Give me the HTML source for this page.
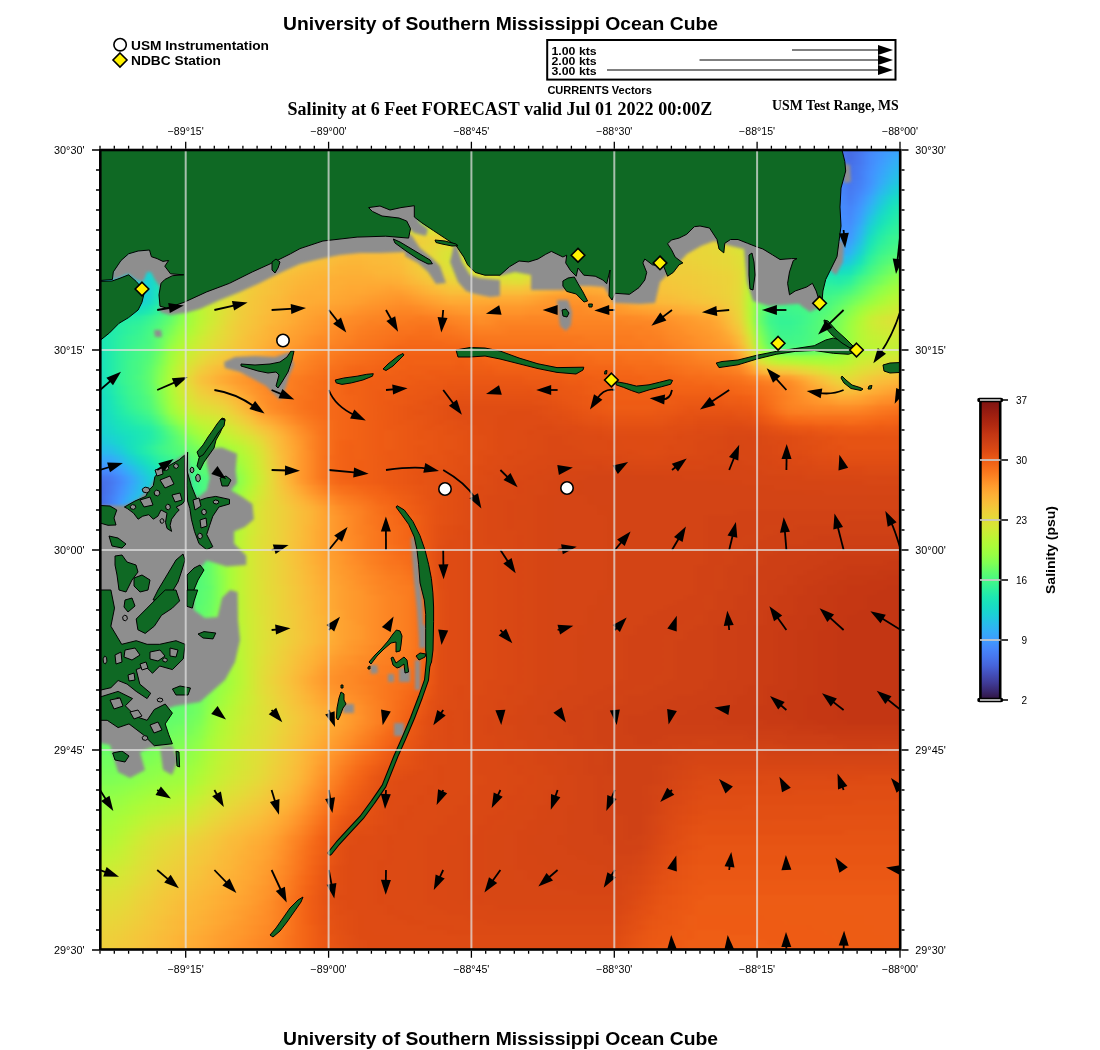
<!DOCTYPE html>
<html><head><meta charset="utf-8"><title>Salinity at 6 Feet FORECAST</title>
<style>
html,body{margin:0;padding:0;background:#fff;width:1100px;height:1050px;overflow:hidden}
#fw{position:absolute;left:100px;top:150px;width:800px;height:800px;overflow:hidden}
#f{position:absolute;left:-10px;top:-10px;width:820px;height:820px;filter:blur(1.5px)}
#f i{display:block;height:5px}
svg{position:absolute;left:0;top:0}
#arr path{stroke:#000;stroke-width:1.8;fill:none}
.land{fill:#0f6924;stroke:#000;stroke-width:1}
.grey{fill:#8e8e8e}
.grid{stroke:#e2e2e2;stroke-opacity:.72;stroke-width:2}
text{font-family:"Liberation Sans",Arial,sans-serif}
.serif{font-family:"Liberation Serif","Times New Roman",serif;font-weight:bold}
</style></head><body>
<div id="fw"><div id="f">
<i style="background:linear-gradient(90deg,#1bd0d5,#1bd0d5,#1bd0d5,#1ad2d2,#1ad4d0,#19d5cd,#18d7ca,#18d9c8,#18d9c8,#18dbc5,#18ddc2,#18dec0,#18e0bd,#19e2bb,#19e3b9,#19e3b9,#1ae4b6,#1ce6b4,#1de7b2,#1fe9af,#20eaac,#20eaac,#22ebaa,#25eca7,#27eea4,#2aefa1,#2cf09e,#2cf09e,#2ff19b,#32f298,#35f394,#38f491,#3cf58e,#3cf58e,#3ff68a,#43f787,#46f884,#4af880,#4ef97d,#4ef97d,#52fa7a,#55fa76,#59fb73,#5dfc6f,#61fc6c,#61fc6c,#65fd69,#69fd66,#6dfe62,#71fe5f,#75fe5c,#75fe5c,#79fe59,#7dff56,#80ff53,#84ff51,#88ff4e,#88ff4e,#8bff4b,#8fff49,#92ff47,#96fe44,#99fe42,#99fe42,#9cfe40,#9ffd3f,#a1fd3d,#a4fc3c,#a7fc3a,#a7fc3a,#a9fb39,#a1fd3d,#59fb73,#18e0bd,#33adf7,#4776ee,#4669e0,#4776ee,#4687fb,#4391fe,#3e9bfe,#3aa3fc,#3aa3fc)"></i>
<i style="background:linear-gradient(90deg,#1bd0d5,#1bd0d5,#1bd0d5,#1ad2d2,#1ad4d0,#19d5cd,#18d7ca,#18d9c8,#18d9c8,#18dbc5,#18ddc2,#18dec0,#18e0bd,#19e2bb,#19e3b9,#19e3b9,#1ae4b6,#1ce6b4,#1de7b2,#1fe9af,#20eaac,#20eaac,#22ebaa,#25eca7,#27eea4,#2aefa1,#2cf09e,#2cf09e,#2ff19b,#32f298,#35f394,#38f491,#3cf58e,#3cf58e,#3ff68a,#43f787,#46f884,#4af880,#4ef97d,#4ef97d,#52fa7a,#55fa76,#59fb73,#5dfc6f,#61fc6c,#61fc6c,#65fd69,#69fd66,#6dfe62,#71fe5f,#75fe5c,#75fe5c,#79fe59,#7dff56,#80ff53,#84ff51,#88ff4e,#88ff4e,#8bff4b,#8fff49,#92ff47,#96fe44,#99fe42,#99fe42,#9cfe40,#9ffd3f,#a1fd3d,#a4fc3c,#a7fc3a,#a7fc3a,#a9fb39,#a1fd3d,#59fb73,#18e0bd,#33adf7,#4776ee,#4669e0,#4776ee,#4687fb,#4391fe,#3e9bfe,#3aa3fc,#38a5fb)"></i>
<i style="background:linear-gradient(90deg,#1bd0d5,#1bd0d5,#1bd0d5,#1ad2d2,#1ad4d0,#19d5cd,#18d7ca,#18d9c8,#18d9c8,#18dbc5,#18ddc2,#18dec0,#18e0bd,#19e2bb,#19e3b9,#19e3b9,#1ae4b6,#1ce6b4,#1de7b2,#1fe9af,#20eaac,#20eaac,#22ebaa,#25eca7,#27eea4,#2aefa1,#2cf09e,#2cf09e,#2ff19b,#32f298,#35f394,#38f491,#3cf58e,#3cf58e,#3ff68a,#43f787,#46f884,#4af880,#4ef97d,#4ef97d,#52fa7a,#55fa76,#59fb73,#5dfc6f,#61fc6c,#61fc6c,#65fd69,#69fd66,#6dfe62,#71fe5f,#75fe5c,#75fe5c,#79fe59,#7dff56,#80ff53,#84ff51,#88ff4e,#88ff4e,#8bff4b,#8fff49,#92ff47,#96fe44,#99fe42,#99fe42,#9cfe40,#9ffd3f,#a1fd3d,#a4fc3c,#a7fc3a,#a7fc3a,#a9fb39,#a1fd3d,#59fb73,#19e2bb,#33adf7,#4776ee,#466be3,#4776ee,#4687fb,#4294ff,#3d9efe,#38a5fb,#37a8fa)"></i>
<i style="background:linear-gradient(90deg,#1bd0d5,#1bd0d5,#1bd0d5,#1ad2d2,#1ad4d0,#19d5cd,#18d7ca,#18d9c8,#18d9c8,#18dbc5,#18ddc2,#18dec0,#18e0bd,#19e2bb,#19e3b9,#19e3b9,#1ae4b6,#1ce6b4,#1de7b2,#1fe9af,#20eaac,#20eaac,#22ebaa,#25eca7,#27eea4,#2aefa1,#2cf09e,#2cf09e,#2ff19b,#32f298,#35f394,#38f491,#3cf58e,#3cf58e,#3ff68a,#43f787,#46f884,#4af880,#4ef97d,#4ef97d,#52fa7a,#55fa76,#59fb73,#5dfc6f,#61fc6c,#61fc6c,#65fd69,#69fd66,#6dfe62,#71fe5f,#75fe5c,#75fe5c,#79fe59,#7dff56,#80ff53,#84ff51,#88ff4e,#88ff4e,#8bff4b,#8fff49,#92ff47,#96fe44,#99fe42,#99fe42,#9cfe40,#9ffd3f,#a1fd3d,#a4fc3c,#a7fc3a,#a7fc3a,#a9fb39,#a1fd3d,#59fb73,#19e2bb,#31aff5,#4778f0,#466be3,#4778f0,#458afc,#4196ff,#3aa3fc,#33adf7,#31aff5)"></i>
<i style="background:linear-gradient(90deg,#1bd0d5,#1bd0d5,#1bd0d5,#1ad2d2,#1ad4d0,#19d5cd,#18d7ca,#18d9c8,#18d9c8,#18dbc5,#18ddc2,#18dec0,#18e0bd,#19e2bb,#19e3b9,#19e3b9,#1ae4b6,#1ce6b4,#1de7b2,#1fe9af,#20eaac,#20eaac,#22ebaa,#25eca7,#27eea4,#2aefa1,#2cf09e,#2cf09e,#2ff19b,#32f298,#35f394,#38f491,#3cf58e,#3cf58e,#3ff68a,#43f787,#46f884,#4af880,#4ef97d,#4ef97d,#52fa7a,#55fa76,#59fb73,#5dfc6f,#61fc6c,#61fc6c,#65fd69,#69fd66,#6dfe62,#71fe5f,#75fe5c,#75fe5c,#79fe59,#7dff56,#80ff53,#84ff51,#88ff4e,#88ff4e,#8bff4b,#8fff49,#92ff47,#96fe44,#99fe42,#99fe42,#9cfe40,#9ffd3f,#a1fd3d,#a4fc3c,#a7fc3a,#a7fc3a,#a9fb39,#a1fd3d,#59fb73,#19e3b9,#2fb2f4,#477bf2,#476ee6,#4778f0,#458afc,#4099ff,#37a8fa,#2fb2f4,#2eb4f2)"></i>
<i style="background:linear-gradient(90deg,#1bd0d5,#1bd0d5,#1bd0d5,#1ad2d2,#1ad4d0,#19d5cd,#18d7ca,#18d9c8,#18d9c8,#18dbc5,#18ddc2,#18dec0,#18e0bd,#19e2bb,#19e3b9,#19e3b9,#1ae4b6,#1ce6b4,#1de7b2,#1fe9af,#20eaac,#20eaac,#22ebaa,#25eca7,#27eea4,#2aefa1,#2cf09e,#2cf09e,#2ff19b,#32f298,#35f394,#38f491,#3cf58e,#3cf58e,#3ff68a,#43f787,#46f884,#4af880,#4ef97d,#4ef97d,#52fa7a,#55fa76,#59fb73,#5dfc6f,#61fc6c,#61fc6c,#65fd69,#69fd66,#6dfe62,#71fe5f,#75fe5c,#75fe5c,#79fe59,#7dff56,#80ff53,#84ff51,#88ff4e,#88ff4e,#8bff4b,#8fff49,#92ff47,#96fe44,#99fe42,#99fe42,#9cfe40,#9ffd3f,#a1fd3d,#a4fc3c,#a7fc3a,#a7fc3a,#a9fb39,#a1fd3d,#5dfc6f,#19e3b9,#2eb4f2,#467df4,#4771e9,#477bf2,#458cfd,#3d9efe,#33adf7,#2ab9ee,#28bceb)"></i>
<i style="background:linear-gradient(90deg,#1bd0d5,#1bd0d5,#1bd0d5,#1ad2d2,#1ad4d0,#19d5cd,#18d7ca,#18d9c8,#18d9c8,#18dbc5,#18ddc2,#18dec0,#18e0bd,#19e2bb,#19e3b9,#19e3b9,#1ae4b6,#1ce6b4,#1de7b2,#1fe9af,#20eaac,#20eaac,#22ebaa,#25eca7,#27eea4,#2aefa1,#2cf09e,#2cf09e,#2ff19b,#32f298,#35f394,#38f491,#3cf58e,#3cf58e,#3ff68a,#43f787,#46f884,#4af880,#4ef97d,#4ef97d,#52fa7a,#55fa76,#59fb73,#5dfc6f,#61fc6c,#61fc6c,#65fd69,#69fd66,#6dfe62,#71fe5f,#75fe5c,#75fe5c,#79fe59,#7dff56,#80ff53,#84ff51,#88ff4e,#88ff4e,#8bff4b,#8fff49,#92ff47,#96fe44,#99fe42,#99fe42,#9cfe40,#9ffd3f,#a1fd3d,#a4fc3c,#a7fc3a,#a7fc3a,#a9fb39,#a1fd3d,#5dfc6f,#1ae4b6,#2eb4f2,#4680f6,#4771e9,#467df4,#448ffe,#3ba0fd,#2fb2f4,#27bee9,#25c0e7)"></i>
<i style="background:linear-gradient(90deg,#1bd0d5,#1bd0d5,#1bd0d5,#1ad2d2,#1ad4d0,#19d5cd,#18d7ca,#18d9c8,#18d9c8,#18dbc5,#18ddc2,#18dec0,#18e0bd,#19e2bb,#19e3b9,#19e3b9,#1ae4b6,#1ce6b4,#1de7b2,#1fe9af,#20eaac,#20eaac,#22ebaa,#25eca7,#27eea4,#2aefa1,#2cf09e,#2cf09e,#2ff19b,#32f298,#35f394,#38f491,#3cf58e,#3cf58e,#3ff68a,#43f787,#46f884,#4af880,#4ef97d,#4ef97d,#52fa7a,#55fa76,#59fb73,#5dfc6f,#61fc6c,#61fc6c,#65fd69,#69fd66,#6dfe62,#71fe5f,#75fe5c,#75fe5c,#79fe59,#7dff56,#80ff53,#84ff51,#88ff4e,#88ff4e,#8bff4b,#8fff49,#92ff47,#96fe44,#99fe42,#99fe42,#9cfe40,#9ffd3f,#a1fd3d,#a4fc3c,#a7fc3a,#a7fc3a,#a9fb39,#a1fd3d,#5dfc6f,#1ae4b6,#2cb7f0,#4682f8,#4773eb,#467df4,#4391fe,#38a5fb,#2cb7f0,#22c5e2,#20c7df)"></i>
<i style="background:linear-gradient(90deg,#1bd0d5,#1bd0d5,#1bd0d5,#1ad2d2,#1ad4d0,#19d5cd,#18d7ca,#18d9c8,#18d9c8,#18dbc5,#18ddc2,#18dec0,#18e0bd,#19e2bb,#19e2bb,#19e3b9,#1ae4b6,#1ce6b4,#1de7b2,#1fe9af,#1fe9af,#20eaac,#22ebaa,#25eca7,#27eea4,#2aefa1,#2aefa1,#2cf09e,#2ff19b,#32f298,#35f394,#38f491,#38f491,#3cf58e,#3ff68a,#43f787,#46f884,#4af880,#4af880,#4ef97d,#52fa7a,#55fa76,#59fb73,#5dfc6f,#5dfc6f,#61fc6c,#65fd69,#69fd66,#6dfe62,#71fe5f,#71fe5f,#75fe5c,#79fe59,#7dff56,#80ff53,#84ff51,#84ff51,#88ff4e,#8bff4b,#8fff49,#92ff47,#96fe44,#96fe44,#99fe42,#9cfe40,#9ffd3f,#a1fd3d,#a4fc3c,#a4fc3c,#a7fc3a,#a9fb39,#a1fd3d,#5dfc6f,#1ae4b6,#2ab9ee,#4685fa,#4776ee,#4680f6,#4391fe,#37a8fa,#28bceb,#1fc9dd,#1ecbda)"></i>
<i style="background:linear-gradient(90deg,#1bd0d5,#1bd0d5,#1bd0d5,#1ad2d2,#1ad4d0,#19d5cd,#18d7ca,#18d7ca,#18d9c8,#18dbc5,#18ddc2,#18dec0,#18e0bd,#18e0bd,#19e2bb,#19e3b9,#1ae4b6,#1ce6b4,#1ce6b4,#1de7b2,#1fe9af,#20eaac,#22ebaa,#22ebaa,#25eca7,#27eea4,#2aefa1,#2cf09e,#2cf09e,#2ff19b,#32f298,#35f394,#38f491,#38f491,#3cf58e,#3ff68a,#43f787,#46f884,#46f884,#4af880,#4ef97d,#52fa7a,#55fa76,#59fb73,#59fb73,#5dfc6f,#61fc6c,#65fd69,#69fd66,#69fd66,#6dfe62,#71fe5f,#75fe5c,#79fe59,#79fe59,#7dff56,#80ff53,#84ff51,#88ff4e,#88ff4e,#8bff4b,#8fff49,#92ff47,#96fe44,#96fe44,#99fe42,#9cfe40,#9ffd3f,#a1fd3d,#a1fd3d,#a4fc3c,#9ffd3f,#59fb73,#1ae4b6,#2ab9ee,#4687fb,#4778f0,#4682f8,#4196ff,#31aff5,#22c5e2,#1ad2d2,#1ad4d0)"></i>
<i style="background:linear-gradient(90deg,#1bd0d5,#1bd0d5,#1bd0d5,#1ad2d2,#1ad4d0,#19d5cd,#18d7ca,#18d7ca,#18d9c8,#18dbc5,#18ddc2,#18ddc2,#18dec0,#18e0bd,#19e2bb,#19e3b9,#19e3b9,#1ae4b6,#1ce6b4,#1de7b2,#1de7b2,#1fe9af,#20eaac,#22ebaa,#25eca7,#25eca7,#27eea4,#2aefa1,#2cf09e,#2cf09e,#2ff19b,#32f298,#35f394,#38f491,#38f491,#3cf58e,#3ff68a,#43f787,#43f787,#46f884,#4af880,#4ef97d,#4ef97d,#52fa7a,#55fa76,#59fb73,#5dfc6f,#5dfc6f,#61fc6c,#65fd69,#69fd66,#69fd66,#6dfe62,#71fe5f,#75fe5c,#79fe59,#79fe59,#7dff56,#80ff53,#84ff51,#84ff51,#88ff4e,#8bff4b,#8fff49,#92ff47,#92ff47,#96fe44,#99fe42,#9cfe40,#9cfe40,#9ffd3f,#99fe42,#55fa76,#19e3b9,#2ab9ee,#4687fb,#477bf2,#4687fb,#3e9bfe,#2cb7f0,#1fc9dd,#18d7ca,#18d9c8)"></i>
<i style="background:linear-gradient(90deg,#1bd0d5,#1bd0d5,#1bd0d5,#1ad2d2,#1ad4d0,#19d5cd,#19d5cd,#18d7ca,#18d9c8,#18d9c8,#18dbc5,#18ddc2,#18dec0,#18dec0,#18e0bd,#19e2bb,#19e3b9,#19e3b9,#1ae4b6,#1ce6b4,#1ce6b4,#1de7b2,#1fe9af,#20eaac,#20eaac,#22ebaa,#25eca7,#27eea4,#27eea4,#2aefa1,#2cf09e,#2cf09e,#2ff19b,#32f298,#35f394,#35f394,#38f491,#3cf58e,#3ff68a,#3ff68a,#43f787,#46f884,#46f884,#4af880,#4ef97d,#52fa7a,#52fa7a,#55fa76,#59fb73,#5dfc6f,#5dfc6f,#61fc6c,#65fd69,#65fd69,#69fd66,#6dfe62,#71fe5f,#71fe5f,#75fe5c,#79fe59,#7dff56,#7dff56,#80ff53,#84ff51,#84ff51,#88ff4e,#8bff4b,#8fff49,#8fff49,#92ff47,#96fe44,#8bff4b,#4af880,#19e2bb,#2cb7f0,#458afc,#467df4,#458cfd,#38a5fb,#25c0e7,#1ad4d0,#18dec0,#18e0bd)"></i>
<i style="background:linear-gradient(90deg,#1bd0d5,#1bd0d5,#1bd0d5,#1ad2d2,#1ad4d0,#1ad4d0,#19d5cd,#18d7ca,#18d9c8,#18d9c8,#18dbc5,#18ddc2,#18ddc2,#18dec0,#18e0bd,#18e0bd,#19e2bb,#19e3b9,#1ae4b6,#1ae4b6,#1ce6b4,#1de7b2,#1de7b2,#1fe9af,#20eaac,#20eaac,#22ebaa,#25eca7,#25eca7,#27eea4,#2aefa1,#2cf09e,#2cf09e,#2ff19b,#32f298,#32f298,#35f394,#38f491,#38f491,#3cf58e,#3ff68a,#3ff68a,#43f787,#46f884,#4af880,#4af880,#4ef97d,#52fa7a,#52fa7a,#55fa76,#59fb73,#59fb73,#5dfc6f,#61fc6c,#61fc6c,#65fd69,#69fd66,#6dfe62,#6dfe62,#71fe5f,#75fe5c,#75fe5c,#79fe59,#7dff56,#7dff56,#80ff53,#84ff51,#84ff51,#88ff4e,#8bff4b,#8fff49,#84ff51,#46f884,#18e0bd,#2cb7f0,#458afc,#4680f6,#4391fe,#35abf8,#22c5e2,#18d9c8,#19e3b9,#1ae4b6)"></i>
<i style="background:linear-gradient(90deg,#1bd0d5,#1bd0d5,#1bd0d5,#1ad2d2,#1ad4d0,#19d5cd,#19d5cd,#18d7ca,#18d9c8,#18dbc5,#18ddc2,#18ddc2,#18dec0,#18e0bd,#19e2bb,#19e2bb,#19e3b9,#1ae4b6,#1ce6b4,#1ce6b4,#1de7b2,#1fe9af,#20eaac,#20eaac,#22ebaa,#22ebaa,#25eca7,#27eea4,#27eea4,#2aefa1,#2cf09e,#2cf09e,#2ff19b,#32f298,#32f298,#35f394,#35f394,#38f491,#3cf58e,#3cf58e,#3ff68a,#43f787,#43f787,#46f884,#46f884,#4af880,#4ef97d,#4ef97d,#52fa7a,#55fa76,#55fa76,#59fb73,#59fb73,#5dfc6f,#61fc6c,#61fc6c,#65fd69,#69fd66,#69fd66,#6dfe62,#6dfe62,#71fe5f,#75fe5c,#75fe5c,#79fe59,#79fe59,#7dff56,#7dff56,#7dff56,#80ff53,#80ff53,#79fe59,#3cf58e,#18ddc2,#2cb7f0,#458cfd,#4685fa,#4196ff,#2eb4f2,#1ccdd8,#18e0bd,#1fe9af,#20eaac)"></i>
<i style="background:linear-gradient(90deg,#1bd0d5,#1bd0d5,#1ad2d2,#1ad4d0,#19d5cd,#18d7ca,#18d9c8,#18dbc5,#18ddc2,#18dec0,#18e0bd,#19e2bb,#19e3b9,#1ae4b6,#1ce6b4,#1de7b2,#1fe9af,#20eaac,#22ebaa,#27eea4,#2aefa1,#2cf09e,#2cf09e,#2ff19b,#2ff19b,#32f298,#32f298,#35f394,#38f491,#38f491,#3cf58e,#3cf58e,#3ff68a,#3ff68a,#43f787,#46f884,#46f884,#4af880,#4af880,#4ef97d,#4ef97d,#52fa7a,#52fa7a,#55fa76,#59fb73,#59fb73,#5dfc6f,#5dfc6f,#61fc6c,#61fc6c,#65fd69,#69fd66,#69fd66,#6dfe62,#6dfe62,#71fe5f,#71fe5f,#75fe5c,#75fe5c,#79fe59,#79fe59,#7dff56,#7dff56,#80ff53,#80ff53,#80ff53,#7dff56,#7dff56,#7dff56,#7dff56,#7dff56,#71fe5f,#35f394,#18dbc5,#2cb7f0,#458cfd,#4687fb,#3e9bfe,#2ab9ee,#1ad4d0,#19e3b9,#22ebaa,#25eca7)"></i>
<i style="background:linear-gradient(90deg,#1bd0d5,#1bd0d5,#1ad2d2,#19d5cd,#18d9c8,#18ddc2,#18e0bd,#19e3b9,#1ae4b6,#1de7b2,#20eaac,#25eca7,#2aefa1,#2ff19b,#35f394,#38f491,#3ff68a,#46f884,#4ef97d,#55fa76,#5dfc6f,#61fc6c,#65fd69,#65fd69,#69fd66,#69fd66,#69fd66,#6dfe62,#6dfe62,#71fe5f,#71fe5f,#75fe5c,#75fe5c,#75fe5c,#79fe59,#79fe59,#7dff56,#7dff56,#80ff53,#80ff53,#80ff53,#84ff51,#84ff51,#88ff4e,#88ff4e,#8bff4b,#8bff4b,#8bff4b,#8fff49,#8fff49,#92ff47,#92ff47,#96fe44,#96fe44,#96fe44,#99fe42,#99fe42,#9cfe40,#9cfe40,#9cfe40,#9cfe40,#9ffd3f,#9ffd3f,#9ffd3f,#99fe42,#96fe44,#8fff49,#88ff4e,#84ff51,#7dff56,#75fe5c,#65fd69,#2ff19b,#18d9c8,#2eb4f2,#448ffe,#458afc,#3ba0fd,#23c3e4,#18dbc5,#1de7b2,#27eea4,#2aefa1)"></i>
<i style="background:linear-gradient(90deg,#1bd0d5,#1bd0d5,#1ad4d0,#18d9c8,#18ddc2,#18e0bd,#1ae4b6,#1de7b2,#22ebaa,#27eea4,#2ff19b,#35f394,#3cf58e,#46f884,#4ef97d,#59fb73,#61fc6c,#6dfe62,#75fe5c,#7dff56,#88ff4e,#8fff49,#92ff47,#92ff47,#92ff47,#96fe44,#96fe44,#96fe44,#99fe42,#99fe42,#99fe42,#9cfe40,#9cfe40,#9cfe40,#9ffd3f,#9ffd3f,#9ffd3f,#a1fd3d,#a1fd3d,#a1fd3d,#a1fd3d,#a4fc3c,#a4fc3c,#a4fc3c,#a7fc3a,#a7fc3a,#a7fc3a,#a9fb39,#a9fb39,#a9fb39,#acfb38,#acfb38,#acfb38,#affa37,#affa37,#affa37,#b1f936,#b1f936,#b1f936,#b1f936,#b1f936,#b1f936,#b1f936,#b1f936,#a9fb39,#a4fc3c,#9cfe40,#92ff47,#88ff4e,#7dff56,#71fe5f,#59fb73,#2aefa1,#18d7ca,#2eb4f2,#448ffe,#458cfd,#38a5fb,#1fc9dd,#18dec0,#20eaac,#2cf09e,#2cf09e)"></i>
<i style="background:linear-gradient(90deg,#1bd0d5,#1bd0d5,#19d5cd,#18dbc5,#19e2bb,#1ce6b4,#20eaac,#2aefa1,#32f298,#3cf58e,#4af880,#55fa76,#61fc6c,#71fe5f,#7dff56,#88ff4e,#96fe44,#9ffd3f,#a7fc3a,#b1f936,#b9f635,#c1f334,#c1f334,#c3f134,#c3f134,#c3f134,#c3f134,#c3f134,#c3f134,#c6f034,#c6f034,#c6f034,#c6f034,#c6f034,#c6f034,#c8ef34,#c8ef34,#c8ef34,#c8ef34,#c8ef34,#c8ef34,#cbed34,#cbed34,#cbed34,#cbed34,#cbed34,#cdec34,#cdec34,#cdec34,#cdec34,#cdec34,#cdec34,#d0ea34,#d0ea34,#d0ea34,#d0ea34,#d0ea34,#d0ea34,#d0ea34,#d0ea34,#d0ea34,#cdec34,#cdec34,#cbed34,#c3f134,#b7f735,#acfb38,#9ffd3f,#8fff49,#7dff56,#69fd66,#4ef97d,#25eca7,#19d5cd,#2eb4f2,#4391fe,#4391fe,#33adf7,#1ad2d2,#1ae4b6,#27eea4,#32f298,#32f298)"></i>
<i style="background:linear-gradient(90deg,#1bd0d5,#1bd0d5,#19d5cd,#18ddc2,#19e3b9,#1fe9af,#25eca7,#2ff19b,#3cf58e,#4af880,#59fb73,#69fd66,#79fe59,#88ff4e,#96fe44,#a1fd3d,#acfb38,#b7f735,#bef434,#c8ef34,#d2e935,#d9e436,#dbe236,#dbe236,#dbe236,#dbe236,#dbe236,#dde037,#dde037,#dde037,#dde037,#dde037,#dde037,#dde037,#dde037,#dde037,#dde037,#dde037,#dde037,#dde037,#dde037,#dde037,#dde037,#dfdf37,#dfdf37,#dfdf37,#dfdf37,#dfdf37,#dfdf37,#dfdf37,#dfdf37,#e1dd37,#e1dd37,#e1dd37,#e1dd37,#e1dd37,#e1dd37,#e1dd37,#dfdf37,#dfdf37,#dde037,#dde037,#dde037,#dbe236,#d0ea34,#c3f134,#b4f836,#a7fc3a,#92ff47,#7dff56,#65fd69,#46f884,#20eaac,#1ad4d0,#2fb2f4,#4294ff,#4294ff,#2fb2f4,#19d5cd,#1fe9af,#2cf09e,#35f394,#35f394)"></i>
<i style="background:linear-gradient(90deg,#1bd0d5,#1bd0d5,#19d5cd,#18ddc2,#19e2bb,#1de7b2,#25eca7,#2ff19b,#3ff68a,#55fa76,#69fd66,#7dff56,#8bff4b,#9cfe40,#a7fc3a,#b4f836,#bef434,#cbed34,#d4e735,#dde037,#e5d938,#ebd339,#ecd13a,#eecf3a,#eecf3a,#eecf3a,#efcd3a,#efcd3a,#efcd3a,#eecf3a,#eecf3a,#eecf3a,#ecd13a,#ecd13a,#ebd339,#e9d539,#e9d539,#e9d539,#e9d539,#e9d539,#ebd339,#ebd339,#ebd339,#ebd339,#ecd13a,#ecd13a,#ecd13a,#ecd13a,#ecd13a,#eecf3a,#eecf3a,#eecf3a,#eecf3a,#eecf3a,#eecf3a,#ecd13a,#ecd13a,#ecd13a,#ebd339,#ebd339,#e9d539,#e9d539,#e7d739,#e5d938,#dbe236,#d0ea34,#bef434,#a9fb39,#92ff47,#75fe5c,#52fa7a,#32f298,#1ae4b6,#1ccdd8,#2fb2f4,#4196ff,#4099ff,#2ab9ee,#18dec0,#25eca7,#35f394,#3cf58e,#3cf58e)"></i>
<i style="background:linear-gradient(90deg,#1bd0d5,#1bd0d5,#1ad4d0,#18d9c8,#18dec0,#19e3b9,#1de7b2,#2aefa1,#3cf58e,#52fa7a,#65fd69,#7dff56,#8fff49,#9ffd3f,#acfb38,#b9f635,#c6f034,#d0ea34,#d9e436,#dfdf37,#e7d739,#eecf3a,#efcd3a,#f1cb3a,#f2c93a,#f2c93a,#f4c73a,#f4c73a,#f4c73a,#f2c93a,#f2c93a,#f2c93a,#efcd3a,#eecf3a,#ebd339,#e9d539,#e5d938,#e7d739,#e7d739,#e9d539,#e9d539,#ebd339,#ebd339,#ecd13a,#ecd13a,#eecf3a,#eecf3a,#efcd3a,#efcd3a,#efcd3a,#efcd3a,#efcd3a,#efcd3a,#efcd3a,#efcd3a,#efcd3a,#eecf3a,#eecf3a,#ecd13a,#ebd339,#ebd339,#e9d539,#e9d539,#e5d938,#dfdf37,#d2e935,#c1f334,#a9fb39,#8fff49,#69fd66,#43f787,#25eca7,#18dec0,#1fc9dd,#2fb2f4,#3e9bfe,#3ba0fd,#25c0e7,#19e2bb,#2aefa1,#38f491,#3ff68a,#43f787)"></i>
<i style="background:linear-gradient(90deg,#1bd0d5,#1bd0d5,#1ad2d2,#19d5cd,#18d7ca,#18dbc5,#18dec0,#1fe9af,#2ff19b,#46f884,#61fc6c,#7dff56,#92ff47,#a1fd3d,#b1f936,#bef434,#cbed34,#d4e735,#dbe236,#e3db38,#e9d539,#eecf3a,#f1cb3a,#f2c93a,#f5c53a,#f6c33a,#f7c13a,#f7c13a,#f7c13a,#f6c33a,#f6c33a,#f5c53a,#f1cb3a,#ecd13a,#e9d539,#e3db38,#dfdf37,#dfdf37,#e1dd37,#e3db38,#e5d938,#e7d739,#e9d539,#ebd339,#ebd339,#ecd13a,#eecf3a,#efcd3a,#efcd3a,#f1cb3a,#f1cb3a,#f2c93a,#f1cb3a,#f1cb3a,#efcd3a,#efcd3a,#eecf3a,#eecf3a,#ecd13a,#ebd339,#ebd339,#e9d539,#e7d739,#e5d938,#e1dd37,#d9e436,#c3f134,#a9fb39,#88ff4e,#59fb73,#2ff19b,#19e3b9,#1ad4d0,#22c5e2,#2fb2f4,#3ba0fd,#35abf8,#1fc9dd,#1de7b2,#32f298,#3ff68a,#4af880,#4af880)"></i>
<i style="background:linear-gradient(90deg,#1bd0d5,#1bd0d5,#1bd0d5,#1ad2d2,#1ad4d0,#19d5cd,#18d9c8,#1ae4b6,#2aefa1,#43f787,#61fc6c,#80ff53,#96fe44,#a4fc3c,#b4f836,#c1f334,#d0ea34,#d7e535,#dde037,#e3db38,#ebd339,#eecf3a,#f1cb3a,#f4c73a,#f6c33a,#f8be39,#f9bc39,#f9bc39,#f8be39,#f8be39,#f7c13a,#f6c33a,#f2c93a,#ecd13a,#e7d739,#dfdf37,#d9e436,#dbe236,#dde037,#dfdf37,#e1dd37,#e3db38,#e5d938,#e7d739,#ebd339,#ecd13a,#eecf3a,#efcd3a,#f1cb3a,#f1cb3a,#f2c93a,#f2c93a,#f2c93a,#f1cb3a,#f1cb3a,#efcd3a,#eecf3a,#eecf3a,#ecd13a,#ebd339,#ebd339,#e9d539,#e7d739,#e5d938,#e1dd37,#dbe236,#c3f134,#a7fc3a,#80ff53,#52fa7a,#25eca7,#18ddc2,#1ccdd8,#25c0e7,#2fb2f4,#38a5fb,#2fb2f4,#1bd0d5,#22ebaa,#38f491,#46f884,#4ef97d,#52fa7a)"></i>
<i style="background:linear-gradient(90deg,#1bd0d5,#1bd0d5,#1bd0d5,#1bd0d5,#1bd0d5,#1bd0d5,#1ad4d0,#18e0bd,#27eea4,#43f787,#65fd69,#88ff4e,#9cfe40,#acfb38,#bcf534,#c8ef34,#d7e535,#dde037,#e3db38,#e9d539,#eecf3a,#f1cb3a,#f4c73a,#f6c33a,#f8be39,#faba39,#fbb838,#fbb838,#faba39,#faba39,#f9bc39,#f8be39,#f4c73a,#eecf3a,#e7d739,#dfdf37,#d7e535,#d7e535,#d9e436,#dbe236,#dde037,#dfdf37,#e1dd37,#e3db38,#e7d739,#ebd339,#eecf3a,#efcd3a,#f1cb3a,#f2c93a,#f4c73a,#f4c73a,#f4c73a,#f2c93a,#f1cb3a,#f1cb3a,#efcd3a,#eecf3a,#eecf3a,#ecd13a,#ebd339,#e9d539,#e9d539,#e7d739,#e5d938,#dfdf37,#c6f034,#a4fc3c,#79fe59,#46f884,#22ebaa,#18dbc5,#1bd0d5,#20c7df,#27bee9,#2eb4f2,#25c0e7,#18dbc5,#2cf09e,#43f787,#52fa7a,#59fb73,#5dfc6f)"></i>
<i style="background:linear-gradient(90deg,#1bd0d5,#1bd0d5,#1bd0d5,#1bd0d5,#1bd0d5,#1bd0d5,#1ad2d2,#19e2bb,#27eea4,#46f884,#6dfe62,#8fff49,#a4fc3c,#b1f936,#c1f334,#d0ea34,#dbe236,#e3db38,#e7d739,#ecd13a,#f1cb3a,#f4c73a,#f6c33a,#f8be39,#f9bc39,#fbb838,#fbb637,#fbb637,#fbb838,#faba39,#faba39,#f8be39,#f5c53a,#efcd3a,#e9d539,#e1dd37,#d9e436,#d9e436,#d9e436,#dbe236,#dbe236,#dde037,#dde037,#dfdf37,#e3db38,#e9d539,#eecf3a,#efcd3a,#f1cb3a,#f2c93a,#f4c73a,#f5c53a,#f5c53a,#f4c73a,#f2c93a,#f1cb3a,#f1cb3a,#efcd3a,#eecf3a,#eecf3a,#ecd13a,#ebd339,#e9d539,#e7d739,#e5d938,#dfdf37,#c3f134,#a1fd3d,#71fe5f,#46f884,#27eea4,#18e0bd,#18d7ca,#1ad2d2,#1fc9dd,#25c0e7,#1ecbda,#19e2bb,#32f298,#4af880,#59fb73,#65fd69,#69fd66)"></i>
<i style="background:linear-gradient(90deg,#1bd0d5,#1bd0d5,#1bd0d5,#1bd0d5,#1bd0d5,#1bd0d5,#1ad2d2,#19e2bb,#2cf09e,#52fa7a,#79fe59,#9cfe40,#affa37,#bef434,#cdec34,#d9e436,#e5d938,#ebd339,#eecf3a,#f2c93a,#f5c53a,#f7c13a,#f9bc39,#faba39,#fbb838,#fcb336,#fcb336,#fcb336,#fbb637,#fbb637,#fbb838,#faba39,#f6c33a,#f1cb3a,#ebd339,#e3db38,#dde037,#dbe236,#dbe236,#d9e436,#d9e436,#d7e535,#d7e535,#d7e535,#dfdf37,#e7d739,#eecf3a,#f1cb3a,#f2c93a,#f4c73a,#f5c53a,#f6c33a,#f6c33a,#f5c53a,#f4c73a,#f4c73a,#f2c93a,#f1cb3a,#efcd3a,#efcd3a,#eecf3a,#ecd13a,#ebd339,#e9d539,#e7d739,#e1dd37,#c3f134,#9cfe40,#69fd66,#46f884,#2ff19b,#20eaac,#1ae4b6,#18dec0,#18d9c8,#1ad4d0,#18dbc5,#22ebaa,#3ff68a,#55fa76,#69fd66,#75fe5c,#79fe59)"></i>
<i style="background:linear-gradient(90deg,#1bd0d5,#1bd0d5,#1bd0d5,#1bd0d5,#1bd0d5,#1bd0d5,#1ad2d2,#19e3b9,#2ff19b,#55fa76,#84ff51,#a4fc3c,#b7f735,#c3f134,#d2e935,#dfdf37,#e9d539,#eecf3a,#f2c93a,#f5c53a,#f7c13a,#f9bc39,#fbb838,#fbb637,#fbb637,#fcb336,#fcb136,#fcb136,#fcb336,#fbb637,#fbb637,#fbb838,#f7c13a,#f4c73a,#eecf3a,#e7d739,#e1dd37,#dde037,#dbe236,#dbe236,#d9e436,#d7e535,#d4e735,#d2e935,#dde037,#e7d739,#eecf3a,#f1cb3a,#f4c73a,#f5c53a,#f6c33a,#f7c13a,#f7c13a,#f6c33a,#f5c53a,#f4c73a,#f4c73a,#f2c93a,#f1cb3a,#efcd3a,#efcd3a,#eecf3a,#ecd13a,#ebd339,#e9d539,#e3db38,#c3f134,#96fe44,#61fc6c,#4af880,#38f491,#2aefa1,#22ebaa,#1ce6b4,#19e2bb,#18dec0,#19e3b9,#2cf09e,#46f884,#5dfc6f,#71fe5f,#80ff53,#84ff51)"></i>
<i style="background:linear-gradient(90deg,#1ccdd8,#1ccdd8,#1ccdd8,#1ccdd8,#1ccdd8,#1ccdd8,#1ad4d0,#1ae4b6,#35f394,#5dfc6f,#8bff4b,#acfb38,#bef434,#cbed34,#d9e436,#e5d938,#eecf3a,#f2c93a,#f5c53a,#f7c13a,#f9bc39,#fbb838,#fbb637,#fcb336,#fcb136,#fdae35,#fdae35,#fdae35,#fdae35,#fcb136,#fcb136,#fcb336,#faba39,#f6c33a,#f2c93a,#ecd13a,#e7d739,#e5d938,#e3db38,#e1dd37,#dfdf37,#dde037,#d9e436,#d9e436,#e1dd37,#ebd339,#f2c93a,#f5c53a,#f6c33a,#f8be39,#f9bc39,#f9bc39,#f9bc39,#f8be39,#f7c13a,#f6c33a,#f5c53a,#f4c73a,#f2c93a,#f1cb3a,#f1cb3a,#efcd3a,#eecf3a,#ecd13a,#ebd339,#e3db38,#c1f334,#8fff49,#5dfc6f,#4af880,#3ff68a,#35f394,#2cf09e,#27eea4,#20eaac,#1fe9af,#25eca7,#3ff68a,#55fa76,#6dfe62,#80ff53,#92ff47,#92ff47)"></i>
<i style="background:linear-gradient(90deg,#1ccdd8,#1ccdd8,#1ccdd8,#1ccdd8,#1ccdd8,#1ccdd8,#1ad4d0,#1ae4b6,#35f394,#61fc6c,#8fff49,#affa37,#c1f334,#cdec34,#dbe236,#e7d739,#efcd3a,#f4c73a,#f6c33a,#f8be39,#faba39,#fbb637,#fcb336,#fcb136,#fdae35,#fdae35,#fdac34,#fdac34,#fdac34,#fdac34,#fdac34,#fdae35,#fbb637,#f9bc39,#f6c33a,#f2c93a,#eecf3a,#ebd339,#ebd339,#e9d539,#e7d739,#e5d938,#e3db38,#e1dd37,#e9d539,#f1cb3a,#f6c33a,#f8be39,#faba39,#faba39,#fbb838,#fbb637,#faba39,#f9bc39,#f8be39,#f7c13a,#f6c33a,#f5c53a,#f4c73a,#f2c93a,#f1cb3a,#efcd3a,#eecf3a,#ecd13a,#ebd339,#e3db38,#bef434,#8bff4b,#5dfc6f,#4af880,#3ff68a,#38f491,#32f298,#2cf09e,#27eea4,#25eca7,#2ff19b,#4af880,#61fc6c,#75fe5c,#8bff4b,#99fe42,#9cfe40)"></i>
<i style="background:linear-gradient(90deg,#1ecbda,#1ecbda,#1ecbda,#1ecbda,#1ecbda,#1ecbda,#1ad4d0,#1ce6b4,#38f491,#69fd66,#96fe44,#b4f836,#c3f134,#d2e935,#dde037,#e9d539,#f1cb3a,#f5c53a,#f7c13a,#f9bc39,#fbb838,#fcb336,#fcb136,#fdae35,#fdae35,#fdac34,#fea933,#fea933,#fea732,#fea732,#fea431,#fea732,#fdac34,#fcb336,#faba39,#f7c13a,#f5c53a,#f4c73a,#f4c73a,#f4c73a,#f2c93a,#f2c93a,#f1cb3a,#f1cb3a,#f5c53a,#f8be39,#fbb637,#fcb136,#fdae35,#fdae35,#fdae35,#fdae35,#fcb336,#fbb838,#faba39,#f8be39,#f7c13a,#f6c33a,#f5c53a,#f4c73a,#f2c93a,#f1cb3a,#efcd3a,#eecf3a,#ebd339,#e3db38,#b9f635,#80ff53,#59fb73,#4ef97d,#43f787,#3cf58e,#38f491,#35f394,#32f298,#32f298,#3ff68a,#59fb73,#71fe5f,#88ff4e,#99fe42,#a7fc3a,#a9fb39)"></i>
<i style="background:linear-gradient(90deg,#1fc9dd,#1fc9dd,#1fc9dd,#1fc9dd,#1fc9dd,#1fc9dd,#1ad4d0,#1de7b2,#3cf58e,#69fd66,#99fe42,#b7f735,#c6f034,#d4e735,#dfdf37,#ebd339,#f1cb3a,#f5c53a,#f7c13a,#f9bc39,#fbb637,#fcb136,#fdae35,#fdae35,#fdac34,#fea933,#fea732,#fea732,#fea431,#fea130,#fe9e2f,#fe9e2f,#fea431,#fdac34,#fcb336,#fbb838,#f8be39,#f8be39,#f8be39,#f8be39,#f8be39,#f8be39,#f8be39,#f8be39,#faba39,#fcb336,#fdae35,#fea933,#fea732,#fea732,#fea732,#fea933,#fdae35,#fcb336,#fbb838,#f9bc39,#f8be39,#f7c13a,#f6c33a,#f5c53a,#f4c73a,#f2c93a,#efcd3a,#eecf3a,#ebd339,#e3db38,#b7f735,#7dff56,#59fb73,#4ef97d,#43f787,#3ff68a,#3cf58e,#38f491,#38f491,#3ff68a,#4ef97d,#65fd69,#7dff56,#92ff47,#a1fd3d,#affa37,#b1f936)"></i>
<i style="background:linear-gradient(90deg,#1fc9dd,#1fc9dd,#1fc9dd,#1fc9dd,#1fc9dd,#1ecbda,#19d5cd,#1fe9af,#3ff68a,#71fe5f,#9cfe40,#b9f635,#cbed34,#d7e535,#e1dd37,#ecd13a,#f2c93a,#f6c33a,#f8be39,#faba39,#fcb336,#fdae35,#fdac34,#fdac34,#fea933,#fea732,#fea431,#fea130,#fe9e2f,#fe9b2d,#fe992c,#fe962b,#fe9b2d,#fea130,#fea732,#fdac34,#fcb136,#fcb136,#fcb136,#fcb136,#fdae35,#fdae35,#fdae35,#fdae35,#fea933,#fea431,#fe9e2f,#fe9b2d,#fe992c,#fe992c,#fe9b2d,#fe9e2f,#fea732,#fdac34,#fcb336,#fbb838,#faba39,#f9bc39,#f8be39,#f7c13a,#f5c53a,#f4c73a,#f2c93a,#efcd3a,#ecd13a,#e3db38,#b4f836,#75fe5c,#59fb73,#4ef97d,#46f884,#43f787,#43f787,#43f787,#43f787,#4ef97d,#61fc6c,#75fe5c,#8bff4b,#9ffd3f,#affa37,#b9f635,#bcf534)"></i>
<i style="background:linear-gradient(90deg,#1ccdd8,#1ccdd8,#1ccdd8,#1ccdd8,#1ccdd8,#1bd0d5,#18dbc5,#22ebaa,#46f884,#75fe5c,#9ffd3f,#bcf534,#cbed34,#d9e436,#e3db38,#ecd13a,#f4c73a,#f6c33a,#f9bc39,#fbb838,#fcb336,#fdae35,#fdac34,#fea933,#fea732,#fea431,#fea130,#fe9e2f,#fe992c,#fe962b,#fe932a,#fe9029,#fe932a,#fe992c,#fe9e2f,#fea431,#fea933,#fea933,#fea933,#fea732,#fea732,#fea431,#fea431,#fea431,#fea130,#fe9b2d,#fe992c,#fe962b,#fe932a,#fe932a,#fe962b,#fe992c,#fea130,#fea732,#fdae35,#fcb336,#fbb637,#fbb838,#faba39,#f9bc39,#f8be39,#f6c33a,#f5c53a,#f2c93a,#eecf3a,#e3db38,#b4f836,#6dfe62,#55fa76,#4af880,#43f787,#43f787,#46f884,#46f884,#4af880,#59fb73,#6dfe62,#84ff51,#99fe42,#a9fb39,#b7f735,#c1f334,#c3f134)"></i>
<i style="background:linear-gradient(90deg,#19d5cd,#19d5cd,#18d7ca,#18d9c8,#18dbc5,#18ddc2,#1ae4b6,#2ff19b,#4ef97d,#79fe59,#9ffd3f,#bcf534,#cbed34,#d9e436,#e5d938,#eecf3a,#f4c73a,#f7c13a,#f9bc39,#fbb637,#fcb136,#fdac34,#fea732,#fea431,#fea130,#fe9e2f,#fe9b2d,#fe962b,#fe932a,#fe9029,#fd8d27,#fd8a26,#fd8a26,#fd8d27,#fe932a,#fe992c,#fe9b2d,#fe9e2f,#fe9e2f,#fe9e2f,#fe9b2d,#fe992c,#fe992c,#fe992c,#fe962b,#fe932a,#fe9029,#fe9029,#fd8d27,#fd8d27,#fe9029,#fe932a,#fe992c,#fe9b2d,#fea130,#fea732,#fea933,#fdac34,#fdae35,#fcb136,#fbb637,#fbb838,#f9bc39,#f7c13a,#f1cb3a,#e5d938,#b4f836,#69fd66,#4ef97d,#43f787,#3ff68a,#43f787,#46f884,#4af880,#52fa7a,#65fd69,#7dff56,#96fe44,#a9fb39,#b9f635,#c3f134,#cdec34,#cdec34)"></i>
<i style="background:linear-gradient(90deg,#18ddc2,#18ddc2,#18dec0,#18e0bd,#19e2bb,#1ae4b6,#22ebaa,#38f491,#55fa76,#7dff56,#9ffd3f,#b9f635,#cbed34,#d9e436,#e5d938,#efcd3a,#f4c73a,#f7c13a,#faba39,#fbb637,#fdae35,#fea933,#fea431,#fea130,#fe9e2f,#fe992c,#fe962b,#fe9029,#fd8d27,#fd8a26,#fc8725,#fc8423,#fc8423,#fc8725,#fd8a26,#fd8d27,#fe932a,#fe962b,#fe992c,#fe992c,#fe962b,#fe932a,#fe932a,#fe932a,#fe9029,#fe9029,#fd8d27,#fd8a26,#fd8a26,#fd8a26,#fd8d27,#fd8d27,#fe9029,#fe962b,#fe992c,#fe9b2d,#fe9e2f,#fea130,#fea431,#fea933,#fdac34,#fcb136,#fcb336,#faba39,#f4c73a,#e7d739,#b7f735,#69fd66,#46f884,#3cf58e,#3cf58e,#3ff68a,#46f884,#4ef97d,#59fb73,#6dfe62,#88ff4e,#a1fd3d,#b7f735,#c3f134,#cbed34,#d4e735,#d4e735)"></i>
<i style="background:linear-gradient(90deg,#1ae4b6,#1ae4b6,#1ce6b4,#1fe9af,#22ebaa,#27eea4,#35f394,#46f884,#5dfc6f,#80ff53,#a1fd3d,#b9f635,#cbed34,#dbe236,#e7d739,#efcd3a,#f5c53a,#f8be39,#fbb838,#fcb336,#fdac34,#fea732,#fea130,#fe9b2d,#fe992c,#fe932a,#fd8d27,#fd8a26,#fc8725,#fc8423,#fb8122,#fb7e21,#fb7e21,#fa7b1f,#fb7e21,#fb8122,#fc8725,#fd8a26,#fd8d27,#fe9029,#fd8d27,#fd8a26,#fd8a26,#fd8a26,#fc8725,#fc8725,#fc8725,#fc8725,#fc8725,#fc8725,#fc8725,#fc8725,#fd8a26,#fd8a26,#fd8a26,#fd8d27,#fe9029,#fe932a,#fe962b,#fe9b2d,#fe9e2f,#fea431,#fea732,#fcb136,#f7c13a,#e9d539,#b9f635,#65fd69,#3ff68a,#35f394,#38f491,#3cf58e,#46f884,#52fa7a,#61fc6c,#79fe59,#92ff47,#acfb38,#c3f134,#d0ea34,#d7e535,#dbe236,#dde037)"></i>
<i style="background:linear-gradient(90deg,#1ce6b4,#1de7b2,#1fe9af,#25eca7,#2aefa1,#2ff19b,#3cf58e,#4ef97d,#65fd69,#88ff4e,#a4fc3c,#bcf534,#cdec34,#dbe236,#e9d539,#f1cb3a,#f5c53a,#f8be39,#fbb838,#fcb136,#fdac34,#fea431,#fe9e2f,#fe992c,#fe932a,#fe9029,#fd8a26,#fc8725,#fb8122,#fb8122,#fb7e21,#fa7b1f,#f9781e,#f9781e,#f9781e,#fa7b1f,#fb8122,#fc8423,#fc8725,#fd8d27,#fd8a26,#fc8423,#fc8423,#fc8423,#fc8423,#fc8423,#fc8423,#fc8423,#fc8423,#fc8423,#fc8423,#fc8423,#fc8423,#fc8423,#fc8725,#fc8725,#fc8725,#fd8d27,#fe9029,#fe962b,#fe992c,#fe9e2f,#fea130,#fdac34,#f8be39,#ecd13a,#bef434,#69fd66,#3ff68a,#35f394,#35f394,#3cf58e,#46f884,#55fa76,#65fd69,#7dff56,#99fe42,#b1f936,#c8ef34,#d2e935,#d9e436,#dde037,#dde037)"></i>
<i style="background:linear-gradient(90deg,#1ce6b4,#1de7b2,#20eaac,#27eea4,#2ff19b,#35f394,#43f787,#55fa76,#71fe5f,#92ff47,#a9fb39,#c1f334,#d2e935,#dfdf37,#ebd339,#f2c93a,#f6c33a,#f9bc39,#fcb336,#fdae35,#fea732,#fea130,#fe9b2d,#fe962b,#fe9029,#fd8a26,#fc8725,#fb8122,#fb7e21,#fa7b1f,#f9781e,#f9751d,#f9751d,#f8721c,#f8721c,#f9751d,#f9781e,#fb7e21,#fb8122,#fc8423,#fc8423,#fb8122,#fb7e21,#fb7e21,#fb7e21,#fb7e21,#fb7e21,#fb7e21,#fb7e21,#fb8122,#fb8122,#fb8122,#fb8122,#fb8122,#fb8122,#fb8122,#fc8423,#fc8725,#fd8d27,#fe9029,#fe962b,#fe992c,#fe9e2f,#fea732,#fbb838,#f1cb3a,#c6f034,#75fe5c,#46f884,#38f491,#38f491,#3ff68a,#4af880,#55fa76,#65fd69,#80ff53,#9cfe40,#b4f836,#c6f034,#d0ea34,#d4e735,#d9e436,#d9e436)"></i>
<i style="background:linear-gradient(90deg,#1ce6b4,#1ce6b4,#20eaac,#27eea4,#2ff19b,#38f491,#46f884,#59fb73,#79fe59,#99fe42,#affa37,#c3f134,#d4e735,#e1dd37,#ebd339,#f2c93a,#f7c13a,#faba39,#fcb336,#fdac34,#fea431,#fe9e2f,#fe992c,#fe932a,#fd8d27,#fc8725,#fc8423,#fb7e21,#fa7b1f,#f9781e,#f9751d,#f8721c,#f8721c,#f76f1a,#f76f1a,#f8721c,#f9751d,#f9781e,#fa7b1f,#fb7e21,#fb7e21,#fb7e21,#fa7b1f,#fa7b1f,#fa7b1f,#fa7b1f,#fa7b1f,#fa7b1f,#fb7e21,#fb7e21,#fb7e21,#fb7e21,#fb7e21,#fb7e21,#fb7e21,#fb8122,#fb8122,#fc8423,#fd8a26,#fd8d27,#fe932a,#fe962b,#fe9b2d,#fea130,#fcb136,#f4c73a,#cdec34,#7dff56,#4ef97d,#3cf58e,#3cf58e,#3ff68a,#4af880,#55fa76,#65fd69,#80ff53,#9cfe40,#b4f836,#c3f134,#cbed34,#d0ea34,#d4e735,#d4e735)"></i>
<i style="background:linear-gradient(90deg,#1ae4b6,#1ce6b4,#20eaac,#2aefa1,#35f394,#3cf58e,#4af880,#61fc6c,#84ff51,#a1fd3d,#b7f735,#cbed34,#d9e436,#e3db38,#ecd13a,#f4c73a,#f8be39,#fbb838,#fcb136,#fea933,#fea130,#fe9b2d,#fe932a,#fd8d27,#fd8a26,#fc8423,#fb8122,#fa7b1f,#f9781e,#f9751d,#f8721c,#f76f1a,#f66c19,#f66c19,#f66c19,#f76f1a,#f76f1a,#f8721c,#f9751d,#f9781e,#f9781e,#f9781e,#f9781e,#f9781e,#f9781e,#f9781e,#f9781e,#f9781e,#f9781e,#f9781e,#fa7b1f,#fa7b1f,#fa7b1f,#fa7b1f,#fa7b1f,#fb7e21,#fb7e21,#fb8122,#fc8725,#fd8a26,#fd8d27,#fe932a,#fe962b,#fe9e2f,#fea933,#f8be39,#d9e436,#88ff4e,#55fa76,#3ff68a,#3ff68a,#43f787,#4af880,#55fa76,#65fd69,#80ff53,#9cfe40,#b4f836,#c1f334,#c6f034,#cbed34,#cdec34,#cdec34)"></i>
<i style="background:linear-gradient(90deg,#1ae4b6,#1ae4b6,#20eaac,#2cf09e,#35f394,#3ff68a,#4af880,#65fd69,#8bff4b,#a7fc3a,#bcf534,#cdec34,#dbe236,#e5d938,#eecf3a,#f5c53a,#f8be39,#fbb637,#fdae35,#fea732,#fe9e2f,#fe992c,#fe9029,#fd8a26,#fc8725,#fb8122,#fb7e21,#f9781e,#f9751d,#f8721c,#f76f1a,#f66c19,#f56918,#f56918,#f56918,#f56918,#f66c19,#f66c19,#f76f1a,#f8721c,#f9751d,#f9751d,#f9751d,#f9751d,#f9751d,#f9751d,#f9751d,#f9751d,#f9751d,#f9781e,#f9781e,#f9781e,#f9781e,#fa7b1f,#fa7b1f,#fa7b1f,#fb7e21,#fb7e21,#fc8423,#fc8725,#fd8d27,#fe9029,#fe962b,#fe9b2d,#fea431,#faba39,#dde037,#92ff47,#59fb73,#43f787,#43f787,#43f787,#4ef97d,#59fb73,#65fd69,#80ff53,#9ffd3f,#b4f836,#bef434,#c3f134,#c6f034,#c8ef34,#c8ef34)"></i>
<i style="background:linear-gradient(90deg,#19e3b9,#1ae4b6,#20eaac,#2cf09e,#38f491,#43f787,#4ef97d,#69fd66,#96fe44,#b1f936,#c3f134,#d4e735,#dfdf37,#e9d539,#efcd3a,#f6c33a,#f9bc39,#fcb336,#fea933,#fea130,#fe9b2d,#fe932a,#fd8d27,#fc8725,#fb8122,#fb7e21,#f9781e,#f9751d,#f8721c,#f76f1a,#f56918,#f46617,#f46617,#f46617,#f46617,#f46617,#f46617,#f46617,#f56918,#f66c19,#f76f1a,#f76f1a,#f76f1a,#f76f1a,#f76f1a,#f76f1a,#f76f1a,#f8721c,#f8721c,#f8721c,#f8721c,#f9751d,#f9751d,#f9751d,#f9781e,#f9781e,#fa7b1f,#fa7b1f,#fb7e21,#fc8423,#fc8725,#fd8d27,#fe9029,#fe962b,#fe9b2d,#fcb136,#e7d739,#9ffd3f,#69fd66,#52fa7a,#4ef97d,#4ef97d,#55fa76,#5dfc6f,#69fd66,#88ff4e,#a1fd3d,#b4f836,#bcf534,#bef434,#c3f134,#c3f134,#c6f034)"></i>
<i style="background:linear-gradient(90deg,#19e2bb,#19e3b9,#20eaac,#2ff19b,#3cf58e,#46f884,#52fa7a,#6dfe62,#99fe42,#b4f836,#c8ef34,#d9e436,#e3db38,#ecd13a,#f2c93a,#f7c13a,#fbb838,#fcb136,#fea732,#fe9e2f,#fe992c,#fe9029,#fd8a26,#fc8423,#fb7e21,#fa7b1f,#f9751d,#f8721c,#f76f1a,#f66c19,#f56918,#f36315,#f36315,#f36315,#f36315,#f36315,#f36315,#f36315,#f46617,#f56918,#f66c19,#f66c19,#f66c19,#f66c19,#f66c19,#f66c19,#f76f1a,#f76f1a,#f76f1a,#f76f1a,#f8721c,#f8721c,#f8721c,#f9751d,#f9751d,#f9751d,#f9781e,#f9781e,#fb7e21,#fb8122,#fc8423,#fd8a26,#fd8d27,#fe9029,#fe962b,#fdac34,#eecf3a,#affa37,#80ff53,#69fd66,#65fd69,#65fd69,#69fd66,#71fe5f,#79fe59,#8fff49,#a7fc3a,#b9f635,#bef434,#c3f134,#c6f034,#c8ef34,#c8ef34)"></i>
<i style="background:linear-gradient(90deg,#19e2bb,#19e3b9,#20eaac,#2ff19b,#3cf58e,#46f884,#55fa76,#75fe5c,#9ffd3f,#bcf534,#d0ea34,#e1dd37,#ebd339,#f1cb3a,#f7c13a,#fbb838,#fcb136,#fea933,#fea130,#fe992c,#fe932a,#fd8d27,#fc8423,#fb7e21,#fa7b1f,#f9751d,#f8721c,#f76f1a,#f66c19,#f56918,#f46617,#f36316,#f26015,#f16015,#f16015,#f16015,#f16015,#f16015,#f26015,#f36315,#f46617,#f56918,#f56918,#f56918,#f56918,#f56918,#f56918,#f56918,#f56918,#f66c19,#f66c19,#f76f1a,#f76f1a,#f76f1a,#f8721c,#f8721c,#f8721c,#f9751d,#f9781e,#fa7b1f,#fb7e21,#fc8423,#fc8725,#fd8a26,#fd8d27,#fe9e2f,#f7c13a,#cdec34,#affa37,#a1fd3d,#9cfe40,#99fe42,#99fe42,#99fe42,#99fe42,#a4fc3c,#b4f836,#c6f034,#cbed34,#d0ea34,#d2e935,#d4e735,#d4e735)"></i>
<i style="background:linear-gradient(90deg,#18e0bd,#19e2bb,#20eaac,#2ff19b,#3ff68a,#4af880,#59fb73,#79fe59,#a1fd3d,#bef434,#d7e535,#e5d938,#efcd3a,#f5c53a,#f9bc39,#fcb336,#fdac34,#fea431,#fe9b2d,#fe962b,#fe9029,#fc8725,#fb8122,#fa7b1f,#f9781e,#f8721c,#f76f1a,#f66c19,#f56918,#f46617,#f36316,#f16015,#f16015,#f16115,#f16115,#f16115,#f16115,#f05e14,#f16115,#f16015,#f36316,#f36315,#f46617,#f46617,#f46617,#f46617,#f46617,#f46617,#f46617,#f56918,#f56918,#f66c19,#f66c19,#f66c19,#f76f1a,#f76f1a,#f76f1a,#f8721c,#f9751d,#f9781e,#fa7b1f,#fb7e21,#fb8122,#fc8423,#fc8725,#fe992c,#fbb637,#e1dd37,#cbed34,#bef434,#bcf534,#b7f735,#b1f936,#affa37,#acfb38,#b1f936,#bef434,#cdec34,#d4e735,#d9e436,#dbe236,#dde037,#dfdf37)"></i>
<i style="background:linear-gradient(90deg,#18dec0,#19e2bb,#20eaac,#2ff19b,#3ff68a,#4af880,#5dfc6f,#80ff53,#a7fc3a,#c6f034,#dde037,#ecd13a,#f5c53a,#f9bc39,#fcb336,#fea933,#fea130,#fe9b2d,#fe932a,#fd8d27,#fd8a26,#fc8423,#fb7e21,#f9781e,#f8721c,#f76f1a,#f56918,#f46617,#f46617,#f36316,#f16015,#f16115,#f05e14,#ef5e15,#ef5e15,#ef5e15,#ef5e15,#ee5b14,#ef5e15,#ef5e15,#f05e14,#f16115,#f16115,#f16015,#f16015,#f16015,#f26015,#f36316,#f36316,#f36315,#f46617,#f46617,#f46617,#f56918,#f56918,#f66c19,#f66c19,#f66c19,#f76f1a,#f8721c,#f9751d,#f9781e,#fa7b1f,#fb7e21,#fb8122,#fd8a26,#fea130,#f7c13a,#ecd13a,#e7d739,#e3db38,#dde037,#d7e535,#d0ea34,#c8ef34,#c6f034,#cdec34,#d9e436,#dfdf37,#e5d938,#e9d539,#ebd339,#ebd339)"></i>
<i style="background:linear-gradient(90deg,#18dec0,#18e0bd,#1fe9af,#32f298,#3ff68a,#4af880,#61fc6c,#84ff51,#a9fb39,#c8ef34,#e1dd37,#f1cb3a,#f7c13a,#fbb637,#fdac34,#fea431,#fe9b2d,#fe962b,#fe9029,#fd8a26,#fc8423,#fb8122,#fa7b1f,#f9751d,#f76f1a,#f66c19,#f46617,#f36315,#f36316,#f16015,#f16115,#ef5e15,#ef5e15,#ef5e15,#ee5b14,#ee5b14,#ed5c14,#ed5c14,#ed5c14,#ed5c14,#ee5b14,#ef5e15,#ef5e15,#ef5e15,#ef5e15,#f05e15,#f05e14,#f16115,#f16015,#f16015,#f36316,#f36315,#f36315,#f46617,#f46617,#f56918,#f56918,#f56918,#f66c19,#f76f1a,#f8721c,#f8721c,#f9751d,#f9781e,#fa7b1f,#fb8122,#fe932a,#fdac34,#faba39,#f7c13a,#f6c33a,#efcd3a,#e9d539,#e1dd37,#d9e436,#d2e935,#d7e535,#e1dd37,#e7d739,#ecd13a,#efcd3a,#f1cb3a,#f2c93a)"></i>
<i style="background:linear-gradient(90deg,#18ddc2,#18dec0,#1fe9af,#32f298,#3ff68a,#4ef97d,#61fc6c,#88ff4e,#acfb38,#cdec34,#e7d739,#f5c53a,#faba39,#fdae35,#fea431,#fe9b2d,#fe932a,#fd8d27,#fd8a26,#fc8423,#fb7e21,#fa7b1f,#f9751d,#f8721c,#f66c19,#f46617,#f36316,#f16015,#f16115,#f05e14,#ef5e15,#ef5e15,#ee5b14,#ed5c14,#ed5c15,#ec5914,#ec5914,#eb5914,#eb5914,#eb5914,#eb5914,#eb5914,#ec5914,#ec5914,#ed5c15,#ed5c15,#ed5c14,#ee5b14,#ef5e15,#ef5e15,#f05e14,#f16115,#f16015,#f36316,#f36316,#f36315,#f46617,#f46617,#f46617,#f56918,#f66c19,#f66c19,#f76f1a,#f76f1a,#f8721c,#f9751d,#fb7e21,#fd8a26,#fe932a,#fe992c,#fe9e2f,#fdac34,#faba39,#f4c73a,#ecd13a,#e3db38,#e3db38,#ebd339,#f1cb3a,#f5c53a,#f7c13a,#f9bc39,#f9bc39)"></i>
<i style="background:linear-gradient(90deg,#18ddc2,#18dec0,#1fe9af,#32f298,#3ff68a,#4af880,#61fc6c,#8bff4b,#acfb38,#cdec34,#e7d739,#f5c53a,#faba39,#fdae35,#fea431,#fe9b2d,#fe932a,#fd8d27,#fc8725,#fb8122,#fb7e21,#f9781e,#f9751d,#f76f1a,#f56918,#f46617,#f16015,#f16115,#f05e14,#ef5e15,#ef5e15,#ee5b14,#ed5c14,#ec5914,#ec5914,#eb5914,#ea5713,#ea5714,#ea5714,#ea5714,#ea5714,#ea5714,#ea5714,#ea5714,#eb5914,#eb5914,#ec5914,#ec5914,#ed5c14,#ee5b14,#ef5e15,#ef5e15,#f16115,#f16115,#f16015,#f36316,#f36316,#f36315,#f46617,#f46617,#f46617,#f56918,#f56918,#f66c19,#f66c19,#f76f1a,#f9751d,#fa7b1f,#fb8122,#fc8725,#fd8d27,#fe9b2d,#fdac34,#faba39,#f4c73a,#ecd13a,#ebd339,#f1cb3a,#f5c53a,#f9bc39,#fbb838,#fcb336,#fcb336)"></i>
<i style="background:linear-gradient(90deg,#18dbc5,#18ddc2,#1de7b2,#2cf09e,#3cf58e,#4af880,#5dfc6f,#84ff51,#a9fb39,#cbed34,#e3db38,#f1cb3a,#f7c13a,#fbb838,#fdae35,#fea130,#fe992c,#fd8d27,#fc8725,#fb8122,#fb7e21,#f9781e,#f8721c,#f76f1a,#f56918,#f46617,#f16015,#f16115,#ef5e15,#ef5e15,#ee5b14,#ed5c15,#ec5914,#eb5914,#ea5714,#ea5714,#e85513,#e85514,#e75514,#e75514,#e75514,#e75514,#e85514,#e85514,#e85513,#e95714,#ea5714,#ea5713,#eb5914,#ec5914,#ed5c14,#ef5e15,#ef5e15,#f05e14,#f16115,#f16115,#f16015,#f16015,#f16015,#f36316,#f36316,#f36316,#f36315,#f46617,#f46617,#f56918,#f66c19,#f8721c,#f9781e,#fb7e21,#fc8725,#fe932a,#fea130,#fdae35,#faba39,#f5c53a,#f5c53a,#f8be39,#fbb838,#fcb136,#fdac34,#fea732,#fea732)"></i>
<i style="background:linear-gradient(90deg,#18d9c8,#18ddc2,#1ce6b4,#2cf09e,#3cf58e,#46f884,#5dfc6f,#80ff53,#a7fc3a,#c8ef34,#dfdf37,#eecf3a,#f4c73a,#f8be39,#fcb336,#fea933,#fe9b2d,#fe9029,#fc8725,#fb8122,#fa7b1f,#f9781e,#f8721c,#f66c19,#f56918,#f46617,#f16015,#f16115,#ef5e15,#ee5b14,#ed5c14,#ec5914,#eb5914,#ea5714,#e95714,#e85513,#e75514,#e65313,#e65314,#e65314,#e65314,#e65314,#e65313,#e65313,#e65213,#e75514,#e85513,#e95714,#ea5714,#ec5914,#ed5c15,#ee5b14,#ef5e15,#ef5e15,#ef5e15,#f05e14,#f16115,#f16115,#f16115,#f16115,#f16115,#f16115,#f16015,#f16015,#f36316,#f46617,#f56918,#f76f1a,#f9751d,#fb7e21,#fc8725,#fe9029,#fe9b2d,#fea732,#fcb136,#faba39,#f9bc39,#fbb637,#fdae35,#fea732,#fea130,#fe9e2f,#fe9b2d)"></i>
<i style="background:linear-gradient(90deg,#18d9c8,#18dbc5,#1ae4b6,#27eea4,#38f491,#43f787,#55fa76,#7dff56,#a4fc3c,#c3f134,#dbe236,#e9d539,#eecf3a,#f2c93a,#f8be39,#fcb136,#fea431,#fe932a,#fd8a26,#fc8423,#fa7b1f,#f9751d,#f8721c,#f66c19,#f56918,#f46617,#f36316,#f16115,#ef5e15,#ee5b14,#ed5c15,#ec5914,#ea5714,#e95714,#e85514,#e65213,#e55314,#e45113,#e45114,#e45114,#e45114,#e45114,#e45114,#e45113,#e45113,#e45013,#e65313,#e85514,#e95714,#ea5714,#ec5914,#ed5c15,#ee5b14,#ef5e15,#ef5e15,#ef5e15,#ef5e15,#ef5e15,#ee5b14,#ee5b14,#ed5c14,#ed5c14,#ee5b14,#ee5b14,#ef5e15,#f05e14,#f26015,#f56918,#f8721c,#fa7b1f,#fc8423,#fd8d27,#fe962b,#fe9b2d,#fea431,#fdac34,#fdac34,#fea732,#fe9e2f,#fe992c,#fe932a,#fe9029,#fd8d27)"></i>
<i style="background:linear-gradient(90deg,#18d7ca,#18d9c8,#19e3b9,#27eea4,#35f394,#43f787,#52fa7a,#79fe59,#a1fd3d,#c1f334,#d7e535,#e3db38,#e9d539,#eecf3a,#f5c53a,#fbb838,#fea732,#fe962b,#fd8a26,#fc8423,#fa7b1f,#f9751d,#f76f1a,#f66c19,#f56918,#f46617,#f36316,#f16115,#ef5e15,#ee5b14,#ec5914,#eb5914,#ea5714,#e85513,#e65213,#e65314,#e45113,#e24f13,#e24f13,#e24f13,#e24f13,#e24f13,#e24f13,#e24f13,#e24f13,#e35114,#e45113,#e65313,#e85514,#e95714,#eb5914,#ec5914,#ee5b14,#ee5b14,#ee5b14,#ee5b14,#ee5b14,#ee5b14,#ed5c15,#ec5914,#eb5914,#eb5914,#eb5914,#ec5914,#ed5c15,#ed5c14,#ef5e15,#f46617,#f76f1a,#fa7b1f,#fc8423,#fd8a26,#fe9029,#fe962b,#fe992c,#fe9e2f,#fe9e2f,#fe9b2d,#fe962b,#fd8d27,#fd8a26,#fc8423,#fc8423)"></i>
<i style="background:linear-gradient(90deg,#18d7ca,#18d9c8,#19e2bb,#22ebaa,#32f298,#3ff68a,#4ef97d,#71fe5f,#9cfe40,#b9f635,#d0ea34,#dde037,#e1dd37,#e7d739,#efcd3a,#f8be39,#fdae35,#fe9b2d,#fd8d27,#fc8423,#fb7e21,#f9751d,#f76f1a,#f66c19,#f56918,#f46617,#f36316,#f16115,#ef5e15,#ed5c14,#ec5914,#ea5714,#e85513,#e75514,#e65314,#e45113,#e24f13,#e04d13,#e04d13,#e04d13,#e04d13,#e04d13,#e04d13,#e04d13,#e04d13,#e04d13,#e24f13,#e45113,#e65313,#e85514,#ea5714,#eb5914,#ed5c15,#ed5c15,#ed5c15,#ed5c15,#ed5c15,#ec5914,#eb5914,#ea5714,#e85513,#e85514,#e85514,#e85513,#e95714,#ea5714,#eb5914,#f16015,#f66c19,#f9781e,#fb8122,#fc8423,#fc8725,#fd8a26,#fd8a26,#fd8d27,#fd8d27,#fd8a26,#fc8423,#fb7e21,#fa7b1f,#f9751d,#f9751d)"></i>
<i style="background:linear-gradient(90deg,#19d5cd,#18d7ca,#18e0bd,#20eaac,#2cf09e,#38f491,#46f884,#69fd66,#96fe44,#b1f936,#c8ef34,#d7e535,#dbe236,#e1dd37,#ebd339,#f5c53a,#fbb637,#fea130,#fe932a,#fd8a26,#fb8122,#f9781e,#f8721c,#f66c19,#f56918,#f46617,#f36316,#f16115,#ef5e15,#ed5c14,#ec5914,#ea5714,#e85513,#e65213,#e55314,#e45114,#e24f13,#e04d13,#e04d14,#df4d14,#df4d14,#df4d14,#de4b13,#de4b13,#de4b13,#e04d14,#e14f14,#e24f13,#e45013,#e65313,#e85514,#ea5714,#eb5914,#eb5914,#eb5914,#ec5914,#eb5914,#ea5714,#e95714,#e85514,#e65213,#e65314,#e65314,#e65313,#e65213,#e75514,#e85513,#ef5e15,#f46617,#f8721c,#fa7b1f,#fb7e21,#fb7e21,#fb8122,#fb8122,#fb8122,#fb8122,#fb7e21,#fa7b1f,#f9751d,#f8721c,#f76f1a,#f66c19)"></i>
<i style="background:linear-gradient(90deg,#1ad4d0,#19d5cd,#18dec0,#1de7b2,#25eca7,#2ff19b,#3cf58e,#59fb73,#84ff51,#a4fc3c,#b9f635,#cbed34,#d0ea34,#d7e535,#e3db38,#eecf3a,#f7c13a,#fdae35,#fea130,#fe962b,#fd8a26,#fb7e21,#f9751d,#f76f1a,#f56918,#f46617,#f36316,#f16115,#ef5e15,#ed5c14,#ec5914,#ea5714,#e85513,#e75514,#e65314,#e45113,#e24f13,#e04d13,#e04d13,#e04d14,#df4d14,#de4b13,#de4b13,#de4b13,#de4b14,#de4b13,#e04d14,#e04d13,#e24f13,#e45113,#e55314,#e65213,#e85514,#e85514,#e85513,#e85513,#e85513,#e75514,#e65313,#e45013,#e45113,#e24f13,#e24f13,#e24f13,#e24f13,#e35114,#e45113,#ea5714,#ef5e15,#f46617,#f76f1a,#f76f1a,#f8721c,#f8721c,#f8721c,#f8721c,#f8721c,#f8721c,#f76f1a,#f66c19,#f56918,#f46617,#f46617)"></i>
<i style="background:linear-gradient(90deg,#1ad4d0,#1ad4d0,#18ddc2,#1ae4b6,#20eaac,#2aefa1,#32f298,#4ef97d,#75fe5c,#96fe44,#affa37,#c1f334,#c8ef34,#d2e935,#dde037,#e9d539,#f2c93a,#fbb838,#fdac34,#fe9e2f,#fe9029,#fc8423,#fa7b1f,#f8721c,#f66c19,#f46617,#f36316,#f16115,#ef5e15,#ee5b14,#ec5914,#ea5713,#e95714,#e85514,#e65313,#e45013,#e35114,#e24f14,#e04d13,#e04d13,#df4d14,#de4b13,#de4b13,#de4b14,#de4b14,#de4b14,#de4b13,#df4d14,#e04d13,#e24f13,#e35114,#e45113,#e55314,#e65314,#e65313,#e65313,#e65313,#e55314,#e45113,#e24f13,#e24f13,#e04d13,#e04d13,#e04d13,#e04d13,#e04d13,#e24f14,#e65313,#eb5914,#ef5e15,#f36315,#f46617,#f46617,#f56918,#f56918,#f56918,#f66c19,#f56918,#f46617,#f36315,#f36316,#f16115,#f16115)"></i>
<i style="background:linear-gradient(90deg,#1ad2d2,#1ad2d2,#18d9c8,#19e2bb,#1ce6b4,#20eaac,#27eea4,#3cf58e,#5dfc6f,#80ff53,#9ffd3f,#b4f836,#bef434,#c6f034,#d2e935,#dfdf37,#ebd339,#f5c53a,#fbb838,#fea933,#fe9b2d,#fd8d27,#fb7e21,#f9751d,#f66c19,#f46617,#f36316,#f16115,#ef5e15,#ee5b14,#ec5914,#eb5914,#ea5714,#e85513,#e65213,#e65314,#e45113,#e24f13,#e24f14,#e04d13,#e04d14,#de4b13,#de4b13,#de4b14,#dd4b14,#dc4913,#dc4913,#dd4b14,#de4b14,#de4b13,#e04d13,#e04d13,#e24f14,#e24f13,#e24f13,#e24f13,#e24f13,#e24f13,#e04d13,#e04d13,#df4d14,#de4b13,#de4b14,#dd4b14,#dc4913,#dc4914,#dd4b14,#e04d13,#e45113,#e75514,#ea5714,#eb5914,#ec5914,#ed5c14,#ee5b14,#ef5e15,#ef5e15,#ef5e15,#ef5e15,#ed5b14,#ed5c15,#ec5914,#ec5914)"></i>
<i style="background:linear-gradient(90deg,#1bd0d5,#1ad2d2,#18d7ca,#18dec0,#19e3b9,#1de7b2,#22ebaa,#35f394,#52fa7a,#71fe5f,#96fe44,#a9fb39,#b7f735,#bef434,#cbed34,#d9e436,#e3db38,#efcd3a,#f7c13a,#fcb136,#fea130,#fe9029,#fc8423,#f9751d,#f66c19,#f46617,#f36316,#f16115,#ef5e15,#ee5b14,#ed5c15,#eb5914,#ea5714,#e85513,#e75514,#e65313,#e45113,#e35114,#e24f13,#e04d13,#e04d13,#de4b13,#de4b14,#dd4b14,#dc4913,#dc4a14,#dc4a14,#dc4a14,#dc4914,#dd4b14,#de4b14,#de4b13,#df4d14,#e04d14,#e04d13,#e04d13,#e04d13,#e04d13,#df4d14,#de4b13,#dd4b14,#dc4914,#dc4a14,#db4a14,#da4814,#da4814,#da4814,#dd4b14,#e04d14,#e24f13,#e45113,#e65314,#e65213,#e85514,#e95714,#ea5714,#eb5914,#eb5914,#ea5714,#ea5714,#e95714,#e95714,#e95714)"></i>
<i style="background:linear-gradient(90deg,#1ecbda,#1ecbda,#1ad2d2,#18d9c8,#18e0bd,#1ce6b4,#22ebaa,#32f298,#4af880,#65fd69,#84ff51,#9cfe40,#a9fb39,#b4f836,#c1f334,#cdec34,#d9e436,#e7d739,#f4c73a,#fbb838,#fea732,#fe962b,#fc8725,#f9781e,#f66c19,#f46617,#f36316,#f16115,#ef5e15,#ee5b14,#ed5c15,#eb5914,#ea5714,#e85513,#e85514,#e65313,#e55314,#e45113,#e24f13,#e14f14,#e04d13,#de4b13,#de4b14,#dd4b14,#dc4a14,#dc4a14,#da4814,#da4814,#db4a14,#dc4a14,#dc4a14,#dc4913,#dd4b14,#de4b14,#de4b13,#de4b13,#de4b13,#de4b13,#de4b14,#dc4913,#dc4a14,#db4a14,#da4814,#d94814,#d84614,#d84714,#d84614,#da4814,#dc4a14,#dd4b14,#de4b13,#e04d13,#e24f13,#e35114,#e45013,#e65313,#e65213,#e65213,#e65213,#e65213,#e65313,#e65313,#e65313)"></i>
<i style="background:linear-gradient(90deg,#20c7df,#20c7df,#1ccdd8,#18d7ca,#18e0bd,#1ce6b4,#25eca7,#35f394,#4af880,#61fc6c,#79fe59,#8fff49,#9ffd3f,#acfb38,#b7f735,#c3f134,#d2e935,#e1dd37,#f1cb3a,#faba39,#fea933,#fe992c,#fc8725,#f9781e,#f66c19,#f36315,#f26015,#f16115,#ef5e15,#ee5b14,#ed5c15,#eb5914,#ea5714,#e95714,#e85514,#e65313,#e55314,#e45113,#e24f13,#e14f14,#e04d13,#de4b13,#de4b14,#dd4b14,#dc4a14,#db4a14,#da4814,#da4814,#db4a14,#db4a14,#dc4a14,#dc4a14,#dc4913,#dd4b14,#de4b14,#de4b13,#de4b13,#de4b14,#dd4b14,#dc4a14,#dc4a14,#da4814,#da4814,#d94814,#d84614,#d74714,#d84714,#d94814,#db4a14,#dc4913,#de4b13,#e04d14,#e14f14,#e24f13,#e45113,#e65314,#e65313,#e65313,#e65313,#e65313,#e65313,#e65313,#e65313)"></i>
<i style="background:linear-gradient(90deg,#25c0e7,#25c0e7,#23c3e4,#1bd0d5,#18dec0,#1de7b2,#2aefa1,#3cf58e,#4af880,#59fb73,#6dfe62,#7dff56,#8fff49,#9ffd3f,#a9fb39,#b7f735,#c8ef34,#dbe236,#eecf3a,#f9bc39,#fdac34,#fe9b2d,#fc8725,#f9781e,#f66c19,#f36315,#f16015,#f16115,#ef5e15,#ee5b14,#ed5c15,#eb5914,#ea5714,#e85513,#e85514,#e65313,#e55314,#e45113,#e24f13,#e14f14,#e04d13,#de4b13,#de4b14,#dd4b14,#dc4a14,#db4a14,#da4814,#da4814,#da4814,#db4a14,#dc4a14,#dc4a14,#dc4913,#dd4b14,#de4b14,#de4b14,#de4b13,#de4b14,#dc4913,#dc4a14,#db4a14,#da4814,#da4814,#d94814,#d84614,#d74714,#d84714,#d94814,#da4814,#dc4a14,#de4b14,#df4d14,#e04d13,#e24f13,#e45114,#e45013,#e65314,#e65314,#e65314,#e65314,#e65314,#e65314,#e65314)"></i>
<i style="background:linear-gradient(90deg,#2ab9ee,#2ab9ee,#28bceb,#1fc9dd,#18d9c8,#1ce6b4,#27eea4,#38f491,#46f884,#55fa76,#65fd69,#75fe5c,#84ff51,#96fe44,#a1fd3d,#b1f936,#c3f134,#d7e535,#ebd339,#f8be39,#fdae35,#fe9b2d,#fd8a26,#f9781e,#f66c19,#f36315,#f16015,#f16115,#ef5e15,#ee5b14,#ec5914,#eb5914,#ea5714,#e85513,#e75514,#e65313,#e45013,#e45114,#e24f13,#e04d13,#e04d14,#de4b13,#de4b14,#dc4913,#dc4a14,#db4a14,#da4814,#da4814,#da4814,#da4814,#db4a14,#db4a14,#dc4a14,#dc4a14,#dc4913,#dd4b14,#de4b14,#dd4b14,#dc4a14,#dc4a14,#db4a14,#da4814,#d94814,#d84614,#d84714,#d74714,#d74714,#d94814,#da4814,#dc4a14,#dd4b14,#de4b13,#e04d13,#e14f14,#e24f13,#e45113,#e45013,#e45013,#e45013,#e45013,#e45013,#e45013,#e45013)"></i>
<i style="background:linear-gradient(90deg,#35abf8,#35abf8,#33adf7,#28bceb,#1bd0d5,#18dec0,#1fe9af,#2ff19b,#3cf58e,#4af880,#59fb73,#69fd66,#79fe59,#88ff4e,#99fe42,#a9fb39,#bcf534,#d4e735,#e9d539,#f7c13a,#fdae35,#fe9b2d,#fd8a26,#f9781e,#f56918,#f36316,#f16015,#f16115,#ef5e15,#ed5c14,#ec5914,#eb5914,#ea5714,#e85514,#e65213,#e65314,#e45113,#e24f13,#e24f14,#e04d13,#de4b13,#de4b14,#dc4913,#dc4a14,#db4a14,#da4814,#d94814,#d94814,#d94814,#d94814,#d94814,#da4814,#da4814,#da4814,#db4a14,#db4a14,#dc4a14,#db4a14,#da4814,#da4814,#d94814,#d94814,#d84614,#d84714,#d74714,#d74715,#d74714,#d84614,#d94814,#da4814,#dc4a14,#dc4913,#de4b14,#df4d14,#e04d13,#e24f14,#e24f13,#e24f13,#e24f13,#e24f13,#e24f13,#e24f13,#e24f13)"></i>
<i style="background:linear-gradient(90deg,#3d9efe,#3d9efe,#3aa3fc,#2fb2f4,#20c7df,#18d7ca,#1ae4b6,#27eea4,#35f394,#43f787,#52fa7a,#61fc6c,#71fe5f,#80ff53,#8fff49,#a4fc3c,#b9f635,#d2e935,#e9d539,#f7c13a,#fdae35,#fe9b2d,#fd8a26,#f9781e,#f66c19,#f36316,#f16015,#f05e14,#ef5e15,#ed5c14,#ec5914,#ea5713,#e95714,#e85514,#e65313,#e55314,#e45113,#e24f13,#e14f14,#e04d14,#de4b13,#dd4b14,#dc4a14,#db4a14,#da4814,#da4814,#d94814,#d84614,#d84614,#d84614,#d84614,#d84614,#d94814,#d94814,#d94814,#da4814,#da4814,#da4814,#d94814,#d94814,#d84614,#d84614,#d74714,#d74714,#d74715,#d64514,#d74715,#d74714,#d84614,#da4814,#da4814,#dc4a14,#dc4913,#de4b14,#de4b13,#e04d14,#e04d13,#e04d13,#e04d13,#e04d13,#e04d13,#e04d13,#e04d13)"></i>
<i style="background:linear-gradient(90deg,#448ffe,#448ffe,#4294ff,#3aa3fc,#2ab9ee,#1ccdd8,#18ddc2,#1fe9af,#2aefa1,#38f491,#46f884,#55fa76,#65fd69,#71fe5f,#80ff53,#9cfe40,#b7f735,#d0ea34,#e7d739,#f6c33a,#fcb136,#fe9b2d,#fd8a26,#f9781e,#f66c19,#f36316,#f16015,#f05e14,#ef5e15,#ed5c15,#ec5914,#ea5714,#e85513,#e75514,#e65314,#e45113,#e35114,#e24f13,#e04d13,#de4b13,#de4b14,#dc4a14,#db4a14,#da4814,#da4814,#d94814,#d84714,#d74714,#d74714,#d74714,#d74715,#d64514,#d74715,#d74714,#d74714,#d74714,#d84714,#d74714,#d74714,#d74714,#d74714,#d74715,#d64514,#d64514,#d54514,#d54514,#d64514,#d74715,#d74714,#d84614,#d94814,#d94814,#da4814,#db4a14,#dc4a14,#dc4a14,#dc4913,#dc4913,#dd4b14,#dd4b14,#dd4b14,#dd4b14,#dd4b14)"></i>
<i style="background:linear-gradient(90deg,#4682f8,#4685fa,#4687fb,#4099ff,#31aff5,#22c5e2,#18d7ca,#1ae4b6,#22ebaa,#2ff19b,#3ff68a,#52fa7a,#5dfc6f,#69fd66,#79fe59,#96fe44,#b1f936,#cdec34,#e5d938,#f5c53a,#fcb136,#fe9b2d,#fd8a26,#f9781e,#f66c19,#f36316,#f16015,#f05e14,#ef5e15,#ed5c15,#eb5914,#ea5714,#e85513,#e65213,#e65314,#e45113,#e24f13,#e14f14,#e04d14,#de4b13,#dc4913,#dc4a14,#da4814,#da4814,#d94814,#d84614,#d74714,#d74714,#d64514,#d54514,#d54514,#d54515,#d54515,#d54514,#d54514,#d64514,#d64514,#d64514,#d64514,#d54514,#d54514,#d54514,#d54514,#d54514,#d54514,#d54515,#d54514,#d64514,#d74715,#d74714,#d74714,#d84614,#d94814,#d94814,#da4814,#da4814,#da4814,#da4814,#db4a14,#db4a14,#db4a14,#db4a14,#db4a14)"></i>
<i style="background:linear-gradient(90deg,#4773eb,#4776ee,#477bf2,#458cfd,#3aa3fc,#28bceb,#1bd0d5,#18dec0,#1de7b2,#27eea4,#38f491,#4af880,#55fa76,#5dfc6f,#6dfe62,#8fff49,#affa37,#cbed34,#e3db38,#f5c53a,#fcb136,#fe9b2d,#fd8a26,#f9781e,#f66c19,#f36315,#f16015,#f16115,#ef5e15,#ed5c15,#eb5914,#ea5714,#e85514,#e65313,#e55314,#e45114,#e24f13,#e04d13,#df4d14,#de4b14,#dc4a14,#da4814,#da4814,#d94814,#d84614,#d74714,#d74715,#d54514,#d54515,#d54515,#d34415,#d34415,#d34415,#d34415,#d34415,#d34414,#d34414,#d34414,#d44414,#d44414,#d54515,#d54515,#d54515,#d54515,#d54515,#d54515,#d54515,#d54515,#d54514,#d54514,#d64514,#d64514,#d74715,#d74714,#d74714,#d74714,#d74714,#d84714,#d84714,#d84614,#d84614,#d84614,#d84614)"></i>
<i style="background:linear-gradient(90deg,#476ee6,#476ee6,#4776ee,#4687fb,#3ba0fd,#2ab9ee,#1ccdd8,#18ddc2,#1ce6b4,#25eca7,#35f394,#46f884,#52fa7a,#5dfc6f,#6dfe62,#8fff49,#affa37,#cbed34,#e3db38,#f4c73a,#fcb336,#fe9e2f,#fd8d27,#fb7e21,#f76f1a,#f46617,#f36315,#f16015,#f05e15,#ee5b14,#ec5914,#ea5714,#e85513,#e65213,#e55314,#e45114,#e24f13,#e04d13,#de4b13,#dd4b14,#dc4a14,#da4814,#d94814,#d84614,#d84714,#d74714,#d64514,#d54514,#d54515,#d34414,#d34415,#d34415,#d34415,#d34415,#d34415,#d34415,#d34415,#d34415,#d34415,#d34415,#d34415,#d34415,#d34414,#d34414,#d44414,#d44414,#d54515,#d54515,#d54515,#d54515,#d54515,#d54514,#d54514,#d54514,#d64514,#d64514,#d64514,#d64514,#d74715,#d74715,#d74714,#d74714,#d74714)"></i>
<i style="background:linear-gradient(90deg,#4669e0,#466be3,#4778f0,#458cfd,#38a5fb,#28bceb,#1ccdd8,#18ddc2,#1ce6b4,#25eca7,#32f298,#46f884,#52fa7a,#61fc6c,#71fe5f,#96fe44,#b4f836,#d0ea34,#e3db38,#f2c93a,#fbb838,#fea732,#fe962b,#fc8725,#f9781e,#f76f1a,#f66c19,#f46617,#f36316,#f16115,#ee5b14,#ec5914,#ea5714,#e85514,#e65314,#e45114,#e24f13,#e04d13,#de4b13,#dc4913,#db4a14,#da4814,#d94814,#d84614,#d74714,#d74714,#d64514,#d54514,#d54515,#d34414,#d34415,#d34415,#d34415,#d34415,#d34415,#d34415,#d34415,#d34415,#d34415,#d34415,#d34415,#d34415,#d34415,#d34415,#d34415,#d34415,#d34414,#d34414,#d44414,#d54515,#d54515,#d54515,#d54515,#d54515,#d54515,#d54515,#d54515,#d54515,#d54514,#d54514,#d54514,#d54514,#d54514)"></i>
<i style="background:linear-gradient(90deg,#4669e0,#466be3,#4778f0,#448ffe,#37a8fa,#27bee9,#1bd0d5,#18ddc2,#1ce6b4,#25eca7,#35f394,#46f884,#55fa76,#65fd69,#79fe59,#9cfe40,#b9f635,#d0ea34,#e3db38,#f1cb3a,#f9bc39,#fdac34,#fe9b2d,#fd8d27,#fb7e21,#f9751d,#f76f1a,#f66c19,#f46617,#f36316,#f05e14,#ed5c14,#eb5914,#e85513,#e65313,#e45113,#e24f13,#e04d13,#de4b13,#dc4a14,#db4a14,#da4814,#d94814,#d84614,#d74714,#d74715,#d64514,#d54514,#d54515,#d34414,#d34415,#d34415,#d34415,#d34415,#d34415,#d34415,#d34415,#d34415,#d34415,#d34415,#d34415,#d34415,#d34415,#d34415,#d34415,#d34415,#d34415,#d34415,#d34415,#d34414,#d34414,#d34414,#d44414,#d44414,#d54515,#d54515,#d54515,#d54515,#d54515,#d54515,#d54515,#d54515,#d54515)"></i>
<i style="background:linear-gradient(90deg,#4666dd,#466be3,#467df4,#4294ff,#31aff5,#23c3e4,#1ad2d2,#18ddc2,#1ce6b4,#25eca7,#35f394,#46f884,#59fb73,#6dfe62,#84ff51,#a4fc3c,#bef434,#d4e735,#e3db38,#efcd3a,#f7c13a,#fcb336,#fea431,#fe962b,#fd8a26,#fb7e21,#f9781e,#f8721c,#f66c19,#f46617,#f36316,#ef5e15,#ed5c15,#ea5714,#e65213,#e45113,#e24f13,#e04d13,#de4b14,#dc4a14,#da4814,#d94814,#d94814,#d84714,#d74714,#d64514,#d54514,#d54515,#d54515,#d54515,#d34414,#d34415,#d34415,#d34415,#d34415,#d34415,#d34415,#d34415,#d34415,#d34415,#d34415,#d34415,#d34415,#d34415,#d34415,#d34415,#d34415,#d34415,#d34415,#d34415,#d34415,#d34415,#d34415,#d34415,#d34415,#d34415,#d34415,#d34415,#d34414,#d34414,#d34414,#d34414,#d34414)"></i>
<i style="background:linear-gradient(90deg,#4666dd,#4669e0,#467df4,#4099ff,#2eb4f2,#22c5e2,#1ad2d2,#18dec0,#1ce6b4,#25eca7,#35f394,#46f884,#5dfc6f,#71fe5f,#88ff4e,#a7fc3a,#c3f134,#d7e535,#e5d938,#eecf3a,#f6c33a,#fbb838,#fdac34,#fe9e2f,#fe9029,#fc8423,#fb7e21,#f9781e,#f8721c,#f56918,#f46617,#f16115,#ee5b14,#ea5713,#e75514,#e45113,#e24f13,#e04d13,#de4b14,#dc4a14,#da4814,#d94814,#d84614,#d84714,#d74714,#d64514,#d54514,#d54515,#d54515,#d54515,#d34414,#d34415,#d34415,#d34415,#d34415,#d34415,#d34415,#d34415,#d34415,#d34415,#d34415,#d34415,#d34415,#d34415,#d34415,#d34415,#d34415,#d34415,#d34415,#d34415,#d34415,#d34415,#d34415,#d34415,#d34415,#d34415,#d34415,#d34415,#d34415,#d34415,#d34415,#d34415,#d34415)"></i>
<i style="background:linear-gradient(90deg,#4666dd,#466be3,#4682f8,#3ba0fd,#2ab9ee,#1fc9dd,#19d5cd,#18dec0,#1ce6b4,#25eca7,#35f394,#46f884,#5dfc6f,#79fe59,#92ff47,#affa37,#c8ef34,#d9e436,#e5d938,#ecd13a,#f4c73a,#f9bc39,#fcb336,#fea732,#fe992c,#fd8d27,#fc8423,#fb7e21,#f9751d,#f76f1a,#f56918,#f36316,#ef5e15,#ec5914,#e85514,#e45013,#e24f13,#e04d13,#de4b14,#db4a14,#da4814,#d94814,#d84614,#d74714,#d74714,#d64514,#d54514,#d54515,#d54515,#d54515,#d54515,#d34414,#d34414,#d34415,#d34415,#d34415,#d34415,#d34415,#d34415,#d34415,#d34415,#d34415,#d34415,#d34415,#d34415,#d34415,#d34415,#d34415,#d34415,#d34415,#d34415,#d34415,#d34415,#d34415,#d34415,#d34415,#d34415,#d34415,#d34415,#d34415,#d34415,#d34415,#d34415)"></i>
<i style="background:linear-gradient(90deg,#466be3,#4771e9,#4687fb,#38a5fb,#27bee9,#1ecbda,#19d5cd,#18e0bd,#1de7b2,#27eea4,#35f394,#46f884,#61fc6c,#7dff56,#96fe44,#b1f936,#cbed34,#dbe236,#e5d938,#ecd13a,#f2c93a,#f8be39,#fbb637,#fea933,#fe9b2d,#fe9029,#fc8725,#fb8122,#f9781e,#f76f1a,#f56918,#f36315,#f05e14,#ec5914,#e85513,#e45013,#e24f13,#e04d14,#dd4b14,#db4a14,#da4814,#d94814,#d84614,#d74714,#d74714,#d64514,#d54514,#d54515,#d54515,#d54515,#d54515,#d44414,#d34414,#d34415,#d34415,#d34415,#d34415,#d34415,#d34415,#d34415,#d34415,#d34415,#d34415,#d34415,#d34415,#d14215,#d14215,#d14215,#d14215,#d14215,#d14215,#d14215,#d14215,#d14215,#d14215,#d14215,#d14215,#d14215,#d14215,#d14215,#d14215,#d14215,#d14215)"></i>
<i style="background:linear-gradient(90deg,#477bf2,#467df4,#4294ff,#33adf7,#22c5e2,#1bd0d5,#18d9c8,#19e2bb,#1fe9af,#27eea4,#35f394,#46f884,#61fc6c,#80ff53,#99fe42,#b4f836,#cbed34,#dbe236,#e5d938,#ecd13a,#f2c93a,#f8be39,#fbb637,#fea933,#fe9e2f,#fe932a,#fd8a26,#fb8122,#f9781e,#f8721c,#f66c19,#f46617,#f16115,#ed5c15,#e85513,#e45113,#e24f14,#e04d14,#dd4b14,#db4a14,#da4814,#d94814,#d84614,#d74714,#d74714,#d64514,#d54514,#d54515,#d54515,#d54515,#d54515,#d54515,#d34414,#d34415,#d34415,#d34415,#d34415,#d34415,#d34415,#d34415,#d34415,#d34415,#d14215,#d14215,#d14215,#d14215,#d14215,#d14215,#d14215,#d14215,#d14215,#d14215,#d14215,#d14215,#d14215,#d14215,#d14315,#d14315,#d14315,#d14315,#d14315,#d14315,#d14315)"></i>
<i style="background:linear-gradient(90deg,#4685fa,#4687fb,#3e9bfe,#2eb4f2,#20c7df,#1ad4d0,#18dbc5,#19e3b9,#1fe9af,#2aefa1,#35f394,#46f884,#61fc6c,#80ff53,#9cfe40,#b4f836,#cdec34,#dbe236,#e5d938,#ecd13a,#f2c93a,#f8be39,#fbb637,#fea933,#fe9e2f,#fe932a,#fd8a26,#fb8122,#f9781e,#f8721c,#f66c19,#f46617,#f16015,#ed5c14,#e85514,#e45114,#e14f14,#df4d14,#dd4b14,#db4a14,#da4814,#d94814,#d84614,#d84714,#d74714,#d64514,#d54514,#d54515,#d54515,#d54515,#d54515,#d54515,#d34414,#d34415,#d34415,#d34415,#d34415,#d34415,#d34415,#d34415,#d34415,#d34415,#d14215,#d14215,#d14215,#d14215,#d14215,#d14215,#d14215,#d14215,#d14215,#d14315,#d14315,#d14315,#d14315,#d14315,#cf4115,#cf4115,#cf4115,#cf4115,#cf4115,#cf4115,#cf4115)"></i>
<i style="background:linear-gradient(90deg,#4196ff,#4099ff,#35abf8,#27bee9,#1ccdd8,#18d7ca,#18dec0,#1ae4b6,#20eaac,#2cf09e,#38f491,#46f884,#65fd69,#84ff51,#9ffd3f,#b7f735,#cdec34,#dbe236,#e5d938,#ecd13a,#f2c93a,#f8be39,#fcb336,#fea933,#fe9e2f,#fe932a,#fd8a26,#fb8122,#fa7b1f,#f8721c,#f66c19,#f56918,#f36316,#ee5b14,#e85514,#e24f13,#e04d13,#de4b13,#dd4b14,#db4a14,#da4814,#d94814,#d84614,#d84714,#d74714,#d64514,#d54514,#d54515,#d54515,#d54515,#d54515,#d54515,#d34414,#d34415,#d34415,#d34415,#d34415,#d34415,#d34415,#d34415,#d34415,#d34415,#d14215,#d14215,#d14215,#d14215,#d14215,#d14215,#d14315,#d14315,#d14315,#cf4115,#cf4115,#cf4115,#cf4115,#cf4115,#cf4115,#cf4115,#cf4115,#cf4115,#cf4115,#cf4115,#cf4115)"></i>
<i style="background:linear-gradient(90deg,#3ba0fd,#3aa3fc,#2fb2f4,#23c3e4,#1ad2d2,#18d9c8,#18e0bd,#1ce6b4,#22ebaa,#2cf09e,#38f491,#4af880,#65fd69,#84ff51,#9ffd3f,#b9f635,#cdec34,#dbe236,#e5d938,#ecd13a,#f4c73a,#f8be39,#fcb336,#fea732,#fe9e2f,#fe932a,#fd8a26,#fb8122,#fa7b1f,#f9751d,#f76f1a,#f56918,#f36316,#ee5b14,#e85514,#e24f13,#e04d13,#de4b13,#dc4913,#db4a14,#da4814,#da4814,#d94814,#d84714,#d74714,#d64514,#d54514,#d54515,#d54515,#d54515,#d54515,#d54515,#d34414,#d34415,#d34415,#d34415,#d34415,#d34415,#d34415,#d34415,#d34415,#d34415,#d14215,#d14215,#d14215,#d14215,#d14215,#d14315,#d14315,#cf4115,#cf4115,#cf4115,#cf4115,#cf4115,#cf4115,#cf4115,#cf4115,#cf4115,#cf4115,#cf4115,#cf4115,#cf4115,#cf4115)"></i>
<i style="background:linear-gradient(90deg,#31aff5,#2fb2f4,#27bee9,#1ecbda,#19d5cd,#18ddc2,#19e3b9,#1de7b2,#25eca7,#2ff19b,#38f491,#4af880,#65fd69,#88ff4e,#a1fd3d,#b9f635,#d0ea34,#dde037,#e5d938,#ecd13a,#f4c73a,#f8be39,#fcb336,#fea732,#fe9e2f,#fe932a,#fd8a26,#fc8423,#fa7b1f,#f9751d,#f76f1a,#f56918,#f36315,#ef5e15,#e85514,#e24f14,#df4d14,#de4b14,#dc4913,#db4a14,#da4814,#da4814,#d94814,#d84614,#d74714,#d64514,#d54514,#d54515,#d54515,#d54515,#d54515,#d54515,#d34414,#d34415,#d34415,#d34415,#d34415,#d34415,#d34415,#d34415,#d34415,#d34415,#d14215,#d14215,#d14215,#d14215,#d14315,#d14315,#cf4115,#cf4115,#cf4115,#cf4115,#cf4115,#cd3f15,#cd3f15,#cd3f15,#cd3f15,#cd3f15,#cd3f15,#cd3f15,#cd3f15,#cd3f15,#cd3f15)"></i>
<i style="background:linear-gradient(90deg,#28bceb,#27bee9,#20c7df,#1bd0d5,#18d9c8,#18e0bd,#1ae4b6,#1fe9af,#27eea4,#2ff19b,#3cf58e,#4af880,#69fd66,#88ff4e,#a4fc3c,#bcf534,#d0ea34,#dde037,#e5d938,#eecf3a,#f4c73a,#f9bc39,#fcb336,#fea732,#fe9e2f,#fe932a,#fd8d27,#fc8423,#fa7b1f,#f9751d,#f76f1a,#f56918,#f46617,#ef5e15,#e85514,#e14f14,#de4b13,#de4b14,#dc4913,#dc4a14,#da4814,#da4814,#d94814,#d84614,#d74714,#d64514,#d54514,#d54515,#d54515,#d54515,#d54515,#d54515,#d34414,#d34415,#d34415,#d34415,#d34415,#d34415,#d34415,#d34415,#d34415,#d34415,#d14215,#d14215,#d14215,#d14315,#d14315,#cf4115,#cf4115,#cf4115,#cf4115,#cf4115,#cd3f15,#cd3f15,#cd3f15,#cd3f15,#cd3f15,#cd3f15,#cd3f15,#cd3f15,#cd3f15,#cd3f15,#cd3f15)"></i>
<i style="background:linear-gradient(90deg,#1fc9dd,#1fc9dd,#1bd0d5,#18d7ca,#18ddc2,#19e3b9,#1de7b2,#22ebaa,#2aefa1,#32f298,#3cf58e,#4af880,#69fd66,#8bff4b,#a7fc3a,#bcf534,#d0ea34,#dde037,#e7d739,#eecf3a,#f4c73a,#f9bc39,#fcb136,#fea732,#fe9e2f,#fe962b,#fd8d27,#fc8423,#fa7b1f,#f9751d,#f8721c,#f66c19,#f46617,#ef5e15,#e85514,#e04d13,#de4b13,#de4b14,#dc4913,#dc4a14,#db4a14,#da4814,#d94814,#d84614,#d74714,#d64514,#d54514,#d54515,#d54515,#d54515,#d54515,#d54515,#d34414,#d34415,#d34415,#d34415,#d34415,#d34415,#d34415,#d34415,#d34415,#d34415,#d14215,#d14215,#d14215,#d14315,#cf4115,#cf4115,#cf4115,#cf4115,#cd3f15,#cd3f15,#cd3f15,#cd3f15,#cd3f15,#cc3e15,#cc3e15,#cc3e15,#cc3e15,#cc3e15,#cc3e15,#cc3e15,#cc3e15)"></i>
<i style="background:linear-gradient(90deg,#1bd0d5,#1bd0d5,#19d5cd,#18dbc5,#18e0bd,#1ae4b6,#1fe9af,#25eca7,#2cf09e,#32f298,#3cf58e,#4af880,#69fd66,#8bff4b,#a7fc3a,#bef434,#d0ea34,#dde037,#e7d739,#eecf3a,#f4c73a,#f9bc39,#fcb136,#fea732,#fe9e2f,#fe962b,#fd8d27,#fc8423,#fb7e21,#f9781e,#f8721c,#f66c19,#f56918,#f16115,#e85514,#e04d13,#de4b14,#dd4b14,#dc4914,#dc4a14,#db4a14,#da4814,#d94814,#d84614,#d74714,#d64514,#d54514,#d54515,#d54515,#d54515,#d54515,#d54515,#d34414,#d34415,#d34415,#d34415,#d34415,#d34415,#d34415,#d34415,#d34415,#d34415,#d14215,#d14215,#d14315,#d14315,#cf4115,#cf4115,#cf4115,#cd3f15,#cd3f15,#cd3f15,#cd3f15,#cc3e15,#cc3e15,#cc3e15,#cc3e15,#cc3e15,#cc3e15,#cc3e15,#cc3e15,#cc3e15,#cc3e15)"></i>
<i style="background:linear-gradient(90deg,#19d5cd,#19d5cd,#18d9c8,#18dec0,#19e3b9,#1ce6b4,#20eaac,#27eea4,#2ff19b,#35f394,#3ff68a,#4ef97d,#69fd66,#8bff4b,#a7fc3a,#bef434,#d0ea34,#dde037,#e5d938,#eecf3a,#f4c73a,#f8be39,#fcb336,#fea933,#fe9e2f,#fe992c,#fe9029,#fc8725,#fb8122,#fa7b1f,#f9751d,#f76f1a,#f66c19,#f16015,#e85513,#e04d13,#de4b14,#dd4b14,#dc4914,#dc4a14,#db4a14,#da4814,#d94814,#d84614,#d74714,#d64514,#d54514,#d54515,#d54515,#d54515,#d54515,#d54515,#d34414,#d34415,#d34415,#d34415,#d34415,#d34415,#d34415,#d34415,#d34415,#d34415,#d14215,#d14215,#d14315,#cf4115,#cf4115,#cf4115,#cd3f15,#cd3f15,#cd3f15,#cd3f15,#cc3e15,#cc3e15,#cc3e15,#ca3c14,#ca3c14,#ca3c14,#ca3c14,#ca3c14,#ca3c14,#ca3c14,#ca3c14)"></i>
<i style="background:linear-gradient(90deg,#18d7ca,#18d7ca,#18ddc2,#18e0bd,#1ae4b6,#1fe9af,#22ebaa,#2aefa1,#2ff19b,#38f491,#43f787,#4ef97d,#65fd69,#88ff4e,#a7fc3a,#bef434,#d0ea34,#dde037,#e5d938,#ecd13a,#f4c73a,#f8be39,#fcb336,#fea933,#fea130,#fe992c,#fe9029,#fd8a26,#fb8122,#fa7b1f,#f9751d,#f8721c,#f66c19,#f36316,#e95714,#e04d13,#de4b14,#dd4b14,#dc4914,#dc4a14,#db4a14,#da4814,#d94814,#d84614,#d74714,#d64514,#d54514,#d54515,#d54515,#d54515,#d54515,#d54515,#d34414,#d34415,#d34415,#d34415,#d34415,#d34415,#d34415,#d34415,#d34415,#d34415,#d14215,#d14215,#d14315,#cf4115,#cf4115,#cf4115,#cd3f15,#cd3f15,#cd3f15,#cc3e15,#cc3e15,#cc3e15,#ca3c14,#ca3c14,#ca3c14,#ca3c14,#ca3c14,#ca3c14,#c83a14,#c83a14,#c83a14)"></i>
<i style="background:linear-gradient(90deg,#18dbc5,#18ddc2,#18e0bd,#19e3b9,#1de7b2,#20eaac,#27eea4,#2cf09e,#35f394,#3cf58e,#46f884,#52fa7a,#65fd69,#88ff4e,#a7fc3a,#bef434,#d0ea34,#dde037,#e5d938,#ecd13a,#f2c93a,#f8be39,#fbb637,#fdac34,#fea130,#fe9b2d,#fe932a,#fd8d27,#fc8423,#fb7e21,#f9781e,#f9751d,#f76f1a,#f46617,#ea5714,#e04d13,#de4b14,#dd4b14,#dc4914,#dc4a14,#db4a14,#da4814,#d94814,#d84614,#d74714,#d64514,#d54514,#d54515,#d54515,#d54515,#d54515,#d54515,#d34414,#d34415,#d34415,#d34415,#d34415,#d34415,#d34415,#d34415,#d34415,#d14215,#d14215,#d14315,#cf4115,#cf4115,#cf4115,#cd3f15,#cd3f15,#cd3f15,#cc3e15,#cc3e15,#cc3e15,#ca3c14,#ca3c14,#ca3c14,#c83a14,#c83a14,#c83a14,#c83a14,#c83a14,#c83a14,#c83a14)"></i>
<i style="background:linear-gradient(90deg,#18dec0,#18dec0,#19e2bb,#1ae4b6,#1fe9af,#22ebaa,#2aefa1,#2ff19b,#35f394,#3ff68a,#46f884,#52fa7a,#65fd69,#88ff4e,#a7fc3a,#bef434,#d0ea34,#dde037,#e5d938,#ecd13a,#f2c93a,#f7c13a,#fbb637,#fdac34,#fea431,#fe9b2d,#fe962b,#fd8d27,#fc8725,#fb8122,#fa7b1f,#f9781e,#f8721c,#f56918,#eb5914,#e04d13,#de4b14,#dd4b14,#dc4914,#dc4a14,#db4a14,#da4814,#d94814,#d84614,#d74714,#d64514,#d54514,#d54515,#d54515,#d54515,#d54515,#d54515,#d34414,#d34415,#d34415,#d34415,#d34415,#d34415,#d34415,#d34415,#d34415,#d14215,#d14215,#d14315,#cf4115,#cf4115,#cf4115,#cd3f15,#cd3f15,#cd3f15,#cc3e15,#cc3e15,#ca3c14,#ca3c14,#ca3c14,#c83a14,#c83a14,#c83a14,#c83a14,#c63913,#c63913,#c63913,#c63913)"></i>
<i style="background:linear-gradient(90deg,#19e2bb,#19e2bb,#1ae4b6,#1de7b2,#22ebaa,#27eea4,#2cf09e,#32f298,#3cf58e,#43f787,#4af880,#55fa76,#65fd69,#84ff51,#a7fc3a,#bef434,#d0ea34,#dde037,#e5d938,#ecd13a,#f2c93a,#f7c13a,#fbb838,#fdae35,#fea431,#fe9e2f,#fe962b,#fe9029,#fd8a26,#fc8423,#fb7e21,#fa7b1f,#f9751d,#f66c19,#ec5914,#e04d13,#de4b14,#dd4b14,#dc4914,#dc4a14,#db4a14,#da4814,#d94814,#d84614,#d74714,#d64514,#d54514,#d54515,#d54515,#d54515,#d54515,#d54515,#d34414,#d34415,#d34415,#d34415,#d34415,#d34415,#d34415,#d34415,#d34415,#d14215,#d14215,#d14315,#cf4115,#cf4115,#cd3f15,#cd3f15,#cd3f15,#cc3e15,#cc3e15,#ca3c14,#ca3c14,#ca3c14,#c83a14,#c83a14,#c63913,#c63913,#c63913,#c63913,#c53713,#c53713,#c53713)"></i>
<i style="background:linear-gradient(90deg,#19e3b9,#1ae4b6,#1ce6b4,#20eaac,#25eca7,#2aefa1,#2ff19b,#35f394,#3cf58e,#43f787,#4ef97d,#55fa76,#65fd69,#84ff51,#a7fc3a,#bef434,#d0ea34,#dbe236,#e5d938,#ecd13a,#f2c93a,#f7c13a,#fbb838,#fdae35,#fea732,#fe9e2f,#fe992c,#fe9029,#fd8a26,#fc8423,#fb8122,#fa7b1f,#f9781e,#f66c19,#ec5914,#e04d13,#de4b14,#dd4b14,#dc4914,#dc4a14,#db4a14,#da4814,#d94814,#d84614,#d74714,#d64514,#d54514,#d54515,#d54515,#d54515,#d54515,#d54515,#d34414,#d34415,#d34415,#d34415,#d34415,#d34415,#d34415,#d34415,#d34415,#d14215,#d14215,#d14315,#cf4115,#cf4115,#cd3f15,#cd3f15,#cc3e15,#cc3e15,#cc3e15,#ca3c14,#ca3c14,#c83a14,#c83a14,#c63913,#c63913,#c63913,#c53713,#c53713,#c53713,#c53713,#c53713)"></i>
<i style="background:linear-gradient(90deg,#1ce6b4,#1de7b2,#1fe9af,#22ebaa,#27eea4,#2cf09e,#32f298,#38f491,#3ff68a,#46f884,#4ef97d,#55fa76,#61fc6c,#84ff51,#a7fc3a,#bef434,#d0ea34,#dbe236,#e5d938,#ebd339,#f1cb3a,#f6c33a,#faba39,#fcb136,#fea732,#fea130,#fe992c,#fe932a,#fd8d27,#fc8725,#fb8122,#fb7e21,#fa7b1f,#f76f1a,#ed5c15,#e04d13,#de4b14,#dd4b14,#dc4914,#dc4a14,#db4a14,#da4814,#d94814,#d84614,#d74714,#d64514,#d54514,#d54515,#d54515,#d54515,#d54515,#d54515,#d34414,#d34415,#d34415,#d34415,#d34415,#d34415,#d34415,#d34415,#d34415,#d14215,#d14215,#d14315,#cf4115,#cf4115,#cd3f15,#cd3f15,#cc3e15,#cc3e15,#ca3c14,#ca3c14,#c83a14,#c83a14,#c63913,#c63913,#c53713,#c53713,#c53713,#c53713,#c33613,#c33613,#c33613)"></i>
<i style="background:linear-gradient(90deg,#1de7b2,#1fe9af,#20eaac,#25eca7,#2aefa1,#2ff19b,#35f394,#3cf58e,#43f787,#4af880,#52fa7a,#59fb73,#65fd69,#84ff51,#a7fc3a,#bef434,#d0ea34,#dbe236,#e5d938,#ebd339,#f1cb3a,#f6c33a,#faba39,#fcb136,#fea933,#fea130,#fe9b2d,#fe962b,#fd8d27,#fc8725,#fc8423,#fb7e21,#fa7b1f,#f76f1a,#ed5c14,#e14f14,#de4b14,#dd4b14,#dc4914,#dc4a14,#db4a14,#da4814,#d94814,#d84614,#d74714,#d64514,#d54514,#d54515,#d54515,#d54515,#d54515,#d44414,#d34414,#d34415,#d34415,#d34415,#d34415,#d34415,#d34415,#d34415,#d34415,#d14215,#d14215,#cf4115,#cf4115,#cf4115,#cd3f15,#cd3f15,#cc3e15,#cc3e15,#ca3c14,#ca3c14,#c83a14,#c83a14,#c63913,#c63913,#c53713,#c53713,#c53713,#c33613,#c33613,#c33613,#c33613)"></i>
<i style="background:linear-gradient(90deg,#1fe9af,#20eaac,#22ebaa,#27eea4,#2cf09e,#32f298,#38f491,#3ff68a,#43f787,#4af880,#52fa7a,#59fb73,#65fd69,#84ff51,#a4fc3c,#bcf534,#d0ea34,#dbe236,#e3db38,#ebd339,#f1cb3a,#f6c33a,#faba39,#fcb336,#fea933,#fea130,#fe9b2d,#fe962b,#fe9029,#fd8a26,#fc8423,#fb8122,#fa7b1f,#f76f1a,#ed5c14,#e14f14,#de4b14,#dd4b14,#dc4914,#dc4a14,#db4a14,#da4814,#d94814,#d84614,#d74714,#d64514,#d54514,#d54515,#d54515,#d54515,#d54515,#d34414,#d34415,#d34415,#d34415,#d34415,#d34415,#d34415,#d34415,#d34415,#d14215,#d14215,#d14315,#cf4115,#cf4115,#cd3f15,#cd3f15,#cc3e15,#cc3e15,#ca3c14,#ca3c14,#c83a14,#c83a14,#c63913,#c63913,#c53713,#c53713,#c53713,#c33613,#c33613,#c33613,#c33613,#c33613)"></i>
<i style="background:linear-gradient(90deg,#20eaac,#20eaac,#25eca7,#2aefa1,#2ff19b,#32f298,#38f491,#3ff68a,#46f884,#4ef97d,#52fa7a,#59fb73,#69fd66,#84ff51,#a4fc3c,#bcf534,#d0ea34,#dbe236,#e3db38,#ebd339,#f1cb3a,#f6c33a,#f9bc39,#fcb336,#fea933,#fea130,#fe9b2d,#fe962b,#fe9029,#fd8a26,#fc8423,#fb8122,#fa7b1f,#f76f1a,#ed5c14,#e14f14,#de4b14,#dd4b14,#dc4914,#dc4a14,#db4a14,#da4814,#d94814,#d84614,#d74714,#d64514,#d54514,#d54515,#d54515,#d54515,#d54515,#d34414,#d34415,#d34415,#d34415,#d34415,#d34415,#d34415,#d34415,#d14215,#d14215,#d14215,#d14315,#cf4115,#cf4115,#cd3f15,#cd3f15,#cc3e15,#cc3e15,#ca3c14,#ca3c14,#c83a14,#c83a14,#c63913,#c63913,#c53713,#c53713,#c53713,#c33613,#c33613,#c33613,#c33613,#c33613)"></i>
<i style="background:linear-gradient(90deg,#22ebaa,#22ebaa,#27eea4,#2aefa1,#2ff19b,#35f394,#3cf58e,#43f787,#46f884,#4ef97d,#55fa76,#5dfc6f,#69fd66,#88ff4e,#a4fc3c,#bcf534,#d0ea34,#dbe236,#e3db38,#ebd339,#f1cb3a,#f5c53a,#f9bc39,#fcb336,#fea933,#fea130,#fe9b2d,#fe962b,#fe9029,#fd8a26,#fc8423,#fb8122,#fa7b1f,#f76f1a,#ed5c14,#e14f14,#de4b14,#dd4b14,#dc4914,#dc4a14,#db4a14,#da4814,#d94814,#d84614,#d74714,#d64514,#d54514,#d54515,#d54515,#d54515,#d44414,#d34414,#d34415,#d34415,#d34415,#d34415,#d34415,#d34415,#d14215,#d14215,#d14215,#d14215,#d14315,#cf4115,#cf4115,#cd3f15,#cd3f15,#cc3e15,#cc3e15,#ca3c14,#ca3c14,#c83a14,#c83a14,#c63913,#c63913,#c53713,#c53713,#c53713,#c33613,#c33613,#c33613,#c33613,#c33613)"></i>
<i style="background:linear-gradient(90deg,#22ebaa,#25eca7,#27eea4,#2cf09e,#32f298,#35f394,#3cf58e,#43f787,#4af880,#4ef97d,#55fa76,#5dfc6f,#6dfe62,#88ff4e,#a4fc3c,#bcf534,#cdec34,#dbe236,#e3db38,#ebd339,#efcd3a,#f5c53a,#f9bc39,#fcb336,#fdac34,#fea431,#fe9b2d,#fe962b,#fe9029,#fd8a26,#fc8423,#fb8122,#fa7b1f,#f76f1a,#ed5c14,#e14f14,#de4b14,#dd4b14,#dc4914,#dc4a14,#db4a14,#da4814,#d94814,#d84614,#d74714,#d64514,#d54514,#d54515,#d54515,#d54515,#d34414,#d34415,#d34415,#d34415,#d34415,#d34415,#d34415,#d14215,#d14215,#d14215,#d14215,#d14215,#cf4115,#cf4115,#cd3f15,#cd3f15,#cc3e15,#cc3e15,#ca3c14,#ca3c14,#ca3c14,#c83a14,#c83a14,#c63913,#c63913,#c53713,#c53713,#c33613,#c33613,#c33613,#c33613,#c33613,#c33613)"></i>
<i style="background:linear-gradient(90deg,#25eca7,#27eea4,#2aefa1,#2ff19b,#32f298,#38f491,#3ff68a,#43f787,#4af880,#52fa7a,#55fa76,#61fc6c,#71fe5f,#8bff4b,#a4fc3c,#bcf534,#cdec34,#d9e436,#e3db38,#ebd339,#efcd3a,#f5c53a,#f9bc39,#fbb637,#fdac34,#fea431,#fe9b2d,#fe962b,#fe9029,#fd8a26,#fc8423,#fb8122,#fa7b1f,#f76f1a,#ed5c14,#e14f14,#de4b14,#dd4b14,#dc4914,#dc4a14,#db4a14,#da4814,#d94814,#d84614,#d74714,#d64514,#d54514,#d54515,#d54515,#d54515,#d34414,#d34415,#d34415,#d34415,#d34415,#d34415,#d14215,#d14215,#d14215,#d14215,#d14215,#d14315,#cf4115,#cf4115,#cd3f15,#cd3f15,#cc3e15,#cc3e15,#ca3c14,#ca3c14,#c83a14,#c83a14,#c63913,#c63913,#c53713,#c53713,#c33613,#c33613,#c33613,#c33613,#c33613,#c33613,#c33613)"></i>
<i style="background:linear-gradient(90deg,#27eea4,#27eea4,#2cf09e,#2ff19b,#35f394,#38f491,#3ff68a,#46f884,#4af880,#52fa7a,#59fb73,#61fc6c,#71fe5f,#8bff4b,#a4fc3c,#bcf534,#cdec34,#d9e436,#e3db38,#e9d539,#efcd3a,#f5c53a,#f8be39,#fbb637,#fdac34,#fea431,#fe9e2f,#fe962b,#fe9029,#fd8a26,#fc8423,#fb8122,#fa7b1f,#f76f1a,#ed5c14,#e14f14,#de4b14,#dd4b14,#dc4914,#dc4a14,#db4a14,#da4814,#d94814,#d84614,#d74714,#d64514,#d54514,#d54515,#d54515,#d54515,#d34414,#d34415,#d34415,#d34415,#d34415,#d34415,#d14215,#d14215,#d14215,#d14215,#d14315,#d14315,#cf4115,#cf4115,#cd3f15,#cd3f15,#cc3e15,#cc3e15,#ca3c14,#ca3c14,#c83a14,#c83a14,#c63913,#c63913,#c53713,#c53713,#c33613,#c33613,#c33613,#c33613,#c33613,#c33613,#c33613)"></i>
<i style="background:linear-gradient(90deg,#2aefa1,#2aefa1,#2cf09e,#32f298,#38f491,#3cf58e,#43f787,#46f884,#4ef97d,#52fa7a,#59fb73,#61fc6c,#75fe5c,#8bff4b,#a4fc3c,#b9f635,#cdec34,#d9e436,#e3db38,#e9d539,#efcd3a,#f5c53a,#f8be39,#fbb637,#fdac34,#fea431,#fe9e2f,#fe992c,#fe9029,#fd8a26,#fc8423,#fb8122,#fa7b1f,#f76f1a,#ed5c14,#e14f14,#de4b14,#dd4b14,#dc4914,#dc4a14,#db4a14,#da4814,#d94814,#d84614,#d74714,#d64514,#d54514,#d54515,#d54515,#d44414,#d34415,#d34415,#d34415,#d34415,#d34415,#d14215,#d14215,#d14215,#d14215,#d14315,#d14315,#cf4115,#cf4115,#cd3f15,#cd3f15,#cc3e15,#cc3e15,#ca3c14,#ca3c14,#ca3c14,#c83a14,#c83a14,#c63913,#c63913,#c53713,#c53713,#c33613,#c33613,#c33613,#c33613,#c33613,#c33613,#c33613)"></i>
<i style="background:linear-gradient(90deg,#2aefa1,#2cf09e,#2ff19b,#32f298,#38f491,#3ff68a,#43f787,#4af880,#4ef97d,#55fa76,#59fb73,#61fc6c,#75fe5c,#8fff49,#a4fc3c,#b9f635,#cdec34,#d9e436,#e1dd37,#e9d539,#efcd3a,#f4c73a,#f8be39,#fbb637,#fdae35,#fea431,#fe9e2f,#fe992c,#fe9029,#fd8a26,#fc8423,#fb8122,#fa7b1f,#f76f1a,#ed5c14,#e14f14,#de4b14,#dd4b14,#dc4914,#dc4a14,#db4a14,#da4814,#d94814,#d84614,#d74714,#d64514,#d54514,#d54515,#d54515,#d44414,#d34415,#d34415,#d34415,#d34415,#d34415,#d14215,#d14215,#d14215,#d14215,#d14315,#cf4115,#cf4115,#cf4115,#cd3f15,#cd3f15,#cc3e15,#cc3e15,#ca3c14,#ca3c14,#c83a14,#c83a14,#c63913,#c63913,#c53713,#c53713,#c33613,#c33613,#c33613,#c33613,#c33613,#c33613,#c33613,#c33613)"></i>
<i style="background:linear-gradient(90deg,#2cf09e,#2cf09e,#32f298,#35f394,#3cf58e,#3ff68a,#46f884,#4af880,#52fa7a,#55fa76,#5dfc6f,#65fd69,#79fe59,#8fff49,#a4fc3c,#b9f635,#cdec34,#d9e436,#e1dd37,#e9d539,#efcd3a,#f4c73a,#f8be39,#fbb637,#fdae35,#fea431,#fe9e2f,#fe992c,#fe9029,#fd8a26,#fc8423,#fb8122,#fa7b1f,#f76f1a,#ed5c14,#e14f14,#de4b14,#dd4b14,#dc4914,#dc4a14,#db4a14,#da4814,#d94814,#d84614,#d74714,#d64514,#d54514,#d54515,#d54515,#d34414,#d34415,#d34415,#d34415,#d34415,#d14215,#d14215,#d14215,#d14215,#d14315,#d14315,#cf4115,#cf4115,#cf4115,#cd3f15,#cd3f15,#cc3e15,#cc3e15,#ca3c14,#ca3c14,#c83a14,#c83a14,#c63913,#c63913,#c53713,#c53713,#c33613,#c33613,#c33613,#c33613,#c33613,#c33613,#c33613,#c33613)"></i>
<i style="background:linear-gradient(90deg,#2ff19b,#2ff19b,#32f298,#38f491,#3cf58e,#43f787,#46f884,#4af880,#52fa7a,#55fa76,#5dfc6f,#65fd69,#79fe59,#8fff49,#a4fc3c,#b9f635,#cbed34,#d9e436,#e3db38,#e9d539,#efcd3a,#f5c53a,#f8be39,#fbb637,#fdac34,#fea431,#fe9b2d,#fe962b,#fe9029,#fd8a26,#fc8423,#fb8122,#fa7b1f,#f76f1a,#ed5c14,#e14f14,#de4b14,#dd4b14,#dc4914,#dc4a14,#db4a14,#da4814,#d94814,#d84614,#d74714,#d64514,#d54514,#d54515,#d54515,#d34414,#d34415,#d34415,#d34415,#d34415,#d14215,#d14215,#d14215,#d14215,#d14315,#cf4115,#cf4115,#cf4115,#cf4115,#cd3f15,#cd3f15,#cc3e15,#cc3e15,#ca3c14,#ca3c14,#c83a14,#c83a14,#c63913,#c63913,#c53713,#c53713,#c33613,#c33613,#c33613,#c33613,#c33613,#c33613,#c33613,#c33613)"></i>
<i style="background:linear-gradient(90deg,#2ff19b,#32f298,#35f394,#38f491,#3cf58e,#43f787,#46f884,#4ef97d,#52fa7a,#55fa76,#5dfc6f,#65fd69,#79fe59,#8fff49,#a4fc3c,#b9f635,#cbed34,#d9e436,#e3db38,#ebd339,#f1cb3a,#f6c33a,#faba39,#fcb136,#fea933,#fea130,#fe992c,#fe932a,#fd8d27,#fc8725,#fb8122,#fb7e21,#fa7b1f,#f76f1a,#ed5c15,#e04d13,#de4b14,#dd4b14,#dc4914,#dc4a14,#db4a14,#da4814,#d94814,#d84614,#d74714,#d64514,#d54514,#d54515,#d54515,#d34414,#d34415,#d34415,#d34415,#d34415,#d14215,#d14215,#d14215,#d14215,#d14315,#cf4115,#cf4115,#cf4115,#cf4115,#cd3f15,#cd3f15,#cc3e15,#cc3e15,#ca3c14,#ca3c14,#c83a14,#c83a14,#c63913,#c63913,#c53713,#c53713,#c33613,#c33613,#c33613,#c33613,#c33613,#c33613,#c33613,#c33613)"></i>
<i style="background:linear-gradient(90deg,#32f298,#32f298,#35f394,#38f491,#3ff68a,#43f787,#46f884,#4ef97d,#52fa7a,#59fb73,#5dfc6f,#65fd69,#79fe59,#8fff49,#a4fc3c,#b9f635,#cbed34,#d9e436,#e3db38,#ecd13a,#f2c93a,#f7c13a,#fbb838,#fdae35,#fea732,#fe9e2f,#fe992c,#fe932a,#fd8d27,#fc8725,#fb8122,#fb7e21,#f9781e,#f76f1a,#ed5c15,#e04d13,#de4b14,#dd4b14,#dc4914,#dc4a14,#db4a14,#da4814,#d94814,#d84614,#d74714,#d64514,#d54514,#d54515,#d54515,#d34414,#d34415,#d34415,#d34415,#d34415,#d14215,#d14215,#d14215,#d14215,#d14315,#cf4115,#cf4115,#cf4115,#cf4115,#cd3f15,#cd3f15,#cc3e15,#cc3e15,#ca3c14,#ca3c14,#c83a14,#c83a14,#c63913,#c63913,#c53713,#c53713,#c33613,#c33613,#c33613,#c33613,#c33613,#c33613,#c33613,#c33613)"></i>
<i style="background:linear-gradient(90deg,#32f298,#32f298,#38f491,#3cf58e,#3ff68a,#43f787,#4af880,#4ef97d,#52fa7a,#59fb73,#5dfc6f,#65fd69,#79fe59,#8fff49,#a4fc3c,#b9f635,#cbed34,#dbe236,#e5d938,#ecd13a,#f4c73a,#f8be39,#fbb637,#fdac34,#fea130,#fe992c,#fe932a,#fd8d27,#fd8a26,#fc8423,#fb7e21,#fa7b1f,#f9781e,#f66c19,#ec5914,#e04d13,#de4b14,#dd4b14,#dc4914,#dc4a14,#db4a14,#da4814,#d94814,#d84614,#d74714,#d64514,#d54514,#d54515,#d54515,#d34414,#d34415,#d34415,#d34415,#d34415,#d14215,#d14215,#d14215,#d14215,#d14315,#cf4115,#cf4115,#cf4115,#cf4115,#cd3f15,#cd3f15,#cc3e15,#cc3e15,#ca3c14,#ca3c14,#c83a14,#c83a14,#c63913,#c63913,#c53713,#c53713,#c33613,#c33613,#c33613,#c33613,#c33613,#c33613,#c33613,#c33613)"></i>
<i style="background:linear-gradient(90deg,#35f394,#35f394,#38f491,#3cf58e,#3ff68a,#46f884,#4af880,#4ef97d,#52fa7a,#59fb73,#5dfc6f,#65fd69,#79fe59,#8fff49,#a4fc3c,#b7f735,#cbed34,#dbe236,#e5d938,#eecf3a,#f4c73a,#f9bc39,#fcb336,#fea933,#fe9e2f,#fe962b,#fe932a,#fd8d27,#fc8725,#fb8122,#fb7e21,#fa7b1f,#f9751d,#f66c19,#ec5914,#e04d13,#de4b14,#dd4b14,#dc4914,#dc4a14,#db4a14,#da4814,#d94814,#d84614,#d74714,#d64514,#d54514,#d54515,#d54515,#d34414,#d34415,#d34415,#d34415,#d34415,#d14215,#d14215,#d14215,#d14215,#d14315,#cf4115,#cf4115,#cf4115,#cf4115,#cd3f15,#cd3f15,#cc3e15,#cc3e15,#ca3c14,#ca3c14,#c83a14,#c83a14,#c63913,#c63913,#c53713,#c53713,#c33613,#c33613,#c33613,#c33613,#c33613,#c33613,#c33613,#c33613)"></i>
<i style="background:linear-gradient(90deg,#35f394,#35f394,#38f491,#3ff68a,#43f787,#46f884,#4af880,#4ef97d,#55fa76,#59fb73,#5dfc6f,#65fd69,#79fe59,#8fff49,#a4fc3c,#b7f735,#cbed34,#dbe236,#e7d739,#efcd3a,#f5c53a,#faba39,#fcb136,#fea431,#fe992c,#fe932a,#fd8d27,#fd8a26,#fc8423,#fb7e21,#fa7b1f,#f9781e,#f9751d,#f56918,#ec5914,#e04d13,#de4b14,#dd4b14,#dc4914,#dc4a14,#db4a14,#da4814,#d94814,#d84614,#d74714,#d64514,#d54514,#d54515,#d54515,#d34414,#d34415,#d34415,#d34415,#d34415,#d14215,#d14215,#d14215,#d14215,#d14315,#cf4115,#cf4115,#cf4115,#cf4115,#cd3f15,#cd3f15,#cc3e15,#cc3e15,#ca3c14,#ca3c14,#c83a14,#c83a14,#c63913,#c63913,#c53713,#c53713,#c33613,#c33613,#c33613,#c33613,#c33613,#c33613,#c33613,#c33613)"></i>
<i style="background:linear-gradient(90deg,#38f491,#38f491,#3cf58e,#3ff68a,#43f787,#46f884,#4af880,#52fa7a,#55fa76,#59fb73,#5dfc6f,#65fd69,#79fe59,#8fff49,#a4fc3c,#b7f735,#cbed34,#dde037,#e7d739,#efcd3a,#f6c33a,#fbb838,#fdae35,#fea130,#fe962b,#fe9029,#fd8a26,#fc8725,#fb8122,#fb7e21,#fa7b1f,#f9751d,#f8721c,#f56918,#eb5914,#e04d13,#de4b14,#dd4b14,#dc4914,#dc4a14,#db4a14,#da4814,#d94814,#d84614,#d74714,#d64514,#d54514,#d54515,#d54515,#d34414,#d34415,#d34415,#d34415,#d34415,#d14215,#d14215,#d14215,#d14215,#d14315,#cf4115,#cf4115,#cf4115,#cf4115,#cd3f15,#cd3f15,#cc3e15,#cc3e15,#ca3c14,#ca3c14,#c83a14,#c83a14,#c63913,#c63913,#c53713,#c53713,#c33613,#c33613,#c33613,#c33613,#c33613,#c33613,#c33613,#c33613)"></i>
<i style="background:linear-gradient(90deg,#38f491,#38f491,#3cf58e,#3ff68a,#43f787,#4af880,#4ef97d,#52fa7a,#55fa76,#59fb73,#5dfc6f,#65fd69,#79fe59,#92ff47,#a4fc3c,#b7f735,#cbed34,#dde037,#e9d539,#f1cb3a,#f7c13a,#fbb637,#fea933,#fe9e2f,#fe932a,#fd8d27,#fd8a26,#fc8423,#fb8122,#fa7b1f,#f9781e,#f9751d,#f8721c,#f46617,#ea5713,#e04d13,#de4b14,#dd4b14,#dc4914,#dc4a14,#db4a14,#da4814,#d94814,#d84614,#d74714,#d64514,#d54514,#d54515,#d54515,#d34414,#d34415,#d34415,#d34415,#d34415,#d14215,#d14215,#d14215,#d14315,#d14315,#cf4115,#cf4115,#cf4115,#cf4115,#cd3f15,#cd3f15,#cc3e15,#cc3e15,#ca3c14,#ca3c14,#c83a14,#c83a14,#c63913,#c63913,#c53713,#c53713,#c33613,#c33613,#c33613,#c33613,#c33613,#c33613,#c33613,#c33613)"></i>
<i style="background:linear-gradient(90deg,#3cf58e,#3cf58e,#3ff68a,#43f787,#46f884,#4af880,#4ef97d,#52fa7a,#55fa76,#59fb73,#5dfc6f,#65fd69,#7dff56,#92ff47,#a4fc3c,#b7f735,#cbed34,#dde037,#e9d539,#f1cb3a,#f7c13a,#fbb637,#fea933,#fe9e2f,#fe932a,#fd8d27,#fd8a26,#fc8423,#fb7e21,#fa7b1f,#f9781e,#f8721c,#f76f1a,#f46617,#ea5714,#e04d13,#de4b14,#dd4b14,#dc4a14,#dc4a14,#da4814,#da4814,#d94814,#d84614,#d74714,#d64514,#d54514,#d54515,#d54515,#d34415,#d34415,#d34415,#d34415,#d14215,#d14215,#d14215,#d14215,#d14315,#cf4115,#cf4115,#cf4115,#cf4115,#cd3f15,#cd3f15,#cc3e15,#cc3e15,#cc3e15,#ca3c14,#ca3c14,#c83a14,#c83a14,#c63913,#c63913,#c53713,#c53713,#c33613,#c33613,#c33613,#c33613,#c33613,#c33613,#c33613,#c33613)"></i>
<i style="background:linear-gradient(90deg,#3ff68a,#3ff68a,#43f787,#43f787,#46f884,#4af880,#4ef97d,#52fa7a,#59fb73,#5dfc6f,#61fc6c,#69fd66,#80ff53,#96fe44,#a7fc3a,#b9f635,#cbed34,#dde037,#e7d739,#efcd3a,#f6c33a,#fbb838,#fdac34,#fea130,#fe962b,#fe9029,#fd8a26,#fc8725,#fb8122,#fa7b1f,#f9751d,#f8721c,#f66c19,#f36316,#e85513,#e04d13,#de4b14,#dc4913,#dc4a14,#db4a14,#da4814,#d94814,#d84614,#d84714,#d74714,#d54514,#d54515,#d54515,#d34415,#d34415,#d34415,#d34415,#d14215,#d14215,#d14215,#d14315,#d14315,#cf4115,#cf4115,#cf4115,#cf4115,#cf4115,#cd3f15,#cd3f15,#cc3e15,#cc3e15,#ca3c14,#ca3c14,#c83a14,#c83a14,#c83a14,#c63913,#c63913,#c53713,#c53713,#c33613,#c33613,#c33613,#c33613,#c33613,#c33613,#c33613,#c33613)"></i>
<i style="background:linear-gradient(90deg,#3ff68a,#43f787,#43f787,#46f884,#4af880,#4ef97d,#52fa7a,#55fa76,#59fb73,#5dfc6f,#61fc6c,#6dfe62,#84ff51,#99fe42,#a9fb39,#bcf534,#cdec34,#dde037,#e7d739,#efcd3a,#f5c53a,#faba39,#fdae35,#fea431,#fe992c,#fe932a,#fd8d27,#fc8725,#fb8122,#fa7b1f,#f9751d,#f76f1a,#f56918,#f16015,#e85514,#e04d14,#de4b14,#dc4913,#dc4a14,#db4a14,#da4814,#d94814,#d84614,#d74714,#d74715,#d54514,#d54515,#d34414,#d34415,#d34415,#d34415,#d14215,#d14215,#d14215,#d14315,#d14315,#cf4115,#cf4115,#cf4115,#cf4115,#cf4115,#cd3f15,#cd3f15,#cd3f15,#cc3e15,#cc3e15,#ca3c14,#ca3c14,#c83a14,#c83a14,#c63913,#c63913,#c63913,#c53713,#c53713,#c33613,#c33613,#c33613,#c33613,#c33613,#c33613,#c33613,#c33613)"></i>
<i style="background:linear-gradient(90deg,#46f884,#46f884,#46f884,#4af880,#4af880,#4ef97d,#52fa7a,#55fa76,#59fb73,#61fc6c,#65fd69,#6dfe62,#88ff4e,#9cfe40,#affa37,#bef434,#cdec34,#dbe236,#e5d938,#eecf3a,#f4c73a,#f9bc39,#fcb336,#fea732,#fe9e2f,#fe992c,#fe9029,#fd8a26,#fc8423,#fa7b1f,#f9751d,#f76f1a,#f46617,#ef5e15,#e65313,#df4d14,#dd4b14,#dc4914,#dc4a14,#da4814,#da4814,#d94814,#d84714,#d74714,#d64514,#d54515,#d54515,#d34415,#d34415,#d34415,#d14215,#d14215,#d14215,#d14315,#cf4115,#cf4115,#cf4115,#cf4115,#cf4115,#cd3f15,#cd3f15,#cd3f15,#cd3f15,#cc3e15,#cc3e15,#ca3c14,#ca3c14,#ca3c14,#c83a14,#c83a14,#c63913,#c63913,#c53713,#c53713,#c53713,#c33613,#c33613,#c33613,#c33613,#c33613,#c33613,#c33613,#c33613)"></i>
<i style="background:linear-gradient(90deg,#46f884,#46f884,#4af880,#4af880,#4ef97d,#4ef97d,#52fa7a,#59fb73,#5dfc6f,#61fc6c,#65fd69,#71fe5f,#8bff4b,#9ffd3f,#affa37,#c1f334,#cdec34,#dbe236,#e5d938,#ecd13a,#f4c73a,#f8be39,#fcb336,#fea933,#fea130,#fe9b2d,#fe932a,#fd8d27,#fc8423,#fb7e21,#f9751d,#f66c19,#f46617,#ed5c14,#e45013,#df4d14,#dd4b14,#dc4a14,#db4a14,#da4814,#d94814,#d84614,#d74714,#d74715,#d54514,#d54515,#d34414,#d34415,#d34415,#d34415,#d14215,#d14215,#d14315,#d14315,#cf4115,#cf4115,#cf4115,#cf4115,#cd3f15,#cd3f15,#cd3f15,#cd3f15,#cc3e15,#cc3e15,#cc3e15,#ca3c14,#ca3c14,#ca3c14,#c83a14,#c83a14,#c63913,#c63913,#c53713,#c53713,#c53713,#c33613,#c33613,#c33613,#c33613,#c33613,#c33613,#c33613,#c33613)"></i>
<i style="background:linear-gradient(90deg,#4af880,#4af880,#4ef97d,#4ef97d,#4ef97d,#52fa7a,#55fa76,#59fb73,#5dfc6f,#61fc6c,#69fd66,#75fe5c,#8fff49,#a4fc3c,#b4f836,#c3f134,#d0ea34,#dbe236,#e3db38,#ebd339,#f2c93a,#f7c13a,#fbb838,#fdae35,#fea732,#fe9e2f,#fe962b,#fe9029,#fc8725,#fb7e21,#f9751d,#f66c19,#f36316,#eb5914,#e35114,#de4b13,#dd4b14,#dc4a14,#db4a14,#da4814,#d94814,#d84614,#d74714,#d64514,#d54514,#d54515,#d34415,#d34415,#d34415,#d14215,#d14215,#d14315,#cf4115,#cf4115,#cf4115,#cf4115,#cf4115,#cd3f15,#cd3f15,#cd3f15,#cd3f15,#cc3e15,#cc3e15,#cc3e15,#ca3c14,#ca3c14,#ca3c14,#c83a14,#c83a14,#c83a14,#c63913,#c63913,#c53713,#c53713,#c53713,#c33613,#c33613,#c33613,#c33613,#c33613,#c33613,#c33613,#c33613)"></i>
<i style="background:linear-gradient(90deg,#4ef97d,#4ef97d,#4ef97d,#52fa7a,#52fa7a,#52fa7a,#55fa76,#59fb73,#61fc6c,#65fd69,#69fd66,#75fe5c,#92ff47,#a7fc3a,#b7f735,#c3f134,#d0ea34,#dbe236,#e3db38,#ebd339,#f1cb3a,#f6c33a,#faba39,#fcb136,#fea933,#fea130,#fe992c,#fe9029,#fc8725,#fb7e21,#f9751d,#f56918,#f16115,#ea5714,#e24f13,#de4b13,#dc4913,#dc4a14,#da4814,#da4814,#d94814,#d74714,#d74714,#d64514,#d54515,#d54515,#d34415,#d34415,#d14215,#d14215,#d14315,#cf4115,#cf4115,#cf4115,#cf4115,#cf4115,#cd3f15,#cd3f15,#cd3f15,#cd3f15,#cc3e15,#cc3e15,#cc3e15,#cc3e15,#ca3c14,#ca3c14,#ca3c14,#c83a14,#c83a14,#c63913,#c63913,#c63913,#c53713,#c53713,#c53713,#c33613,#c33613,#c33613,#c33613,#c33613,#c33613,#c33613,#c33613)"></i>
<i style="background:linear-gradient(90deg,#52fa7a,#52fa7a,#52fa7a,#52fa7a,#52fa7a,#55fa76,#59fb73,#5dfc6f,#61fc6c,#65fd69,#6dfe62,#79fe59,#96fe44,#a9fb39,#b9f635,#c6f034,#d2e935,#dbe236,#e1dd37,#e9d539,#efcd3a,#f5c53a,#f9bc39,#fcb336,#fdac34,#fea431,#fe9b2d,#fe932a,#fc8725,#fb7e21,#f8721c,#f56918,#ef5e15,#e85514,#e04d13,#de4b14,#dc4913,#dc4a14,#da4814,#d94814,#d84614,#d74714,#d64514,#d54514,#d54515,#d34414,#d34415,#d34415,#d14215,#d14215,#d14315,#cf4115,#cf4115,#cf4115,#cd3f15,#cd3f15,#cd3f15,#cd3f15,#cd3f15,#cc3e15,#cc3e15,#cc3e15,#cc3e15,#ca3c14,#ca3c14,#ca3c14,#ca3c14,#c83a14,#c83a14,#c83a14,#c63913,#c63913,#c53713,#c53713,#c53713,#c33613,#c33613,#c33613,#c33613,#c33613,#c33613,#c33613,#c33613)"></i>
<i style="background:linear-gradient(90deg,#55fa76,#55fa76,#55fa76,#55fa76,#55fa76,#55fa76,#59fb73,#61fc6c,#65fd69,#69fd66,#71fe5f,#7dff56,#99fe42,#acfb38,#bcf534,#c8ef34,#d2e935,#dbe236,#e1dd37,#e9d539,#efcd3a,#f5c53a,#f9bc39,#fbb637,#fdac34,#fea431,#fe9b2d,#fe9029,#fc8725,#fb7e21,#f8721c,#f46617,#ee5b14,#e65213,#e04d13,#de4b14,#dc4913,#dc4a14,#da4814,#d94814,#d84614,#d74714,#d64514,#d54514,#d54515,#d34414,#d34415,#d34415,#d14215,#d14215,#d14315,#cf4115,#cf4115,#cf4115,#cd3f15,#cd3f15,#cd3f15,#cd3f15,#cd3f15,#cc3e15,#cc3e15,#cc3e15,#cc3e15,#cc3e15,#ca3c14,#ca3c14,#ca3c14,#ca3c14,#c83a14,#c83a14,#c83a14,#c63913,#c63913,#c53713,#c53713,#c53713,#c33613,#c33613,#c33613,#c33613,#c33613,#c33613,#c33613)"></i>
<i style="background:linear-gradient(90deg,#59fb73,#59fb73,#59fb73,#59fb73,#59fb73,#5dfc6f,#61fc6c,#65fd69,#69fd66,#71fe5f,#75fe5c,#84ff51,#9cfe40,#affa37,#bef434,#cbed34,#d4e735,#dbe236,#e3db38,#ebd339,#f1cb3a,#f6c33a,#faba39,#fcb336,#fea933,#fea130,#fe992c,#fd8d27,#fc8423,#f9781e,#f76f1a,#f36316,#ec5914,#e65314,#e04d14,#de4b14,#dc4913,#dc4a14,#da4814,#d94814,#d84614,#d74714,#d74715,#d54514,#d54515,#d54515,#d34415,#d34415,#d14215,#d14215,#d14315,#cf4115,#cf4115,#cf4115,#cd3f15,#cd3f15,#cd3f15,#cd3f15,#cd3f15,#cd3f15,#cd3f15,#cd3f15,#cd3f15,#cc3e15,#cc3e15,#cc3e15,#cc3e15,#ca3c14,#ca3c14,#ca3c14,#ca3c14,#c83a14,#c83a14,#c83a14,#c63913,#c63913,#c63913,#c63913,#c63913,#c63913,#c63913,#c63913,#c63913)"></i>
<i style="background:linear-gradient(90deg,#5dfc6f,#5dfc6f,#5dfc6f,#5dfc6f,#5dfc6f,#61fc6c,#65fd69,#69fd66,#6dfe62,#75fe5c,#79fe59,#88ff4e,#9ffd3f,#b1f936,#bef434,#cbed34,#d4e735,#dde037,#e3db38,#ebd339,#f1cb3a,#f6c33a,#faba39,#fcb136,#fea732,#fe9e2f,#fe932a,#fd8a26,#fb7e21,#f9751d,#f56918,#f16015,#eb5914,#e55314,#df4d14,#de4b14,#dc4913,#dc4a14,#da4814,#da4814,#d84614,#d74714,#d74714,#d64514,#d54514,#d54515,#d34415,#d34415,#d14215,#d14215,#d14315,#cf4115,#cf4115,#cf4115,#cd3f15,#cd3f15,#cd3f15,#cd3f15,#cd3f15,#cd3f15,#cd3f15,#cd3f15,#cd3f15,#cd3f15,#cd3f15,#cd3f15,#cc3e15,#cc3e15,#cc3e15,#cc3e15,#ca3c14,#ca3c14,#ca3c14,#c83a14,#c83a14,#c83a14,#c83a14,#c83a14,#c83a14,#c83a14,#c83a14,#c83a14,#c83a14)"></i>
<i style="background:linear-gradient(90deg,#61fc6c,#61fc6c,#61fc6c,#61fc6c,#61fc6c,#65fd69,#69fd66,#6dfe62,#75fe5c,#79fe59,#80ff53,#8bff4b,#a4fc3c,#b4f836,#c1f334,#cdec34,#d7e535,#dde037,#e5d938,#ecd13a,#f2c93a,#f7c13a,#fbb838,#fdae35,#fea431,#fe992c,#fe9029,#fc8423,#fa7b1f,#f76f1a,#f46617,#ef5e15,#ea5714,#e45113,#df4d14,#dd4b14,#dc4914,#dc4a14,#da4814,#da4814,#d94814,#d84714,#d74714,#d64514,#d54514,#d54515,#d34414,#d34415,#d34415,#d14215,#d14315,#cf4115,#cf4115,#cf4115,#cf4115,#cd3f15,#cd3f15,#cd3f15,#cf4115,#cf4115,#cf4115,#cf4115,#cf4115,#cf4115,#cf4115,#cf4115,#cd3f15,#cd3f15,#cd3f15,#cd3f15,#cc3e15,#cc3e15,#cc3e15,#cc3e15,#cc3e15,#ca3c14,#ca3c14,#ca3c14,#ca3c14,#ca3c14,#ca3c14,#ca3c14,#ca3c14)"></i>
<i style="background:linear-gradient(90deg,#65fd69,#65fd69,#65fd69,#65fd69,#65fd69,#69fd66,#6dfe62,#71fe5f,#79fe59,#7dff56,#84ff51,#92ff47,#a7fc3a,#b7f735,#c3f134,#cdec34,#d7e535,#dde037,#e5d938,#ecd13a,#f2c93a,#f7c13a,#fbb637,#fdac34,#fea130,#fe962b,#fd8d27,#fb8122,#f9781e,#f66c19,#f36316,#ed5c14,#e85513,#e45114,#de4b13,#dd4b14,#dc4914,#dc4a14,#da4814,#da4814,#d94814,#d84614,#d74714,#d74715,#d64514,#d54515,#d54515,#d34415,#d34415,#d14215,#d14215,#cf4115,#cf4115,#cf4115,#cf4115,#cd3f15,#cd3f15,#cf4115,#cf4115,#cf4115,#cf4115,#d14315,#d14315,#cf4115,#cf4115,#cf4115,#cf4115,#cf4115,#cf4115,#cd3f15,#cd3f15,#cd3f15,#cd3f15,#cd3f15,#cc3e15,#cc3e15,#cc3e15,#cc3e15,#cc3e15,#cc3e15,#cc3e15,#cc3e15,#cc3e15)"></i>
<i style="background:linear-gradient(90deg,#69fd66,#69fd66,#69fd66,#69fd66,#6dfe62,#6dfe62,#75fe5c,#79fe59,#7dff56,#84ff51,#88ff4e,#96fe44,#a9fb39,#b9f635,#c6f034,#d0ea34,#d9e436,#dfdf37,#e7d739,#eecf3a,#f4c73a,#f8be39,#fcb336,#fea933,#fe9e2f,#fe932a,#fc8725,#fa7b1f,#f8721c,#f56918,#f05e15,#eb5914,#e75514,#e24f13,#de4b13,#dd4b14,#dc4914,#dc4a14,#db4a14,#da4814,#d94814,#d84614,#d84714,#d74714,#d64514,#d54514,#d54515,#d34415,#d34415,#d14215,#d14215,#d14315,#cf4115,#cf4115,#cf4115,#cf4115,#cf4115,#cf4115,#cf4115,#d14315,#d14215,#d14215,#d14215,#d14215,#d14215,#d14215,#d14215,#d14215,#d14315,#d14315,#cf4115,#cf4115,#cf4115,#cf4115,#cf4115,#cf4115,#cd3f15,#cd3f15,#cd3f15,#cf4115,#cf4115,#cf4115,#cf4115)"></i>
<i style="background:linear-gradient(90deg,#69fd66,#69fd66,#69fd66,#6dfe62,#6dfe62,#71fe5f,#79fe59,#7dff56,#80ff53,#88ff4e,#8fff49,#9cfe40,#acfb38,#bcf534,#c6f034,#d0ea34,#d9e436,#dfdf37,#e7d739,#eecf3a,#f4c73a,#f9bc39,#fcb136,#fea732,#fe9b2d,#fe9029,#fc8423,#f9781e,#f76f1a,#f36315,#ee5b14,#ea5714,#e65313,#e24f13,#de4b13,#dd4b14,#dc4a14,#dc4a14,#db4a14,#da4814,#d94814,#d94814,#d84614,#d74714,#d74715,#d54514,#d54515,#d34414,#d34415,#d34415,#d14215,#d14315,#cf4115,#cf4115,#cf4115,#cf4115,#cf4115,#cf4115,#d14315,#d14215,#d34415,#d34415,#d34415,#d34415,#d34415,#d34415,#d34415,#d34415,#d14215,#d14215,#d14215,#d14215,#d14215,#d14315,#d14315,#cf4115,#cf4115,#cf4115,#cf4115,#cf4115,#d14315,#d14315,#d14315)"></i>
<i style="background:linear-gradient(90deg,#71fe5f,#71fe5f,#71fe5f,#71fe5f,#75fe5c,#79fe59,#7dff56,#84ff51,#88ff4e,#8bff4b,#92ff47,#9ffd3f,#b1f936,#bef434,#c8ef34,#d2e935,#dbe236,#e1dd37,#e9d539,#efcd3a,#f5c53a,#f9bc39,#fdae35,#fea130,#fe962b,#fd8a26,#fb7e21,#f8721c,#f56918,#f16115,#eb5914,#e75514,#e45113,#e04d13,#de4b13,#dd4b14,#dc4a14,#dc4a14,#db4a14,#da4814,#da4814,#d94814,#d84614,#d74714,#d74714,#d64514,#d54514,#d54515,#d34415,#d34415,#d14215,#d14315,#cf4115,#cf4115,#cf4115,#cf4115,#cf4115,#cf4115,#d14215,#d34415,#d34415,#d54515,#d54515,#d54515,#d54515,#d54515,#d54515,#d54515,#d44414,#d34414,#d34415,#d34415,#d34415,#d34415,#d34415,#d34415,#d34415,#d34415,#d34415,#d34415,#d34415,#d34415,#d34415)"></i>
<i style="background:linear-gradient(90deg,#71fe5f,#71fe5f,#71fe5f,#75fe5c,#79fe59,#7dff56,#80ff53,#88ff4e,#8bff4b,#8fff49,#96fe44,#a4fc3c,#b4f836,#c1f334,#cbed34,#d4e735,#dbe236,#e1dd37,#e9d539,#efcd3a,#f5c53a,#faba39,#fdae35,#fea130,#fe932a,#fc8725,#fa7b1f,#f76f1a,#f46617,#ef5e15,#e95714,#e65314,#e35114,#e04d13,#de4b14,#dd4b14,#dc4a14,#dc4a14,#db4a14,#da4814,#da4814,#d94814,#d84614,#d84714,#d74714,#d64514,#d54514,#d54515,#d34415,#d34415,#d14215,#d14315,#cf4115,#cf4115,#cf4115,#cf4115,#cf4115,#cf4115,#d14215,#d34415,#d54515,#d64514,#d64514,#d64514,#d64514,#d64514,#d64514,#d64514,#d54514,#d54514,#d54514,#d54514,#d54514,#d54515,#d54515,#d54515,#d54515,#d54515,#d54515,#d54515,#d54515,#d54514,#d54514)"></i>
<i style="background:linear-gradient(90deg,#75fe5c,#75fe5c,#75fe5c,#79fe59,#7dff56,#80ff53,#88ff4e,#8bff4b,#92ff47,#96fe44,#9cfe40,#a7fc3a,#b7f735,#c3f134,#cdec34,#d4e735,#dbe236,#e3db38,#ebd339,#f1cb3a,#f6c33a,#fbb838,#fdac34,#fe9b2d,#fe9029,#fb8122,#f9751d,#f56918,#f16015,#eb5914,#e65313,#e35114,#e24f14,#e04d14,#de4b14,#dc4913,#dc4a14,#dc4a14,#db4a14,#da4814,#da4814,#d94814,#d94814,#d84614,#d74714,#d74714,#d64514,#d54515,#d34414,#d34415,#d14215,#d14215,#cf4115,#cf4115,#cf4115,#cf4115,#cf4115,#d14315,#d34415,#d44414,#d64514,#d84714,#d84614,#d84614,#d84614,#d84614,#d84614,#d84614,#d84614,#d84614,#d84614,#d84614,#d84614,#d84614,#d84614,#d84614,#d84714,#d84614,#d84614,#d84614,#d84614,#d84614,#d84614)"></i>
<i style="background:linear-gradient(90deg,#79fe59,#79fe59,#79fe59,#79fe59,#80ff53,#84ff51,#8bff4b,#8fff49,#96fe44,#99fe42,#9ffd3f,#acfb38,#b9f635,#c6f034,#cdec34,#d7e535,#dde037,#e3db38,#ebd339,#f1cb3a,#f6c33a,#fbb838,#fea933,#fe9b2d,#fd8d27,#fb7e21,#f8721c,#f46617,#ef5e15,#e95714,#e45113,#e24f13,#e04d13,#de4b13,#de4b14,#dc4913,#dc4a14,#dc4a14,#db4a14,#da4814,#da4814,#da4814,#d94814,#d84614,#d84714,#d74714,#d64514,#d54514,#d44414,#d34415,#d14215,#d14215,#cf4115,#cf4115,#cf4115,#cf4115,#cf4115,#d14215,#d34415,#d54515,#d74714,#d94814,#d94814,#d94814,#d94814,#da4814,#da4814,#da4814,#da4814,#da4814,#da4814,#da4814,#da4814,#da4814,#da4814,#da4814,#da4814,#da4814,#da4814,#da4814,#da4814,#da4814,#da4814)"></i>
<i style="background:linear-gradient(90deg,#7dff56,#7dff56,#7dff56,#80ff53,#84ff51,#8bff4b,#8fff49,#96fe44,#99fe42,#9ffd3f,#a4fc3c,#b1f936,#bef434,#c8ef34,#d2e935,#d9e436,#dfdf37,#e5d938,#ecd13a,#f2c93a,#f7c13a,#fbb637,#fea732,#fe962b,#fc8725,#fa7b1f,#f66c19,#f36316,#ec5914,#e65313,#e14f14,#e04d14,#de4b13,#de4b14,#dd4b14,#dc4913,#dc4a14,#dc4a14,#db4a14,#db4a14,#da4814,#da4814,#d94814,#d94814,#d84614,#d74714,#d74715,#d54514,#d54515,#d34415,#d34415,#d14215,#d14315,#cf4115,#cf4115,#cf4115,#cf4115,#d14215,#d34415,#d64514,#d84614,#da4814,#db4a14,#db4a14,#db4a14,#dc4a14,#dc4a14,#dc4a14,#dc4a14,#dc4a14,#dc4a14,#dc4a14,#dc4a14,#dc4a14,#dc4913,#dc4913,#dc4913,#dc4913,#dd4b14,#dd4b14,#dd4b14,#de4b14,#de4b14)"></i>
<i style="background:linear-gradient(90deg,#80ff53,#80ff53,#80ff53,#84ff51,#88ff4e,#8fff49,#96fe44,#99fe42,#9ffd3f,#a1fd3d,#a7fc3a,#b4f836,#c1f334,#cbed34,#d4e735,#dbe236,#e1dd37,#e7d739,#eecf3a,#f4c73a,#f8be39,#fcb336,#fea431,#fe932a,#fc8423,#f9781e,#f56918,#f16115,#eb5914,#e55314,#e04d13,#de4b13,#de4b14,#de4b14,#dd4b14,#dc4913,#dc4a14,#dc4a14,#db4a14,#db4a14,#da4814,#da4814,#d94814,#d94814,#d84614,#d74714,#d74714,#d54514,#d54515,#d34415,#d34415,#d14215,#d14315,#cf4115,#cf4115,#cf4115,#cf4115,#d14215,#d54515,#d74714,#d94814,#dc4a14,#dc4a14,#dc4a14,#dc4a14,#dc4913,#dc4913,#dc4913,#dd4b14,#dd4b14,#dd4b14,#dd4b14,#de4b14,#de4b14,#de4b14,#de4b14,#de4b14,#de4b13,#de4b13,#de4b13,#de4b13,#de4b13,#de4b13)"></i>
<i style="background:linear-gradient(90deg,#84ff51,#88ff4e,#88ff4e,#8bff4b,#8fff49,#96fe44,#9cfe40,#a1fd3d,#a4fc3c,#a9fb39,#affa37,#bcf534,#c8ef34,#d0ea34,#d9e436,#dfdf37,#e5d938,#ebd339,#f1cb3a,#f5c53a,#f9bc39,#fdae35,#fe9e2f,#fe9029,#fb8122,#f8721c,#f46617,#ef5e15,#e95714,#e45113,#df4d14,#de4b14,#de4b14,#dd4b14,#dc4913,#dc4a14,#dc4a14,#dc4a14,#db4a14,#da4814,#da4814,#da4814,#d94814,#d84614,#d84714,#d74714,#d74715,#d54514,#d54515,#d34415,#d34415,#d14215,#d14315,#cf4115,#cf4115,#cf4115,#d14315,#d34415,#d54514,#d84614,#da4814,#dc4913,#dd4b14,#dd4b14,#de4b14,#de4b14,#de4b14,#de4b14,#de4b14,#de4b13,#de4b13,#de4b13,#de4b13,#de4b13,#de4b13,#de4b13,#df4d14,#df4d14,#df4d14,#e04d14,#e04d14,#e04d14,#e04d14)"></i>
<i style="background:linear-gradient(90deg,#88ff4e,#8bff4b,#8bff4b,#8fff49,#96fe44,#9cfe40,#a1fd3d,#a7fc3a,#a9fb39,#affa37,#b4f836,#bef434,#cbed34,#d4e735,#dbe236,#e1dd37,#e7d739,#ecd13a,#f2c93a,#f7c13a,#fbb838,#fdac34,#fe9b2d,#fd8a26,#fb7e21,#f76f1a,#f36316,#ed5c14,#e85513,#e45114,#df4d14,#de4b14,#de4b14,#dd4b14,#dc4913,#dc4a14,#dc4a14,#db4a14,#db4a14,#da4814,#da4814,#d94814,#d94814,#d84614,#d84714,#d74714,#d64514,#d54514,#d54515,#d34415,#d34415,#d14215,#d14315,#cf4115,#cf4115,#cf4115,#d14315,#d34415,#d64514,#d94814,#db4a14,#de4b14,#de4b14,#de4b14,#de4b13,#de4b13,#de4b13,#de4b13,#de4b13,#de4b13,#de4b13,#df4d14,#df4d14,#df4d14,#e04d14,#e04d14,#e04d14,#e04d14,#e04d13,#e04d13,#e04d13,#e04d13,#e04d13)"></i>
<i style="background:linear-gradient(90deg,#8fff49,#8fff49,#92ff47,#96fe44,#9cfe40,#a1fd3d,#a9fb39,#affa37,#b1f936,#b7f735,#bcf534,#c6f034,#d2e935,#d9e436,#e1dd37,#e5d938,#ebd339,#efcd3a,#f5c53a,#f9bc39,#fcb336,#fea732,#fe962b,#fc8725,#f9781e,#f56918,#f16115,#eb5914,#e75514,#e24f13,#de4b13,#de4b14,#dd4b14,#dc4913,#dc4a14,#dc4a14,#db4a14,#db4a14,#da4814,#da4814,#da4814,#d94814,#d84614,#d84614,#d74714,#d74714,#d64514,#d54514,#d54515,#d34415,#d34415,#d14215,#d14315,#cf4115,#cf4115,#cf4115,#d14215,#d34414,#d74714,#da4814,#dc4914,#de4b13,#df4d14,#df4d14,#df4d14,#df4d14,#e04d14,#e04d14,#e04d14,#e04d14,#e04d13,#e04d13,#e04d13,#e04d13,#e04d13,#e04d13,#e04d13,#e04d13,#e04d13,#e04d13,#e04d13,#e04d13,#e04d13)"></i>
<i style="background:linear-gradient(90deg,#92ff47,#92ff47,#96fe44,#99fe42,#a1fd3d,#a7fc3a,#affa37,#b1f936,#b7f735,#bcf534,#c1f334,#cbed34,#d4e735,#dde037,#e3db38,#e9d539,#eecf3a,#f2c93a,#f6c33a,#faba39,#fcb136,#fea431,#fe932a,#fc8423,#f9751d,#f46617,#ef5e15,#ea5714,#e65313,#e24f13,#de4b13,#de4b14,#dd4b14,#dc4913,#dc4a14,#dc4a14,#db4a14,#db4a14,#da4814,#da4814,#d94814,#d94814,#d84614,#d84714,#d74714,#d74715,#d64514,#d54515,#d54515,#d34415,#d34415,#d14215,#d14315,#cf4115,#cf4115,#cf4115,#d14215,#d54515,#d84714,#da4814,#dd4b14,#df4d14,#e04d14,#e04d14,#e04d13,#e04d13,#e04d13,#e04d13,#e04d13,#e04d13,#e04d13,#e04d13,#e04d13,#e04d13,#e04d13,#e04d13,#e04d13,#e14f14,#e14f14,#e14f14,#e14f14,#e24f14,#e24f14)"></i>
<i style="background:linear-gradient(90deg,#96fe44,#99fe42,#9cfe40,#9ffd3f,#a7fc3a,#affa37,#b4f836,#b9f635,#bef434,#c3f134,#c8ef34,#d2e935,#dbe236,#e1dd37,#e7d739,#ecd13a,#f1cb3a,#f5c53a,#f8be39,#fbb637,#fdac34,#fe9e2f,#fd8d27,#fb7e21,#f76f1a,#f36316,#ec5914,#e85513,#e45013,#e14f14,#de4b13,#dd4b14,#dc4913,#dc4a14,#dc4a14,#db4a14,#db4a14,#da4814,#da4814,#da4814,#d94814,#d94814,#d84614,#d74714,#d74714,#d64514,#d54514,#d54515,#d44414,#d34415,#d34415,#d14215,#d14215,#cf4115,#cf4115,#cf4115,#d14215,#d54514,#d94814,#dc4a14,#de4b13,#e04d13,#e04d13,#e04d13,#e04d13,#e04d13,#e14f14,#e14f14,#e14f14,#e14f14,#e14f14,#e24f14,#e24f14,#e24f14,#e24f14,#e24f13,#e24f13,#e24f13,#e24f13,#e24f13,#e24f13,#e24f13,#e24f13)"></i>
<i style="background:linear-gradient(90deg,#99fe42,#9cfe40,#9ffd3f,#a4fc3c,#a9fb39,#b1f936,#b9f635,#bef434,#c3f134,#c8ef34,#cdec34,#d7e535,#dfdf37,#e5d938,#ebd339,#efcd3a,#f2c93a,#f6c33a,#faba39,#fcb136,#fea732,#fe992c,#fd8a26,#fa7b1f,#f66c19,#f16115,#eb5914,#e75514,#e45113,#e04d13,#de4b14,#dd4b14,#dc4913,#dc4a14,#dc4a14,#db4a14,#db4a14,#da4814,#da4814,#d94814,#d94814,#d84614,#d84714,#d74714,#d74714,#d64514,#d54514,#d54515,#d34414,#d34415,#d34415,#d14215,#d14215,#cf4115,#cf4115,#cf4115,#d14215,#d54514,#da4814,#dc4a14,#de4b13,#e04d13,#e24f14,#e24f14,#e24f14,#e24f14,#e24f14,#e24f13,#e24f13,#e24f13,#e24f13,#e24f13,#e24f13,#e24f13,#e24f13,#e24f13,#e24f13,#e24f13,#e24f13,#e24f13,#e24f13,#e24f13,#e24f13)"></i>
<i style="background:linear-gradient(90deg,#9ffd3f,#9ffd3f,#a1fd3d,#a9fb39,#b1f936,#b9f635,#c1f334,#c6f034,#cbed34,#d0ea34,#d4e735,#dbe236,#e3db38,#e9d539,#eecf3a,#f2c93a,#f6c33a,#f8be39,#fbb637,#fdac34,#fea130,#fe932a,#fc8423,#f9751d,#f46617,#ee5b14,#e85513,#e55314,#e24f13,#e04d13,#de4b14,#dc4913,#dc4914,#dc4a14,#dc4a14,#db4a14,#da4814,#da4814,#da4814,#d94814,#d84614,#d84614,#d74714,#d74714,#d74715,#d64514,#d54514,#d54515,#d34414,#d34415,#d34415,#d14215,#d14215,#d14315,#cf4115,#cf4115,#d34415,#d74715,#da4814,#de4b14,#e04d13,#e24f13,#e24f13,#e24f13,#e24f13,#e24f13,#e24f13,#e24f13,#e24f13,#e24f13,#e24f13,#e24f13,#e24f13,#e24f13,#e35114,#e35114,#e35114,#e35114,#e35114,#e35114,#e35114,#e45114,#e45114)"></i>
<i style="background:linear-gradient(90deg,#a1fd3d,#a1fd3d,#a7fc3a,#acfb38,#b4f836,#bcf534,#c6f034,#cbed34,#d0ea34,#d4e735,#d9e436,#dfdf37,#e7d739,#ecd13a,#f1cb3a,#f5c53a,#f7c13a,#faba39,#fcb336,#fea933,#fe9e2f,#fe9029,#fb8122,#f8721c,#f36315,#ec5914,#e65213,#e45113,#e24f13,#e04d14,#de4b14,#dc4913,#dc4a14,#dc4a14,#db4a14,#db4a14,#da4814,#da4814,#d94814,#d94814,#d84614,#d84714,#d74714,#d74714,#d64514,#d54514,#d54514,#d54515,#d34414,#d34415,#d34415,#d14215,#d14215,#d14315,#cf4115,#cf4115,#d34415,#d74714,#db4a14,#de4b13,#e04d13,#e24f13,#e35114,#e35114,#e35114,#e35114,#e35114,#e35114,#e35114,#e45114,#e45114,#e45114,#e45114,#e45114,#e45114,#e45114,#e45114,#e45114,#e45113,#e45113,#e45113,#e45113,#e45113)"></i>
<i style="background:linear-gradient(90deg,#a4fc3c,#a7fc3a,#a9fb39,#b1f936,#b9f635,#c3f134,#cbed34,#d2e935,#d7e535,#dbe236,#dfdf37,#e5d938,#ebd339,#efcd3a,#f4c73a,#f7c13a,#f9bc39,#fbb637,#fdae35,#fea431,#fe992c,#fd8a26,#fa7b1f,#f66c19,#f16115,#e95714,#e45113,#e24f13,#e04d13,#de4b13,#dd4b14,#dc4913,#dc4a14,#dc4a14,#db4a14,#da4814,#da4814,#da4814,#d94814,#d84614,#d84614,#d74714,#d74714,#d74715,#d64514,#d54514,#d54515,#d54515,#d34415,#d34415,#d34415,#d14215,#d14215,#d14315,#cf4115,#cf4115,#d34415,#d84614,#dc4a14,#df4d14,#e24f14,#e45114,#e45113,#e45113,#e45113,#e45113,#e45113,#e45113,#e45113,#e45113,#e45113,#e45113,#e45113,#e45113,#e45113,#e45113,#e45113,#e45113,#e45113,#e45113,#e45113,#e45113,#e45013)"></i>
<i style="background:linear-gradient(90deg,#a7fc3a,#a9fb39,#acfb38,#b4f836,#bef434,#c8ef34,#d0ea34,#d7e535,#dbe236,#dfdf37,#e3db38,#e9d539,#eecf3a,#f2c93a,#f6c33a,#f8be39,#fbb838,#fcb336,#fdac34,#fea130,#fe932a,#fc8725,#f9781e,#f56918,#ef5e15,#e75514,#e24f13,#e04d13,#e04d14,#de4b13,#dd4b14,#dc4a14,#dc4a14,#db4a14,#db4a14,#da4814,#da4814,#d94814,#d94814,#d84614,#d84714,#d74714,#d74714,#d64514,#d64514,#d54514,#d54515,#d54515,#d34415,#d34415,#d34415,#d14215,#d14215,#d14315,#cf4115,#cf4115,#d34415,#d84614,#dd4b14,#e04d13,#e24f13,#e45113,#e45013,#e45013,#e45013,#e45013,#e45013,#e45013,#e45013,#e45013,#e45013,#e45013,#e45013,#e45013,#e45013,#e45013,#e55314,#e55314,#e55314,#e55314,#e55314,#e55314,#e55314)"></i>
<i style="background:linear-gradient(90deg,#acfb38,#acfb38,#b1f936,#b9f635,#c3f134,#cdec34,#d7e535,#dbe236,#e1dd37,#e5d938,#e9d539,#ecd13a,#f1cb3a,#f5c53a,#f8be39,#faba39,#fcb336,#fdae35,#fea732,#fe9b2d,#fd8d27,#fb8122,#f8721c,#f36315,#ec5914,#e45113,#e04d13,#de4b13,#de4b13,#dd4b14,#dc4913,#dc4a14,#dc4a14,#db4a14,#da4814,#da4814,#da4814,#d94814,#d84614,#d84614,#d74714,#d74714,#d74715,#d64514,#d54514,#d54515,#d54515,#d44414,#d34415,#d34415,#d34415,#d34415,#d14215,#d14315,#cf4115,#d14315,#d44414,#d94814,#de4b14,#e04d13,#e35114,#e55314,#e65314,#e65314,#e65314,#e65314,#e65314,#e65314,#e65314,#e65314,#e65314,#e65314,#e65314,#e65314,#e65314,#e65314,#e65314,#e65314,#e65314,#e65314,#e65314,#e65314,#e65314)"></i>
<i style="background:linear-gradient(90deg,#affa37,#affa37,#b4f836,#bcf534,#c6f034,#d0ea34,#d9e436,#dfdf37,#e3db38,#e7d739,#ebd339,#efcd3a,#f2c93a,#f6c33a,#f9bc39,#fbb838,#fcb136,#fdac34,#fea431,#fe992c,#fd8a26,#fb7e21,#f76f1a,#f36316,#ea5713,#e35114,#df4d14,#de4b13,#de4b14,#dd4b14,#dc4913,#dc4a14,#dc4a14,#db4a14,#da4814,#da4814,#da4814,#d94814,#d84614,#d84614,#d74714,#d74714,#d74715,#d64514,#d54514,#d54515,#d54515,#d44414,#d34415,#d34415,#d34415,#d34415,#d14215,#d14215,#d14315,#d14315,#d54515,#da4814,#de4b13,#e24f14,#e45113,#e65313,#e65313,#e65313,#e65313,#e65313,#e65313,#e65313,#e65313,#e65313,#e65313,#e65313,#e65313,#e65313,#e65313,#e65313,#e65313,#e65313,#e65313,#e65313,#e65313,#e65313,#e65313)"></i>
<i style="background:linear-gradient(90deg,#b4f836,#b4f836,#b9f635,#c1f334,#cbed34,#d4e735,#dbe236,#e1dd37,#e5d938,#e9d539,#eecf3a,#f1cb3a,#f4c73a,#f7c13a,#faba39,#fbb637,#fdae35,#fea933,#fea130,#fe962b,#fd8a26,#fa7b1f,#f66c19,#f16115,#ea5714,#e24f13,#de4b13,#de4b14,#de4b14,#dd4b14,#dc4914,#dc4a14,#dc4a14,#db4a14,#da4814,#da4814,#d94814,#d94814,#d84614,#d84614,#d74714,#d74714,#d74715,#d64514,#d54514,#d54514,#d54515,#d54515,#d34414,#d34415,#d34415,#d34415,#d34415,#d14215,#d14215,#d14215,#d64514,#db4a14,#e04d14,#e24f13,#e45013,#e65213,#e75514,#e75514,#e75514,#e75514,#e75514,#e75514,#e75514,#e75514,#e75514,#e75514,#e75514,#e75514,#e75514,#e75514,#e75514,#e75514,#e75514,#e75514,#e75514,#e75514,#e75514)"></i>
<i style="background:linear-gradient(90deg,#b9f635,#b9f635,#bef434,#c3f134,#cdec34,#d7e535,#dde037,#e3db38,#e7d739,#ebd339,#eecf3a,#f2c93a,#f5c53a,#f8be39,#faba39,#fcb336,#fdae35,#fea732,#fea130,#fe932a,#fc8725,#f9781e,#f66c19,#f16115,#e95714,#e24f13,#de4b13,#de4b14,#de4b14,#dd4b14,#dc4914,#dc4a14,#dc4a14,#db4a14,#da4814,#da4814,#d94814,#d94814,#d84614,#d84614,#d74714,#d74714,#d74715,#d64514,#d54514,#d54514,#d54515,#d54515,#d44414,#d34414,#d34415,#d34415,#d34415,#d14215,#d14215,#d34415,#d74714,#dc4a14,#e04d13,#e24f13,#e55314,#e75514,#e85514,#e85514,#e85514,#e85514,#e85514,#e85514,#e85514,#e85514,#e85514,#e85514,#e85514,#e85514,#e85514,#e85514,#e85514,#e85514,#e85514,#e85514,#e85514,#e85514,#e85514)"></i>
<i style="background:linear-gradient(90deg,#bef434,#bef434,#c1f334,#c8ef34,#d0ea34,#d9e436,#dfdf37,#e5d938,#e9d539,#ecd13a,#f1cb3a,#f4c73a,#f6c33a,#f9bc39,#fbb838,#fcb136,#fdac34,#fea732,#fe9e2f,#fe932a,#fc8423,#f9781e,#f56918,#ef5e15,#e85513,#e24f13,#de4b13,#de4b14,#dd4b14,#dd4b14,#dc4914,#dc4a14,#dc4a14,#db4a14,#da4814,#da4814,#d94814,#d94814,#d84614,#d84614,#d74714,#d74714,#d74715,#d64514,#d64514,#d54514,#d54514,#d54515,#d54515,#d44414,#d34414,#d34415,#d34415,#d34415,#d34415,#d54515,#d94814,#dd4b14,#e14f14,#e45113,#e65313,#e85514,#e85514,#e85513,#e85513,#e85513,#e85513,#e85513,#e85513,#e85513,#e85513,#e85513,#e85513,#e85513,#e85513,#e85513,#e85513,#e85513,#e85513,#e85513,#e85513,#e85513,#e85513)"></i>
<i style="background:linear-gradient(90deg,#c1f334,#c1f334,#c6f034,#cbed34,#d2e935,#dbe236,#e1dd37,#e7d739,#ebd339,#eecf3a,#f1cb3a,#f4c73a,#f7c13a,#f9bc39,#fbb637,#fcb136,#fea933,#fea431,#fe9b2d,#fe9029,#fc8423,#f9751d,#f56918,#ef5e15,#e85514,#e24f14,#de4b13,#de4b14,#dd4b14,#dc4913,#dc4914,#dc4a14,#db4a14,#db4a14,#da4814,#da4814,#d94814,#d94814,#d84614,#d84614,#d74714,#d74714,#d74715,#d64514,#d64514,#d54514,#d54514,#d54515,#d54515,#d54515,#d44414,#d34414,#d34415,#d34415,#d34415,#d54514,#da4814,#de4b13,#e24f13,#e45113,#e65313,#e85513,#e85513,#e85513,#e85513,#e85513,#e85513,#e85513,#e85513,#e85513,#e85513,#e85513,#e85513,#e85513,#e85513,#e85513,#e85513,#e85513,#e85513,#e85513,#e85513,#e85513,#e85513)"></i>
<i style="background:linear-gradient(90deg,#c6f034,#c8ef34,#cbed34,#d0ea34,#d7e535,#dde037,#e3db38,#e9d539,#ecd13a,#efcd3a,#f2c93a,#f6c33a,#f8be39,#faba39,#fbb637,#fdae35,#fea933,#fea130,#fe9b2d,#fd8d27,#fb8122,#f9751d,#f46617,#ee5b14,#e65213,#e04d13,#de4b13,#de4b14,#dd4b14,#dc4913,#dc4a14,#dc4a14,#db4a14,#db4a14,#da4814,#da4814,#d94814,#d94814,#d84614,#d84614,#d74714,#d74714,#d74714,#d64514,#d64514,#d64514,#d54514,#d54514,#d54515,#d54515,#d54515,#d54515,#d34414,#d34415,#d54515,#d74714,#db4a14,#e04d14,#e24f13,#e55314,#e75514,#e95714,#e95714,#e95714,#e95714,#e95714,#e95714,#e95714,#e95714,#e95714,#e95714,#e95714,#e95714,#e95714,#e95714,#e95714,#e95714,#e95714,#e95714,#e95714,#e95714,#e95714,#e95714)"></i>
<i style="background:linear-gradient(90deg,#cbed34,#cbed34,#cdec34,#d2e935,#d9e436,#dfdf37,#e5d938,#ebd339,#eecf3a,#f1cb3a,#f4c73a,#f6c33a,#f9bc39,#fbb838,#fcb336,#fdae35,#fea732,#fea130,#fe992c,#fd8d27,#fb8122,#f8721c,#f46617,#ed5c14,#e65313,#e04d13,#de4b13,#de4b14,#dd4b14,#dc4913,#dc4a14,#dc4a14,#db4a14,#db4a14,#da4814,#da4814,#d94814,#d94814,#d84614,#d84614,#d74714,#d74714,#d74714,#d74715,#d64514,#d64514,#d54514,#d54514,#d54514,#d54515,#d54515,#d54515,#d54515,#d54515,#d54514,#d84714,#dc4a14,#e04d13,#e45114,#e65314,#e85514,#e95714,#ea5714,#ea5714,#ea5714,#ea5714,#ea5714,#ea5714,#ea5714,#ea5714,#ea5714,#ea5714,#ea5714,#ea5714,#ea5714,#ea5714,#ea5714,#ea5714,#ea5714,#ea5714,#ea5714,#ea5714,#ea5714)"></i>
<i style="background:linear-gradient(90deg,#d0ea34,#d0ea34,#d2e935,#d7e535,#dbe236,#e3db38,#e7d739,#ecd13a,#efcd3a,#f2c93a,#f5c53a,#f7c13a,#faba39,#fbb637,#fcb136,#fdac34,#fea732,#fe9e2f,#fe962b,#fd8a26,#fb7e21,#f76f1a,#f36315,#ec5914,#e65314,#e04d13,#de4b13,#de4b14,#dd4b14,#dc4913,#dc4a14,#dc4a14,#db4a14,#db4a14,#da4814,#da4814,#d94814,#d94814,#d84614,#d84614,#d74714,#d74714,#d74714,#d74715,#d64514,#d64514,#d64514,#d64514,#d54514,#d54514,#d54514,#d54515,#d54515,#d54515,#d74714,#d94814,#de4b14,#e24f14,#e45113,#e65313,#e85513,#ea5714,#ea5714,#ea5714,#ea5714,#ea5714,#ea5714,#ea5714,#ea5714,#ea5714,#ea5714,#ea5714,#ea5714,#ea5714,#ea5714,#ea5714,#ea5714,#ea5714,#ea5714,#ea5714,#ea5714,#ea5714,#ea5714)"></i>
<i style="background:linear-gradient(90deg,#d4e735,#d4e735,#d4e735,#d9e436,#dde037,#e3db38,#e9d539,#eecf3a,#f1cb3a,#f4c73a,#f6c33a,#f8be39,#faba39,#fbb637,#fcb136,#fea933,#fea431,#fe9e2f,#fe962b,#fd8a26,#fa7b1f,#f76f1a,#f36316,#ec5914,#e45013,#e04d13,#de4b13,#de4b14,#dd4b14,#dc4913,#dc4a14,#dc4a14,#db4a14,#db4a14,#da4814,#da4814,#d94814,#d94814,#d84614,#d84614,#d74714,#d74714,#d74714,#d74715,#d74715,#d64514,#d64514,#d64514,#d64514,#d54514,#d54514,#d54514,#d54514,#d54514,#d74714,#da4814,#de4b13,#e24f13,#e55314,#e75514,#e95714,#ea5713,#eb5914,#eb5914,#eb5914,#eb5914,#eb5914,#eb5914,#eb5914,#eb5914,#eb5914,#eb5914,#eb5914,#eb5914,#eb5914,#eb5914,#eb5914,#eb5914,#eb5914,#eb5914,#eb5914,#eb5914,#eb5914)"></i>
<i style="background:linear-gradient(90deg,#d9e436,#d9e436,#d9e436,#dbe236,#e1dd37,#e7d739,#ebd339,#efcd3a,#f2c93a,#f5c53a,#f7c13a,#f9bc39,#fbb838,#fcb336,#fdae35,#fea933,#fea130,#fe9b2d,#fe932a,#fc8725,#fa7b1f,#f66c19,#f16015,#eb5914,#e45113,#e04d14,#de4b13,#de4b14,#dd4b14,#dc4913,#dc4a14,#dc4a14,#db4a14,#db4a14,#da4814,#da4814,#d94814,#d94814,#d84614,#d84714,#d74714,#d74714,#d74714,#d74714,#d74715,#d74715,#d74715,#d64514,#d64514,#d64514,#d64514,#d64514,#d54514,#d64514,#d94814,#dc4a14,#e04d14,#e45114,#e65313,#e85514,#ea5714,#eb5914,#ec5914,#ec5914,#ec5914,#ec5914,#ec5914,#ec5914,#ec5914,#ec5914,#ec5914,#ec5914,#ec5914,#ec5914,#ec5914,#ec5914,#ec5914,#ec5914,#ec5914,#ec5914,#ec5914,#ec5914,#ec5914)"></i>
<i style="background:linear-gradient(90deg,#dbe236,#dbe236,#dde037,#dfdf37,#e3db38,#e9d539,#ecd13a,#f1cb3a,#f4c73a,#f6c33a,#f8be39,#faba39,#fbb637,#fcb136,#fdac34,#fea732,#fea130,#fe992c,#fe932a,#fc8725,#f9781e,#f66c19,#f16115,#ea5714,#e45114,#df4d14,#de4b13,#de4b14,#dd4b14,#dc4913,#dc4a14,#dc4a14,#db4a14,#db4a14,#da4814,#da4814,#d94814,#d94814,#d84614,#d84714,#d74714,#d74714,#d74714,#d74714,#d74714,#d74714,#d74715,#d74715,#d74715,#d64514,#d64514,#d64514,#d64514,#d74715,#d94814,#dc4913,#e04d13,#e45113,#e65213,#e85513,#ea5714,#ec5914,#ec5914,#ec5914,#ec5914,#ec5914,#ec5914,#ec5914,#ec5914,#ec5914,#ec5914,#ec5914,#ec5914,#ec5914,#ec5914,#ec5914,#ec5914,#ec5914,#ec5914,#ec5914,#ec5914,#ec5914,#ec5914)"></i>
<i style="background:linear-gradient(90deg,#dfdf37,#dfdf37,#dfdf37,#e1dd37,#e5d938,#ebd339,#eecf3a,#f2c93a,#f5c53a,#f7c13a,#f9bc39,#fbb838,#fcb336,#fdae35,#fea933,#fea431,#fe9e2f,#fe992c,#fe9029,#fc8423,#f9751d,#f56918,#f05e15,#e95714,#e24f13,#de4b13,#de4b13,#de4b14,#dd4b14,#dc4913,#dc4a14,#dc4a14,#db4a14,#db4a14,#da4814,#da4814,#d94814,#d94814,#d84614,#d84614,#d74714,#d74714,#d74714,#d74714,#d74714,#d74714,#d74714,#d74714,#d74714,#d74714,#d74714,#d74714,#d74714,#d74714,#da4814,#de4b13,#e24f13,#e55314,#e85514,#e95714,#eb5914,#ec5914,#ed5c15,#ed5c15,#ed5c15,#ed5c15,#ed5c15,#ed5c15,#ed5c15,#ed5c15,#ed5c15,#ed5c15,#ed5c15,#ed5c15,#ed5c15,#ed5c15,#ed5c15,#ed5c15,#ed5c15,#ed5c15,#ed5c15,#ed5c15,#ed5c15)"></i>
<i style="background:linear-gradient(90deg,#e1dd37,#e1dd37,#e1dd37,#e3db38,#e7d739,#ecd13a,#efcd3a,#f4c73a,#f6c33a,#f8be39,#faba39,#fbb637,#fcb336,#fdae35,#fea933,#fea431,#fe9e2f,#fe962b,#fd8d27,#fb8122,#f9751d,#f56918,#ef5e15,#e95714,#e24f13,#df4d14,#de4b13,#de4b14,#dd4b14,#dc4913,#dc4a14,#dc4a14,#dc4a14,#db4a14,#da4814,#da4814,#da4814,#d94814,#d94814,#d84614,#d84714,#d74714,#d74714,#d74714,#d74714,#d74714,#d74714,#d74714,#d74714,#d74714,#d74714,#d74714,#d74714,#d84614,#db4a14,#df4d14,#e24f13,#e65313,#e85514,#ea5714,#eb5914,#ed5c15,#ed5c15,#ed5c15,#ed5c15,#ed5c15,#ed5c15,#ed5c15,#ed5c15,#ed5c15,#ed5c15,#ed5c15,#ed5c15,#ed5c15,#ed5c15,#ed5c15,#ed5c15,#ed5c15,#ed5c15,#ed5c15,#ed5c15,#ed5c15,#ed5c15)"></i>
<i style="background:linear-gradient(90deg,#e3db38,#e3db38,#e3db38,#e5d938,#e9d539,#eecf3a,#f1cb3a,#f4c73a,#f7c13a,#f9bc39,#fbb838,#fbb637,#fcb136,#fdac34,#fea732,#fea130,#fe9b2d,#fe932a,#fd8d27,#fb8122,#f9751d,#f56918,#ef5e15,#ea5714,#e45114,#e04d14,#de4b13,#de4b14,#dd4b14,#dd4b14,#dc4913,#dc4a14,#dc4a14,#db4a14,#db4a14,#da4814,#da4814,#da4814,#d94814,#d94814,#d94814,#d84614,#d84614,#d84614,#d84614,#d84614,#d84614,#d84614,#d84614,#d84614,#d84614,#d84614,#d84614,#d94814,#dc4913,#e04d13,#e45113,#e75514,#e85513,#ea5714,#ec5914,#ed5c14,#ed5c14,#ed5c14,#ed5c14,#ed5c14,#ed5c14,#ed5c14,#ed5c14,#ed5c14,#ed5c14,#ed5c14,#ed5c14,#ed5c15,#ed5c15,#ed5c15,#ed5c15,#ed5c15,#ed5c15,#ed5c15,#ed5c15,#ed5c15,#ed5c15)"></i>
<i style="background:linear-gradient(90deg,#e5d938,#e5d938,#e5d938,#e7d739,#ebd339,#eecf3a,#f2c93a,#f5c53a,#f7c13a,#f9bc39,#fbb838,#fcb336,#fdae35,#fea933,#fea431,#fe9e2f,#fe992c,#fe932a,#fd8a26,#fb8122,#f9751d,#f56918,#f05e15,#ea5714,#e45113,#e04d13,#df4d14,#de4b14,#de4b14,#dd4b14,#dc4913,#dc4914,#dc4a14,#dc4a14,#db4a14,#db4a14,#da4814,#da4814,#da4814,#da4814,#d94814,#d94814,#d94814,#d94814,#d94814,#d94814,#d94814,#d94814,#d94814,#d94814,#d94814,#d94814,#d94814,#da4814,#de4b14,#e24f14,#e45013,#e85514,#e95714,#eb5914,#ec5914,#ed5c14,#ed5c14,#ed5c14,#ed5c14,#ed5c14,#ed5c14,#ed5c14,#ed5c14,#ed5c14,#ed5c14,#ed5c14,#ed5c14,#ed5c14,#ed5c14,#ed5c14,#ed5c15,#ed5c15,#ed5c15,#ed5c15,#ed5c15,#ed5c15,#ed5c15)"></i>
<i style="background:linear-gradient(90deg,#e7d739,#e7d739,#e7d739,#e9d539,#ecd13a,#efcd3a,#f4c73a,#f6c33a,#f8be39,#faba39,#fbb637,#fcb136,#fdac34,#fea732,#fea431,#fe9e2f,#fe962b,#fe9029,#fd8a26,#fb8122,#f9751d,#f56918,#f05e14,#ea5714,#e45013,#e14f14,#e04d14,#de4b13,#de4b14,#de4b14,#dd4b14,#dc4913,#dc4913,#dc4a14,#dc4a14,#dc4a14,#db4a14,#db4a14,#da4814,#da4814,#da4814,#da4814,#da4814,#da4814,#da4814,#da4814,#da4814,#da4814,#da4814,#da4814,#da4814,#da4814,#da4814,#dc4a14,#df4d14,#e24f13,#e65313,#e85513,#ea5714,#eb5914,#ed5c15,#ee5b14,#ee5b14,#ee5b14,#ee5b14,#ee5b14,#ee5b14,#ed5b14,#ed5c14,#ed5c14,#ed5c14,#ed5c14,#ed5c14,#ed5c14,#ed5c14,#ed5c14,#ed5c14,#ed5c14,#ed5c15,#ed5c15,#ed5c15,#ed5c15,#ed5c15)"></i>
<i style="background:linear-gradient(90deg,#e7d739,#e7d739,#e9d539,#ebd339,#eecf3a,#f1cb3a,#f4c73a,#f7c13a,#f9bc39,#fbb838,#fcb336,#fcb136,#fdac34,#fea732,#fea130,#fe9b2d,#fe962b,#fe9029,#fd8a26,#fb7e21,#f9751d,#f56918,#f05e14,#ea5714,#e55314,#e24f13,#e04d13,#de4b13,#de4b14,#de4b14,#dd4b14,#dd4b14,#dc4913,#dc4913,#dc4a14,#dc4a14,#dc4a14,#dc4a14,#db4a14,#db4a14,#da4814,#da4814,#da4814,#da4814,#da4814,#da4814,#da4814,#da4814,#da4814,#da4814,#da4814,#da4814,#da4814,#dc4914,#e04d13,#e45114,#e75514,#e95714,#ea5713,#ec5914,#ed5c15,#ee5b14,#ee5b14,#ee5b14,#ee5b14,#ee5b14,#ee5b14,#ee5b14,#ee5b14,#ee5b14,#ed5c14,#ed5c14,#ed5c14,#ed5c14,#ed5c14,#ed5c14,#ed5c14,#ed5c14,#ed5c15,#ed5c15,#ed5c15,#ed5c15,#ed5c15)"></i>
<i style="background:linear-gradient(90deg,#e9d539,#e9d539,#ebd339,#ecd13a,#efcd3a,#f2c93a,#f5c53a,#f7c13a,#f9bc39,#fbb838,#fcb336,#fdae35,#fea933,#fea431,#fe9e2f,#fe992c,#fe932a,#fd8d27,#fc8725,#fb7e21,#f9751d,#f56918,#f16115,#eb5914,#e65313,#e24f13,#e04d13,#de4b13,#de4b14,#de4b14,#de4b14,#de4b14,#dd4b14,#dd4b14,#dc4913,#dc4913,#dc4914,#dc4a14,#dc4a14,#dc4a14,#dc4a14,#db4a14,#db4a14,#db4a14,#db4a14,#db4a14,#db4a14,#db4a14,#db4a14,#db4a14,#db4a14,#db4a14,#dc4a14,#de4b14,#e14f14,#e45013,#e85513,#ea5714,#eb5914,#ec5914,#ed5c14,#ee5b14,#ee5b14,#ee5b14,#ee5b14,#ee5b14,#ee5b14,#ee5b14,#ee5b14,#ee5b14,#ee5b14,#ee5b14,#ed5b14,#ed5c14,#ed5c14,#ed5c14,#ed5c14,#ed5c14,#ed5c14,#ed5c15,#ed5c15,#ed5c15,#ed5c15)"></i>
<i style="background:linear-gradient(90deg,#ebd339,#ebd339,#ecd13a,#eecf3a,#f1cb3a,#f4c73a,#f6c33a,#f8be39,#faba39,#fbb637,#fcb136,#fdac34,#fea732,#fea130,#fe9b2d,#fe992c,#fe932a,#fd8d27,#fc8725,#fb7e21,#f9751d,#f56918,#f16115,#eb5914,#e65213,#e35114,#e04d13,#de4b13,#de4b13,#de4b14,#de4b14,#de4b14,#de4b14,#dd4b14,#dd4b14,#dd4b14,#dc4913,#dc4913,#dc4913,#dc4a14,#dc4a14,#dc4a14,#dc4a14,#dc4a14,#dc4a14,#dc4a14,#dc4a14,#dc4a14,#dc4a14,#dc4a14,#dc4a14,#dc4a14,#dc4a14,#de4b13,#e24f13,#e65314,#e95714,#eb5914,#ec5914,#ed5c15,#ee5b14,#ef5e15,#ef5e15,#ef5e15,#ee5b14,#ee5b14,#ee5b14,#ee5b14,#ee5b14,#ee5b14,#ee5b14,#ee5b14,#ee5b14,#ee5b14,#ed5c14,#ed5c14,#ed5c14,#ed5c14,#ed5c14,#ed5c15,#ed5c15,#ed5c15,#ed5c15)"></i>
<i style="background:linear-gradient(90deg,#ecd13a,#ecd13a,#eecf3a,#efcd3a,#f2c93a,#f5c53a,#f7c13a,#f9bc39,#fbb838,#fcb336,#fdae35,#fea933,#fea431,#fe9e2f,#fe9b2d,#fe962b,#fe9029,#fd8a26,#fc8423,#fb7e21,#f8721c,#f56918,#f16115,#ec5914,#e85514,#e45113,#e14f14,#de4b13,#de4b13,#de4b13,#de4b13,#de4b14,#de4b14,#de4b14,#de4b14,#de4b14,#de4b14,#dd4b14,#dd4b14,#dd4b14,#dd4b14,#dd4b14,#dd4b14,#dd4b14,#dd4b14,#dd4b14,#dd4b14,#dd4b14,#dd4b14,#dd4b14,#dd4b14,#dd4b14,#dd4b14,#e04d13,#e45114,#e75514,#ea5714,#ec5914,#ec5914,#ed5c14,#ee5b14,#ef5e15,#ef5e15,#ef5e15,#ef5e15,#ef5e15,#ef5e15,#ee5b14,#ee5b14,#ee5b14,#ee5b14,#ee5b14,#ee5b14,#ee5b14,#ee5b14,#ed5c14,#ed5c14,#ed5c14,#ed5c14,#ed5c14,#ed5c15,#ed5c15,#ed5c15)"></i>
<i style="background:linear-gradient(90deg,#ecd13a,#ecd13a,#eecf3a,#f1cb3a,#f2c93a,#f5c53a,#f7c13a,#f9bc39,#fbb838,#fcb336,#fdae35,#fea933,#fea431,#fe9e2f,#fe992c,#fe932a,#fd8d27,#fc8725,#fc8423,#fa7b1f,#f8721c,#f56918,#f16115,#ec5914,#e85514,#e45113,#e24f14,#df4d14,#de4b13,#de4b13,#de4b13,#de4b13,#de4b13,#de4b13,#de4b14,#de4b14,#de4b14,#de4b14,#de4b14,#de4b14,#de4b14,#de4b14,#de4b14,#de4b14,#de4b14,#de4b14,#de4b14,#de4b14,#de4b14,#de4b14,#de4b14,#de4b14,#de4b14,#e04d13,#e45113,#e85514,#eb5914,#ec5914,#ed5c15,#ee5b14,#ef5e15,#ef5e15,#ef5e15,#ef5e15,#ef5e15,#ef5e15,#ef5e15,#ef5e15,#ee5b14,#ee5b14,#ee5b14,#ee5b14,#ee5b14,#ee5b14,#ee5b14,#ed5b14,#ed5c14,#ed5c14,#ed5c14,#ed5c14,#ed5c15,#ed5c15,#ed5c15)"></i>
<i style="background:linear-gradient(90deg,#eecf3a,#eecf3a,#efcd3a,#f2c93a,#f4c73a,#f6c33a,#f8be39,#faba39,#fbb637,#fcb136,#fdac34,#fea732,#fea130,#fe9b2d,#fe962b,#fe9029,#fd8d27,#fc8725,#fb8122,#fa7b1f,#f8721c,#f56918,#f16015,#ec5914,#e85513,#e55314,#e24f13,#df4d14,#de4b13,#de4b13,#de4b13,#de4b13,#de4b13,#de4b13,#de4b13,#de4b13,#de4b13,#de4b13,#de4b13,#de4b13,#de4b13,#de4b13,#de4b13,#de4b13,#de4b13,#de4b13,#de4b13,#de4b13,#de4b13,#de4b13,#de4b13,#de4b13,#de4b13,#e24f13,#e65314,#e95714,#ec5914,#ed5c15,#ee5b14,#ee5b14,#ef5e15,#ef5e15,#ef5e15,#ef5e15,#ef5e15,#ef5e15,#ef5e15,#ef5e15,#ef5e15,#ef5e15,#ee5b14,#ee5b14,#ee5b14,#ee5b14,#ee5b14,#ee5b14,#ed5c14,#ed5c14,#ed5c14,#ed5c14,#ed5c15,#ed5c15,#ed5c15)"></i>
<i style="background:linear-gradient(90deg,#eecf3a,#efcd3a,#f1cb3a,#f2c93a,#f5c53a,#f7c13a,#f9bc39,#fbb838,#fcb336,#fdae35,#fdac34,#fea732,#fea130,#fe9b2d,#fe962b,#fe9029,#fd8a26,#fc8725,#fb8122,#fa7b1f,#f8721c,#f56918,#f16015,#ec5914,#e95714,#e65314,#e24f13,#df4d14,#de4b13,#de4b13,#de4b13,#de4b13,#de4b13,#de4b13,#de4b13,#de4b13,#de4b13,#de4b13,#de4b13,#de4b13,#de4b13,#de4b13,#de4b13,#de4b13,#de4b13,#de4b13,#de4b13,#de4b13,#de4b13,#de4b13,#de4b13,#de4b13,#df4d14,#e24f13,#e65313,#e95714,#ec5914,#ed5c14,#ee5b14,#ef5e15,#ef5e15,#ef5e15,#ef5e15,#ef5e15,#ef5e15,#ef5e15,#ef5e15,#ef5e15,#ef5e15,#ef5e15,#ee5b14,#ee5b14,#ee5b14,#ee5b14,#ee5b14,#ee5b14,#ed5c14,#ed5c14,#ed5c14,#ed5c14,#ed5c15,#ed5c15,#ed5c15)"></i>
<i style="background:linear-gradient(90deg,#eecf3a,#efcd3a,#f1cb3a,#f2c93a,#f5c53a,#f7c13a,#f9bc39,#fbb838,#fcb336,#fdae35,#fea933,#fea732,#fea130,#fe9b2d,#fe962b,#fe9029,#fd8a26,#fc8725,#fb8122,#fa7b1f,#f8721c,#f56918,#f16015,#ec5914,#e95714,#e65314,#e24f13,#df4d14,#de4b13,#de4b13,#de4b13,#de4b13,#de4b13,#de4b13,#de4b13,#de4b13,#de4b13,#de4b13,#de4b13,#de4b13,#de4b13,#de4b13,#de4b13,#de4b13,#de4b13,#de4b13,#de4b13,#de4b13,#de4b13,#de4b13,#de4b13,#de4b13,#df4d14,#e24f13,#e65313,#ea5714,#ec5914,#ed5c14,#ee5b14,#ef5e15,#ef5e15,#ef5e15,#ef5e15,#ef5e15,#ef5e15,#ef5e15,#ef5e15,#ef5e15,#ef5e15,#ef5e15,#ef5e15,#ee5b14,#ee5b14,#ee5b14,#ee5b14,#ee5b14,#ed5b14,#ed5c14,#ed5c14,#ed5c14,#ed5c15,#ed5c15,#ed5c15)"></i>
</div></div>
<svg width="1100" height="1050" viewBox="0 0 1100 1050">
<defs>
<filter id="bl" x="-10%" y="-10%" width="120%" height="120%"><feGaussianBlur stdDeviation="1.6"/></filter>
<linearGradient id="cb" x1="0" y1="1" x2="0" y2="0"><stop offset="0.0000" stop-color="#30123b"/><stop offset="0.0286" stop-color="#38276d"/><stop offset="0.0571" stop-color="#3f3b97"/><stop offset="0.0857" stop-color="#434eba"/><stop offset="0.1143" stop-color="#4664da"/><stop offset="0.1429" stop-color="#4776ee"/><stop offset="0.1714" stop-color="#4687fb"/><stop offset="0.2000" stop-color="#3e9bfe"/><stop offset="0.2286" stop-color="#33adf7"/><stop offset="0.2571" stop-color="#27bee9"/><stop offset="0.2857" stop-color="#1bd0d5"/><stop offset="0.3143" stop-color="#18ddc2"/><stop offset="0.3429" stop-color="#1de7b2"/><stop offset="0.3714" stop-color="#2ff19b"/><stop offset="0.4000" stop-color="#46f884"/><stop offset="0.4286" stop-color="#61fc6c"/><stop offset="0.4571" stop-color="#80ff53"/><stop offset="0.4857" stop-color="#99fe42"/><stop offset="0.5143" stop-color="#acfb38"/><stop offset="0.5429" stop-color="#bef434"/><stop offset="0.5714" stop-color="#d2e935"/><stop offset="0.6000" stop-color="#e1dd37"/><stop offset="0.6286" stop-color="#eecf3a"/><stop offset="0.6571" stop-color="#f8be39"/><stop offset="0.6857" stop-color="#fdae35"/><stop offset="0.7143" stop-color="#fe9b2d"/><stop offset="0.7429" stop-color="#fc8423"/><stop offset="0.7714" stop-color="#f76f1a"/><stop offset="0.8000" stop-color="#ed5c15"/><stop offset="0.8286" stop-color="#de4b13"/><stop offset="0.8571" stop-color="#cf4115"/><stop offset="0.8857" stop-color="#c33613"/><stop offset="0.9143" stop-color="#b22a11"/><stop offset="0.9429" stop-color="#a22110"/><stop offset="0.9714" stop-color="#8f1911"/><stop offset="1.0000" stop-color="#7b1312"/></linearGradient>
<clipPath id="mc"><rect x="100" y="150" width="800" height="800"/></clipPath>
</defs>
<g clip-path="url(#mc)">
<g class="grey" filter="url(#bl)"><polygon points="160,150 160,312 170,315 185,313 200,309 220,300 240,292 260,283 280,273 300,264 320,259 340,255 360,253 380,253 405,252 410,150"/><polygon points="405,200 418,200 419,222 428,229 426,236 414,233 405,225"/><polygon points="405,230 412,236 420,248 432,258 440,266 446,283 436,284 428,272 418,263 405,256"/><polygon points="455,240 462,262 470,275 480,278 500,280 500,296 490,297 475,294 466,291 458,282 450,262"/><polygon points="499,150 499,276 515,272 531,275 531,290 563,290 575,286 590,286 604,287 614,303 640,304 655,303 660,282 674,268 687,254 701,246 714,241 731,246 744,249 747,282 753,301 769,306 796,304 815,304 822,306 822,150"/><polygon points="112,280 113,270 121,258 130,252 140,249 150,248 160,256 170,258 172,272 180,276 165,281 160,287 155,280 151,272 147,272 143,282 136,280 128,274 119,278"/><polygon points="154,330 161,330 162,337 155,337"/><polygon points="224,362 235,357 255,356 275,357 290,352 294,365 289,376 285,390 280,400 275,395 266,386 255,380 240,372 225,368"/><polygon points="95,505.5 124.4,505.5 138.1,499.4 150.3,487.2 157.9,473.5 168.6,464.4 184.6,454.5 187.6,452.2 191.4,488.8 197.5,497.9 206.7,490.3 209.7,478.1 206.7,462.9 206.7,449.1 221.9,447.6 237.1,453.7 235.6,470.5 237.1,482.7 231,490.3 241.7,496.4 252.4,504 253.9,519.2 244.8,526.9 234.1,531.4 234.1,543.6 246.3,555.8 246.3,565 226.5,566.5 206.7,560.4 199,569.5 194,590 194,610 205,618 217.6,617 222,598 230,590 237.6,592 238,620 240,640 235,662 225,680 200,702 175,706 163,710 160,730 168,745 150,748 140,752 145,770 130,778 118,772 110,745 95,742"/><polygon points="160,748 172,745 178,760 172,775 163,770"/><polygon points="411,538 414,536 418,555 420,580 422,600 424,640 422,648 419,640 417,610 414,580 412,555"/><polygon points="370,665 377,665 378,673 371,674"/><polygon points="388,674 394,674 394,682 388,682"/><polygon points="399,668 410,668 410,682 399,682"/><polygon points="343,704 354,704 354,713 343,713"/><polygon points="394,723 404,723 404,736 394,736"/><polygon points="419,625 426,625 426,648 419,648"/><polygon points="415,660 420,660 420,690 415,690"/><polygon points="557,300 568,300 572,312 571,325 566,331 560,326 558,312"/><polygon points="836,240 844,242 843,262 836,275 830,270"/><polygon points="843,163 850,165 851,182 844,183"/><polygon points="800,289 815,290 818,308 810,312 800,305"/></g>
<g class="land"><path d="M429,655L426.5,680L420.5,697L412.5,718L404,738L396,756L384,786L373,802L362,817L349,831L338,843L330,853" fill="none" stroke="#000" stroke-width="5" stroke-linejoin="round" stroke-linecap="round"/><polygon points="842,150 844.8,161.4 845.7,171 841,188 840,207 841,226 839,241.4 837,256.7 831.4,268 825.7,279.5 822.9,291 821.9,302.4 819,300 816.2,291 812.4,283.3 806.7,287 795.2,291 789.5,294.8 787.6,283.3 789.5,271.9 793.3,260.5 797,258.6 791.4,258.6 780,259.5 772.4,254.8 762.9,249 757.1,247 747.6,243.3 738,239.5 730.5,239.5 724.8,243.3 723.8,252.9 719,249 717,239.5 709.5,228 700,226 694.3,226.7 686.7,234.3 679,238.1 671.4,240 667.6,243.8 671.4,249.5 675.2,257.1 682.9,262.9 679,264.8 673.3,272.4 667.6,276.2 663.8,266.7 652.4,264.8 644.8,259 642.9,262.9 646.7,272.4 644.8,280 639,287.6 629.5,294.3 615.2,293.3 612,300 609,296 610,270 606.7,283.8 602.9,280 595.2,276.2 583.8,275.2 578,268 576.2,276.2 570.5,270.5 565.7,262.9 566.7,255.2 562.9,257 551.4,251.4 545.7,254.3 538,259 528.6,261.9 519,261 509.5,266.7 500,275.2 484.8,275.2 475.2,272.4 467.6,264.8 463.8,257.1 456.2,245.7 444.8,238.1 433.3,230.5 421.9,222.9 414.3,217 414.3,205.7 401,207.6 390,210 380,206 368.6,207.6 372.4,211.4 382,216 399,218 406.7,221 410.5,228.6 408.6,238.1 385.7,236.2 357.1,237.1 322.9,241 300,248.6 290.5,253.8 271.4,263.3 252.4,271.9 229.5,283.3 206.7,291.9 183.8,302.4 166.7,308.1 160,306.2 159,294.8 161,283.3 164.8,279.5 172.4,275.7 183.8,274.8 170.5,273.8 164.8,266.2 168.6,260.5 162.9,261.4 157.1,258.6 151.4,256.7 149.5,250 138.1,251 128.6,253.8 121,260.5 113.3,271.9 112.4,279.5 100,280.5 95,280.5 95,145 842,145"/><polygon points="95,281.5 112,281 119,278.6 128.6,274.8 136.2,281.4 141,287 143.8,294.8 141.9,302.4 138.1,310 128.6,317.6 119,323.3 109.5,332.9 100,340.5 95,341"/><polygon points="241,364 255,365 270,364 280,362 287,357 291,351 294,351 292,360 288,372 282,382 278,388 276,386 279,375 276,372 268,373 258,371 248,368 241,366"/><polygon points="335.2,380 343.8,378 357.1,376.2 366.7,374.3 373.3,373.7 372.4,376.2 362.9,380 351.4,382.9 341.9,384.4 336.2,382.9"/><polygon points="383,369 388,364 393,360 398,356 403,353.5 404,355 399,360 393,366 386,370.5"/><polygon points="456,350 470,347.5 485,348 500,351 519,358 538,363.8 557,367.6 583.8,367.2 583,370 576,374 557,372.4 538,368.6 519,363.8 500,359 485,356 470,357 458,357"/><polygon points="616,381.6 626.2,383.5 636.4,386.1 649,384.8 659.3,382.3 669.5,379.7 672.6,380.4 670.7,384.2 661.8,386.7 649,389.9 638.9,393.1 631.3,390.5 623.6,387.4 616,384.8"/><polygon points="716.2,363 722,361.5 738,360 757,355.2 776.2,351.4 795.2,348.6 814.3,345.7 825.7,340 833.3,338 843,341 852.4,345.7 856.2,351.4 848.6,354.3 833.3,353.3 814.3,350.5 795.2,351.4 776.2,354.3 757,359 738,364.8 719,367.6"/><polygon points="824,320 828,321 836,330 846,339 853,346 850,348 842,343 832,335 825,327"/><polygon points="883,365 890,363 901,362.5 901,372.4 890,373 884,371"/><polygon points="842,376 846,380 852,385 860,387.5 863,389 861,390.5 851,388.5 844,383 841,378"/><polygon points="869,386 872,385.5 871,389 868,389"/><polygon points="562.9,281 568,278 574.3,277 578.1,283.8 583,292 587.6,301 584,302 576.2,294 566.7,291.4 562.9,286"/><polygon points="588.6,304 592.4,304 592,307 589,307"/><polygon points="605,371 607,370.5 606.5,374 604.5,374"/><polygon points="749,255 752,253 754,262 755,275 753,290 750,289 749,275"/><polygon points="272,262 276,259 280,262 278,268 275,273 272,270"/><polygon points="562,310 566,309 569,313 567,317 563,316"/><polygon points="393.3,239 400,242 410,248 420,254 430,260 432.4,263.8 428,264 418,259 406,251 395,243"/><polygon points="435,240 445,241 456,244 458,245.7 452,246 442,244 436,242.5"/><polygon points="397.1,505.7 404.3,510 412.9,521.4 420,535.7 425,550 428.6,564.3 431.4,578.6 432.9,592.9 433.6,607 433.6,621.4 433,650 431.5,662 429,668 427,662 425.7,650 425.7,628.6 425.7,614.3 424.3,600 420,582.9 418.6,564.3 417,550 414.3,537 408.6,524.3 401.4,514.3 396,507"/><polygon points="369,662 375,655 382,648 388,641 393,634 396.4,630 400,631 402,636 401,645 400,651 396,652 396,642 391,643 384,649 377,656 371,664"/><polygon points="391,658 393,657 396,663 400,660 404,657 407,660 408.6,672 405,673 404,664 400,667 397,668 393,665"/><polygon points="416,656 420,653 426,654 425,657 419,660"/><polygon points="336.4,718 337,708 339,698 341,692 344,694 344,700 346,704 343,708 340,716 338,720"/><polygon points="341,685 343,685 343,688 341,688"/><polygon points="368,667 370,666 370,669 368,669"/><polygon points="270,935 276,928 283,918 290,908 298,900 303,897 301,902 294,912 287,922 280,931 273,937"/><polygon points="200,470 204,462 209,455 214,448 216,440 220,433 224,424 225,419 222,418 218,426 213,434 209,441 204,449 199,458 197,466"/><polygon points="124.4,507 135,501 145.7,496.4 148.8,490.3 153.3,485.7 154.9,476.6 161,470.5 168.6,465.9 179.2,459.8 184.6,455.2 184.6,501 182.3,504 176.2,507 179.2,510 176.2,513.1 171.6,519.2 170.1,525.3 171.6,531.4 167,528.4 165.5,522.3 167,513.1 161,510 157.9,516.2 153.3,519.2 148.8,514.7 142.7,516.2 138.1,519.2 133.5,513.1 127.4,508.6"/><polygon points="187.6,452.2 186.9,470.5 191.4,485.7 197.5,501 206.7,497.9 215.8,496.4 229.5,499.4 229.5,504 218.9,507 212.8,516.2 209.7,525.3 206.7,534.5 212.8,546.7 206.7,549.7 199,543.6 194.5,531.4 191.4,519.2 189.9,508.6 187.6,501 186.9,485.7"/><polygon points="197,452 203,445 208,437 213,430 217,424 221,419 225,420 224,426 218,433 213,441 208,448 203,455 199,457"/><polygon points="100,505.5 110,506 116.8,510 114,518 116,525 108,525.3 100,523"/><polygon points="109,536 118,538 126,544 122,548 112,546"/><polygon points="115,556 122,555 127,562 136,565 138,572 132,580 126,592 119,590 117,575 115,565"/><polygon points="153,600 158,590 164,580 170,570 176,560 183,554 185,560 182,570 178,582 172,592 166,600"/><polygon points="134,578 142,575 150,580 148,590 140,592 134,586"/><polygon points="187,575 194,568 200,565 204,570 198,580 193,592 188,600"/><polygon points="220,478 226,476 231,480 228,486 222,486"/><polygon points="95,590 110.9,590 114.5,608.1 110.9,626.2 121.7,644.3 136.2,640.7 147.1,644.3 159.7,644.3 176,640.7 185.1,644.3 183.3,658.8 172.4,669.6 159.7,666 152.5,673.3 145.2,666 136.2,669.6 139.8,684.1 150.7,693.2 147.1,698.6 136.2,691.4 127.1,684.1 118.1,680.5 110.9,687.7 95,691.4"/><polygon points="95,698.6 118.1,691.4 132.6,698.6 125.3,705.8 136.2,716.7 147.1,720.3 154.3,709.5 165.2,704 172.4,713.1 165.2,723.9 168.8,734.8 172.4,743.8 154.3,745.7 143.4,734.8 129,723.9 118.1,727.6 107.2,720.3 95,720.3"/><polygon points="136.2,619 147.1,608.1 157.9,597.2 165.2,590 176,590 179.6,600.9 172.4,608.1 161.5,615.3 154.3,626.2 145.2,633.4 137.9,629.8"/><polygon points="186.9,590 197.7,590 194.1,600.9 192.3,608.1 186.9,606.3"/><polygon points="198,634 204,631.6 215.8,633 213,638.9 203,638"/><polygon points="172.4,689 180,686 190.5,688 188,695 176,695"/><polygon points="176,751 179,752 179.6,767 177,766"/><polygon points="112.7,753 122,751 129,756 125,762 115,760"/><polygon points="125,600 132,598 135,606 128,612 124,607"/><path d="M429,655L426.5,680L420.5,697L412.5,718L404,738L396,756L384,786L373,802L362,817L349,831L338,843L330,853" fill="none" stroke="#0f6924" stroke-width="3" stroke-linejoin="round" stroke-linecap="round"/><g fill="#8e8e8e"><polygon points="135.9,507.7 133.7,509.4 130.8,508.7 130.1,506.3 132.3,504.6 135.2,505.3"/><polygon points="149.8,490.9 146.9,492.9 143.1,492 142.2,489.1 145.1,487.1 148.9,488"/><polygon points="159.9,493.9 157.7,495.9 154.8,495 154.1,492.1 156.3,490.1 159.2,491"/><polygon points="168.9,468.7 166.7,470.4 163.8,469.7 163.1,467.3 165.3,465.6 168.2,466.3"/><polygon points="178.4,466.7 176.6,468.4 174.2,467.7 173.6,465.3 175.4,463.6 177.8,464.3"/><polygon points="170.4,507.9 168.6,509.9 166.2,509 165.6,506.1 167.4,504.1 169.8,505"/><polygon points="163.9,521.7 162.4,523.4 160.5,522.7 160.1,520.3 161.6,518.6 163.5,519.3"/><polygon points="200.4,479.2 198.6,481.9 196.2,480.7 195.6,476.8 197.4,474.1 199.8,475.3"/><polygon points="206.4,512.9 204.6,514.9 202.2,514 201.6,511.1 203.4,509.1 205.8,510"/><polygon points="218.9,502.6 216.7,504 213.8,503.4 213.1,501.4 215.3,500 218.2,500.6"/><polygon points="202.4,536.9 200.6,538.9 198.2,538 197.6,535.1 199.4,533.1 201.8,534"/><polygon points="193.9,470.9 192.4,472.9 190.5,472 190.1,469.1 191.6,467.1 193.5,468"/><polygon points="127.4,618.9 125.6,620.9 123.2,620 122.6,617.1 124.4,615.1 126.8,616"/><polygon points="120.9,700.7 118.7,702.4 115.8,701.7 115.1,699.3 117.3,697.6 120.2,698.3"/><polygon points="162.9,700.6 160.7,702 157.8,701.4 157.1,699.4 159.3,698 162.2,698.6"/><polygon points="147.9,738.7 145.7,740.4 142.8,739.7 142.1,737.3 144.3,735.6 147.2,736.3"/><polygon points="106.9,661.2 105.4,663.9 103.5,662.7 103.1,658.8 104.6,656.1 106.5,657.3"/><polygon points="167.4,660.6 165.6,662 163.2,661.4 162.6,659.4 164.4,658 166.8,658.6"/><polygon points="125,650 135,648 140,655 132,660 124,657"/><polygon points="150,652 160,650 165,656 158,661 150,659"/><polygon points="170,648 178,650 176,657 170,656"/><polygon points="140,664 146,662 148,668 142,670"/><polygon points="110,700 120,698 123,706 114,709"/><polygon points="130,712 138,710 142,716 134,719"/><polygon points="150,725 158,722 162,730 154,733"/><polygon points="160,480 170,476 174,484 165,488"/><polygon points="140,500 150,497 153,505 144,507"/><polygon points="172,495 180,493 182,500 175,502"/><polygon points="193,500 199,498 201,506 195,510"/><polygon points="200,520 206,518 207,526 201,528"/><polygon points="115,655 121,652 122,662 116,664"/><polygon points="155,470 162,468 163,474 157,476"/><polygon points="128,675 134,673 135,680 129,681"/></g></g>
<g id="arr"><path d="M843.6,230.0L844.1,236.1"/><polygon points="845.1,248.1 838.9,233.6 848.8,232.7"/><path d="M900.8,230.0L897.3,262.1"/><polygon points="896.0,274.0 892.7,258.5 902.6,259.6"/><path d="M157.2,310.0L172.0,307.5"/><polygon points="183.8,305.5 169.8,312.9 168.2,303.1"/><path d="M214.4,310.0L235.9,305.1"/><polygon points="247.6,302.4 234.1,310.6 231.9,300.9"/><path d="M271.6,310.0L294.0,308.7"/><polygon points="306.0,308.0 291.3,313.9 290.7,303.9"/><path d="M328.8,310.0L338.9,322.9"/><polygon points="346.3,332.4 333.1,323.7 341.0,317.5"/><path d="M386.0,310.0L392.3,321.3"/><polygon points="398.1,331.8 386.4,321.1 395.2,316.3"/><path d="M443.2,310.0L442.3,320.4"/><polygon points="441.3,332.4 437.6,317.0 447.5,317.9"/><polygon points="485.9,313.7 499.2,305.2 501.6,314.8"/><polygon points="542.6,310.0 557.6,305.0 557.6,315.0"/><path d="M614.8,310.0L606.3,310.2"/><polygon points="594.3,310.5 609.2,305.1 609.4,315.1"/><path d="M672.0,310.0L660.9,318.4"/><polygon points="651.4,325.7 660.3,312.6 666.4,320.6"/><path d="M729.2,310.0L713.9,311.3"/><polygon points="701.9,312.3 716.4,306.1 717.3,316.0"/><path d="M786.4,310.0L773.9,310.0"/><polygon points="761.9,310.0 776.9,305.0 776.9,315.0"/><path d="M843.6,310.0L826.8,326.1"/><polygon points="818.1,334.4 825.5,320.4 832.4,327.6"/><path d="M900.8,310.0Q893.0,335.0 880.2,353.4"/><polygon points="873.3,363.2 877.8,348.0 886.0,353.8"/><path d="M100.0,390.0L112.0,379.6"/><polygon points="121.0,371.7 113.0,385.3 106.4,377.8"/><path d="M157.2,390.0L176.6,381.7"/><polygon points="187.6,377.0 175.8,387.5 171.8,378.3"/><path d="M214.4,390.0Q235.0,393.0 254.8,406.7"/><polygon points="264.6,413.6 249.4,409.1 255.1,400.9"/><path d="M271.6,390.0L283.2,394.9"/><polygon points="294.3,399.5 278.5,398.3 282.4,389.1"/><path d="M328.8,390.0Q335.0,406.0 354.9,415.3"/><polygon points="365.8,420.4 350.1,418.6 354.3,409.5"/><path d="M386.0,390.0L395.6,389.2"/><polygon points="407.6,388.2 393.1,394.4 392.2,384.5"/><path d="M443.2,390.0L454.7,405.2"/><polygon points="461.9,414.8 448.9,405.8 456.9,399.8"/><polygon points="486.0,394.1 499.0,385.2 501.8,394.8"/><path d="M557.6,390.0L548.2,390.0"/><polygon points="536.2,390.0 551.2,385.0 551.2,395.0"/><path d="M614.8,390.0Q604.0,388.0 596.5,399.5"/><polygon points="590.0,409.6 594.0,394.3 602.4,399.7"/><path d="M672.0,390.0Q670.0,400.0 661.7,399.3"/><polygon points="649.7,398.2 665.1,394.5 664.2,404.5"/><path d="M729.2,390.0L710.0,402.8"/><polygon points="700.0,409.5 709.7,397.0 715.3,405.3"/><path d="M786.4,390.0L774.7,377.1"/><polygon points="766.7,368.2 780.5,376.0 773.0,382.7"/><path d="M843.6,390.0Q832.0,395.0 818.6,392.9"/><polygon points="806.7,391.0 822.3,388.4 820.7,398.3"/><polygon points="894.7,403.7 896.2,388.0 905.4,392.0"/><path d="M100.0,470.0L111.4,466.5"/><polygon points="122.9,463.0 110.0,472.2 107.1,462.6"/><path d="M157.2,470.0L163.6,465.7"/><polygon points="173.6,459.1 163.9,471.6 158.3,463.2"/><polygon points="226.2,479.3 211.3,473.9 217.5,466.1"/><path d="M271.6,470.0L288.0,470.5"/><polygon points="300.0,470.8 284.9,475.4 285.1,465.4"/><path d="M328.8,470.0L356.7,472.7"/><polygon points="368.6,473.8 353.2,477.4 354.1,467.4"/><path d="M386.0,470.0Q415.0,466.0 427.3,468.6"/><polygon points="439.0,471.0 423.3,472.8 425.3,463.0"/><path d="M443.2,470.0Q466.0,483.0 475.2,498.3"/><polygon points="481.4,508.6 469.4,498.3 478.0,493.2"/><path d="M500.4,470.0L509.1,478.7"/><polygon points="517.6,487.2 503.5,480.1 510.5,473.1"/><polygon points="572.9,467.6 558.9,474.9 557.3,465.0"/><polygon points="628.1,461.9 617.9,474.0 612.7,465.4"/><path d="M672.0,470.0L677.3,465.8"/><polygon points="686.7,458.4 678.0,471.6 671.8,463.8"/><path d="M729.2,470.0L734.8,456.0"/><polygon points="739.2,444.8 738.3,460.6 729.0,456.9"/><path d="M786.4,470.0L786.6,456.0"/><polygon points="786.7,444.0 791.5,459.1 781.5,458.9"/><polygon points="839.4,454.7 848.2,467.8 838.5,470.5"/><path d="M271.6,550.0L277.1,548.4"/><polygon points="288.6,545.0 275.6,554.0 272.8,544.4"/><path d="M328.8,550.0L340.0,536.3"/><polygon points="347.6,527.0 342.0,541.8 334.2,535.4"/><path d="M386.0,550.0L385.9,528.5"/><polygon points="385.9,516.5 390.9,531.5 380.9,531.5"/><path d="M443.2,550.0L443.4,567.3"/><polygon points="443.6,579.3 438.4,564.4 448.4,564.2"/><path d="M500.4,550.0L509.1,563.3"/><polygon points="515.7,573.3 503.3,563.5 511.6,558.0"/><path d="M557.6,550.0L564.9,548.7"/><polygon points="576.7,546.7 562.8,554.2 561.1,544.3"/><path d="M614.8,550.0L622.8,540.5"/><polygon points="630.6,531.4 624.7,546.1 617.1,539.6"/><path d="M672.0,550.0L679.8,536.8"/><polygon points="685.9,526.5 682.6,542.0 674.0,536.9"/><path d="M729.2,550.0L733.1,533.7"/><polygon points="735.9,522.0 737.3,537.8 727.5,535.4"/><path d="M786.4,550.0L784.7,529.3"/><polygon points="783.7,517.3 789.9,531.8 780.0,532.7"/><path d="M843.6,550.0L837.4,525.2"/><polygon points="834.5,513.6 843.0,526.9 833.3,529.4"/><path d="M900.8,550.0Q895.0,530.0 890.8,521.8"/><polygon points="885.3,511.1 896.6,522.2 887.7,526.7"/><path d="M271.6,630.0L278.6,629.3"/><polygon points="290.5,628.2 276.0,634.6 275.1,624.6"/><path d="M328.8,630.0L332.3,625.9"/><polygon points="340.0,616.7 334.2,631.4 326.5,625.0"/><polygon points="393.6,616.4 390.6,631.9 381.9,627.1"/><polygon points="441.5,644.9 438.2,629.4 448.2,630.6"/><path d="M500.4,630.0L504.4,634.4"/><polygon points="512.4,643.3 498.6,635.5 506.1,628.8"/><path d="M557.6,630.0L561.7,628.9"/><polygon points="573.3,625.8 560.1,634.5 557.5,624.8"/><path d="M614.8,630.0L618.4,626.3"/><polygon points="626.7,617.6 619.9,631.9 612.7,625.0"/><polygon points="676.8,615.8 676.7,631.6 667.3,628.4"/><path d="M729.2,630.0L728.5,622.6"/><polygon points="727.3,610.7 733.7,625.1 723.8,626.1"/><path d="M786.4,630.0L776.4,616.0"/><polygon points="769.4,606.2 782.2,615.5 774.0,621.3"/><path d="M843.6,630.0L828.5,616.3"/><polygon points="819.6,608.2 834.1,614.6 827.3,622.0"/><path d="M900.8,630.0L880.6,617.5"/><polygon points="870.4,611.2 885.8,614.8 880.5,623.3"/><polygon points="226.0,719.6 211.2,713.9 217.6,706.1"/><path d="M271.6,710.0L274.4,713.2"/><polygon points="282.3,722.3 268.7,714.3 276.2,707.7"/><path d="M328.8,710.0L330.9,715.7"/><polygon points="335.0,727.0 325.2,714.6 334.6,711.2"/><polygon points="382.7,725.2 381.0,709.5 390.8,711.6"/><path d="M443.2,710.0L439.8,715.1"/><polygon points="433.3,725.2 437.3,709.9 445.7,715.4"/><polygon points="501.2,725.0 495.4,710.3 505.4,709.7"/><polygon points="565.9,722.5 553.4,712.8 561.8,707.2"/><polygon points="616.7,724.9 609.8,710.6 619.8,709.4"/><polygon points="668.6,724.6 667.1,708.9 676.9,711.1"/><polygon points="714.4,707.6 730.0,705.1 728.4,714.9"/><path d="M786.4,710.0L779.1,703.8"/><polygon points="770.0,696.0 784.7,701.9 778.2,709.5"/><path d="M843.6,710.0L831.5,700.6"/><polygon points="822.0,693.3 836.9,698.5 830.8,706.4"/><path d="M900.8,710.0L886.1,698.2"/><polygon points="876.7,690.7 891.5,696.2 885.3,704.0"/><path d="M100.0,790.0L106.9,800.9"/><polygon points="113.3,811.0 101.1,801.0 109.5,795.7"/><path d="M157.2,790.0L160.7,792.2"/><polygon points="170.9,798.6 155.5,794.9 160.9,786.4"/><path d="M214.4,790.0L218.0,796.5"/><polygon points="223.8,807.0 212.2,796.3 220.9,791.5"/><path d="M271.6,790.0L275.6,803.3"/><polygon points="279.0,814.8 269.9,801.9 279.5,799.0"/><path d="M328.8,790.0L330.5,801.0"/><polygon points="332.4,812.9 325.1,798.9 335.0,797.3"/><path d="M386.0,790.0L385.6,797.0"/><polygon points="385.0,809.0 380.8,793.8 390.8,794.3"/><path d="M443.2,790.0L441.4,794.0"/><polygon points="436.6,805.0 438.1,789.3 447.2,793.3"/><path d="M500.4,790.0L496.9,797.3"/><polygon points="491.7,808.1 493.7,792.4 502.7,796.7"/><path d="M557.6,790.0L554.7,798.4"/><polygon points="550.8,809.7 551.0,793.9 560.4,797.2"/><path d="M614.8,790.0L610.8,799.8"/><polygon points="606.3,810.9 607.3,795.1 616.6,798.9"/><path d="M672.0,790.0L668.6,793.4"/><polygon points="660.2,802.0 667.2,787.8 674.3,794.8"/><polygon points="719.0,779.0 732.9,786.6 725.5,793.4"/><polygon points="779.4,776.8 790.8,787.7 782.0,792.3"/><path d="M843.6,790.0L841.7,784.8"/><polygon points="837.5,773.6 847.4,785.9 838.0,789.4"/><polygon points="891.0,778.0 904.4,786.5 896.6,792.8"/><path d="M100.0,870.0L107.7,872.8"/><polygon points="119.0,876.8 103.2,876.5 106.6,867.0"/><path d="M157.2,870.0L169.7,880.6"/><polygon points="178.9,888.3 164.2,882.5 170.7,874.8"/><path d="M214.4,870.0L228.1,884.2"/><polygon points="236.4,892.9 222.4,885.5 229.6,878.6"/><path d="M271.6,870.0L281.6,891.5"/><polygon points="286.7,902.4 275.8,890.9 284.9,886.7"/><path d="M328.8,870.0L332.0,886.8"/><polygon points="334.3,898.6 326.6,884.8 336.4,882.9"/><path d="M386.0,870.0L385.8,882.8"/><polygon points="385.7,894.8 380.9,879.7 390.9,879.9"/><path d="M443.2,870.0L438.9,879.2"/><polygon points="433.8,890.1 435.6,874.4 444.7,878.6"/><path d="M500.4,870.0L491.4,882.6"/><polygon points="484.4,892.4 489.0,877.3 497.2,883.1"/><path d="M557.6,870.0L547.4,878.7"/><polygon points="538.3,886.5 546.5,873.0 553.0,880.6"/><path d="M614.8,870.0L610.1,877.5"/><polygon points="603.7,887.7 607.4,872.3 615.9,877.6"/><polygon points="676.3,855.6 676.8,871.4 667.2,868.6"/><path d="M729.2,870.0L729.9,863.9"/><polygon points="731.3,852.0 734.5,867.5 724.6,866.3"/><polygon points="785.9,855.0 791.4,869.8 781.4,870.2"/><polygon points="835.4,857.4 847.8,867.3 839.4,872.7"/><polygon points="886.0,867.6 901.6,865.1 900.0,874.9"/><polygon points="671.2,935.0 677.0,949.7 667.0,950.3"/><polygon points="727.7,935.1 734.2,949.5 724.2,950.5"/><path d="M786.4,950.0L786.3,944.0"/><polygon points="786.0,932.0 791.3,946.9 781.3,947.1"/><path d="M843.6,950.0L843.8,942.7"/><polygon points="844.1,930.7 848.7,945.8 838.7,945.6"/></g>
<g class="grid"><line x1="185.7" y1="150" x2="185.7" y2="950"/><line x1="328.6" y1="150" x2="328.6" y2="950"/><line x1="471.4" y1="150" x2="471.4" y2="950"/><line x1="614.3" y1="150" x2="614.3" y2="950"/><line x1="757.1" y1="150" x2="757.1" y2="950"/><line x1="100" y1="350" x2="900" y2="350"/><line x1="100" y1="550" x2="900" y2="550"/><line x1="100" y1="750" x2="900" y2="750"/></g>
<g fill="#fff" stroke="#000" stroke-width="1.6"><circle cx="283" cy="340.5" r="6.2"/><circle cx="445" cy="489" r="6.2"/><circle cx="567" cy="488" r="6.2"/></g><g fill="#fff200" stroke="#000" stroke-width="1.6"><polygon points="142,282.2 148.8,289 142,295.8 135.2,289"/><polygon points="578,248.4 584.8,255.2 578,262.0 571.2,255.2"/><polygon points="660,256.1 666.8,262.9 660,269.7 653.2,262.9"/><polygon points="819.6,296.5 826.4,303.3 819.6,310.1 812.8,303.3"/><polygon points="611.4,373.2 618.2,380 611.4,386.8 604.6,380"/><polygon points="778.1,336.5 784.9,343.3 778.1,350.1 771.3,343.3"/><polygon points="856.5,343.2 863.3,350 856.5,356.8 849.7,350"/></g>
</g>
<rect x="100.3" y="150" width="799.9" height="799.5" fill="none" stroke="#000" stroke-width="2.6"/><path d="M100.0,148.7v-3M100.0,950.8v3M114.3,148.7v-3M114.3,950.8v3M128.6,148.7v-3M128.6,950.8v3M142.9,148.7v-3M142.9,950.8v3M157.1,148.7v-3M157.1,950.8v3M171.4,148.7v-3M171.4,950.8v3M185.7,148.7v-7M185.7,950.8v7M200.0,148.7v-3M200.0,950.8v3M214.3,148.7v-3M214.3,950.8v3M228.6,148.7v-3M228.6,950.8v3M242.9,148.7v-3M242.9,950.8v3M257.1,148.7v-3M257.1,950.8v3M271.4,148.7v-3M271.4,950.8v3M285.7,148.7v-3M285.7,950.8v3M300.0,148.7v-3M300.0,950.8v3M314.3,148.7v-3M314.3,950.8v3M328.6,148.7v-7M328.6,950.8v7M342.9,148.7v-3M342.9,950.8v3M357.1,148.7v-3M357.1,950.8v3M371.4,148.7v-3M371.4,950.8v3M385.7,148.7v-3M385.7,950.8v3M400.0,148.7v-3M400.0,950.8v3M414.3,148.7v-3M414.3,950.8v3M428.6,148.7v-3M428.6,950.8v3M442.9,148.7v-3M442.9,950.8v3M457.1,148.7v-3M457.1,950.8v3M471.4,148.7v-7M471.4,950.8v7M485.7,148.7v-3M485.7,950.8v3M500.0,148.7v-3M500.0,950.8v3M514.3,148.7v-3M514.3,950.8v3M528.6,148.7v-3M528.6,950.8v3M542.9,148.7v-3M542.9,950.8v3M557.1,148.7v-3M557.1,950.8v3M571.4,148.7v-3M571.4,950.8v3M585.7,148.7v-3M585.7,950.8v3M600.0,148.7v-3M600.0,950.8v3M614.3,148.7v-7M614.3,950.8v7M628.6,148.7v-3M628.6,950.8v3M642.9,148.7v-3M642.9,950.8v3M657.1,148.7v-3M657.1,950.8v3M671.4,148.7v-3M671.4,950.8v3M685.7,148.7v-3M685.7,950.8v3M700.0,148.7v-3M700.0,950.8v3M714.3,148.7v-3M714.3,950.8v3M728.6,148.7v-3M728.6,950.8v3M742.9,148.7v-3M742.9,950.8v3M757.1,148.7v-7M757.1,950.8v7M771.4,148.7v-3M771.4,950.8v3M785.7,148.7v-3M785.7,950.8v3M800.0,148.7v-3M800.0,950.8v3M814.3,148.7v-3M814.3,950.8v3M828.6,148.7v-3M828.6,950.8v3M842.9,148.7v-3M842.9,950.8v3M857.1,148.7v-3M857.1,950.8v3M871.4,148.7v-3M871.4,950.8v3M885.7,148.7v-3M885.7,950.8v3M900.0,148.7v-7M900.0,950.8v7M99.0,150h-7M901.5,150h7M99.0,170h-3M901.5,170h3M99.0,190h-3M901.5,190h3M99.0,210h-3M901.5,210h3M99.0,230h-3M901.5,230h3M99.0,250h-3M901.5,250h3M99.0,270h-3M901.5,270h3M99.0,290h-3M901.5,290h3M99.0,310h-3M901.5,310h3M99.0,330h-3M901.5,330h3M99.0,350h-7M901.5,350h7M99.0,370h-3M901.5,370h3M99.0,390h-3M901.5,390h3M99.0,410h-3M901.5,410h3M99.0,430h-3M901.5,430h3M99.0,450h-3M901.5,450h3M99.0,470h-3M901.5,470h3M99.0,490h-3M901.5,490h3M99.0,510h-3M901.5,510h3M99.0,530h-3M901.5,530h3M99.0,550h-7M901.5,550h7M99.0,570h-3M901.5,570h3M99.0,590h-3M901.5,590h3M99.0,610h-3M901.5,610h3M99.0,630h-3M901.5,630h3M99.0,650h-3M901.5,650h3M99.0,670h-3M901.5,670h3M99.0,690h-3M901.5,690h3M99.0,710h-3M901.5,710h3M99.0,730h-3M901.5,730h3M99.0,750h-7M901.5,750h7M99.0,770h-3M901.5,770h3M99.0,790h-3M901.5,790h3M99.0,810h-3M901.5,810h3M99.0,830h-3M901.5,830h3M99.0,850h-3M901.5,850h3M99.0,870h-3M901.5,870h3M99.0,890h-3M901.5,890h3M99.0,910h-3M901.5,910h3M99.0,930h-3M901.5,930h3M99.0,950h-7M901.5,950h7" stroke="#000" stroke-width="1.3" fill="none"/>
<text x="185.7" y="135.3" font-size="10" text-anchor="middle" textLength="36" lengthAdjust="spacingAndGlyphs">−89°15'</text>
<text x="185.7" y="973" font-size="10" text-anchor="middle" textLength="36" lengthAdjust="spacingAndGlyphs">−89°15'</text>
<text x="328.6" y="135.3" font-size="10" text-anchor="middle" textLength="36" lengthAdjust="spacingAndGlyphs">−89°00'</text>
<text x="328.6" y="973" font-size="10" text-anchor="middle" textLength="36" lengthAdjust="spacingAndGlyphs">−89°00'</text>
<text x="471.4" y="135.3" font-size="10" text-anchor="middle" textLength="36" lengthAdjust="spacingAndGlyphs">−88°45'</text>
<text x="471.4" y="973" font-size="10" text-anchor="middle" textLength="36" lengthAdjust="spacingAndGlyphs">−88°45'</text>
<text x="614.3" y="135.3" font-size="10" text-anchor="middle" textLength="36" lengthAdjust="spacingAndGlyphs">−88°30'</text>
<text x="614.3" y="973" font-size="10" text-anchor="middle" textLength="36" lengthAdjust="spacingAndGlyphs">−88°30'</text>
<text x="757.1" y="135.3" font-size="10" text-anchor="middle" textLength="36" lengthAdjust="spacingAndGlyphs">−88°15'</text>
<text x="757.1" y="973" font-size="10" text-anchor="middle" textLength="36" lengthAdjust="spacingAndGlyphs">−88°15'</text>
<text x="900.0" y="135.3" font-size="10" text-anchor="middle" textLength="36" lengthAdjust="spacingAndGlyphs">−88°00'</text>
<text x="900.0" y="973" font-size="10" text-anchor="middle" textLength="36" lengthAdjust="spacingAndGlyphs">−88°00'</text>
<text x="84.5" y="153.6" font-size="10" text-anchor="end" textLength="30.5" lengthAdjust="spacingAndGlyphs">30°30'</text>
<text x="915.3" y="153.6" font-size="10" textLength="30.5" lengthAdjust="spacingAndGlyphs">30°30'</text>
<text x="84.5" y="353.6" font-size="10" text-anchor="end" textLength="30.5" lengthAdjust="spacingAndGlyphs">30°15'</text>
<text x="915.3" y="353.6" font-size="10" textLength="30.5" lengthAdjust="spacingAndGlyphs">30°15'</text>
<text x="84.5" y="553.6" font-size="10" text-anchor="end" textLength="30.5" lengthAdjust="spacingAndGlyphs">30°00'</text>
<text x="915.3" y="553.6" font-size="10" textLength="30.5" lengthAdjust="spacingAndGlyphs">30°00'</text>
<text x="84.5" y="753.6" font-size="10" text-anchor="end" textLength="30.5" lengthAdjust="spacingAndGlyphs">29°45'</text>
<text x="915.3" y="753.6" font-size="10" textLength="30.5" lengthAdjust="spacingAndGlyphs">29°45'</text>
<text x="84.5" y="953.6" font-size="10" text-anchor="end" textLength="30.5" lengthAdjust="spacingAndGlyphs">29°30'</text>
<text x="915.3" y="953.6" font-size="10" textLength="30.5" lengthAdjust="spacingAndGlyphs">29°30'</text>
<rect x="980.5" y="400" width="19.5" height="300" fill="url(#cb)"/>
<path d="M980.4,400v300M1000.2,400v300" stroke="#000" stroke-width="2.6"/>
<path d="M979.5,400h21.5M979.5,700h21.5" stroke="#000" stroke-width="4.6" stroke-linecap="round"/>
<path d="M980,400h20.5M980,460h20.5M980,520h20.5M980,580h20.5M980,640h20.5M980,700h20.5" stroke="#c8c8c8" stroke-width="2" stroke-opacity=".85"/>
<path d="M1001.5,400h6.5M1001.5,460h6.5M1001.5,520h6.5M1001.5,580h6.5M1001.5,640h6.5M1001.5,700h6.5" stroke="#000" stroke-width="1.3"/>
<text x="1027" y="403.6" font-size="10" text-anchor="end">37</text>
<text x="1027" y="463.6" font-size="10" text-anchor="end">30</text>
<text x="1027" y="523.6" font-size="10" text-anchor="end">23</text>
<text x="1027" y="583.6" font-size="10" text-anchor="end">16</text>
<text x="1027" y="643.6" font-size="10" text-anchor="end">9</text>
<text x="1027" y="703.6" font-size="10" text-anchor="end">2</text>
<text transform="translate(1055,550) rotate(-90)" font-size="12.5" font-weight="bold" text-anchor="middle" textLength="88" lengthAdjust="spacingAndGlyphs">Salinity (psu)</text>
<text x="283" y="29.7" font-size="18.6" font-weight="bold" textLength="435" lengthAdjust="spacingAndGlyphs">University of Southern Mississippi Ocean Cube</text>
<text x="283" y="1044.8" font-size="18.6" font-weight="bold" textLength="435" lengthAdjust="spacingAndGlyphs">University of Southern Mississippi Ocean Cube</text>
<text class="serif" x="287.6" y="115" font-size="18.6" textLength="424.6" lengthAdjust="spacingAndGlyphs">Salinity at 6 Feet FORECAST valid Jul 01 2022 00:00Z</text>
<text class="serif" x="772" y="110.3" font-size="14" textLength="126.8" lengthAdjust="spacingAndGlyphs">USM Test Range, MS</text>
<circle cx="120.1" cy="44.7" r="6.2" fill="#fff" stroke="#000" stroke-width="1.6"/>
<polygon points="120,53 127,60 120,67 113,60" fill="#fff200" stroke="#000" stroke-width="1.6"/>
<text x="131" y="49.7" font-size="13" font-weight="bold" textLength="138" lengthAdjust="spacingAndGlyphs">USM Instrumentation</text>
<text x="131" y="64.7" font-size="13" font-weight="bold" textLength="90" lengthAdjust="spacingAndGlyphs">NDBC Station</text>
<rect x="547.2" y="40" width="348.3" height="39.6" fill="none" stroke="#000" stroke-width="2"/>
<path d="M792,50H880" stroke="#000" stroke-width="1"/><polygon points="893,50 878,45 878,55"/>
<text x="551.5" y="54.6" font-size="11.3" font-weight="bold" textLength="45.2" lengthAdjust="spacingAndGlyphs">1.00 kts</text>
<path d="M699.5,60H880" stroke="#000" stroke-width="1"/><polygon points="893,60 878,55 878,65"/>
<text x="551.5" y="64.6" font-size="11.3" font-weight="bold" textLength="45.2" lengthAdjust="spacingAndGlyphs">2.00 kts</text>
<path d="M607,70H880" stroke="#000" stroke-width="1"/><polygon points="893,70 878,65 878,75"/>
<text x="551.5" y="74.6" font-size="11.3" font-weight="bold" textLength="45.2" lengthAdjust="spacingAndGlyphs">3.00 kts</text>
<text x="547.4" y="93.7" font-size="10.8" font-weight="bold" textLength="104.4" lengthAdjust="spacingAndGlyphs">CURRENTS Vectors</text>
</svg>
</body></html>
